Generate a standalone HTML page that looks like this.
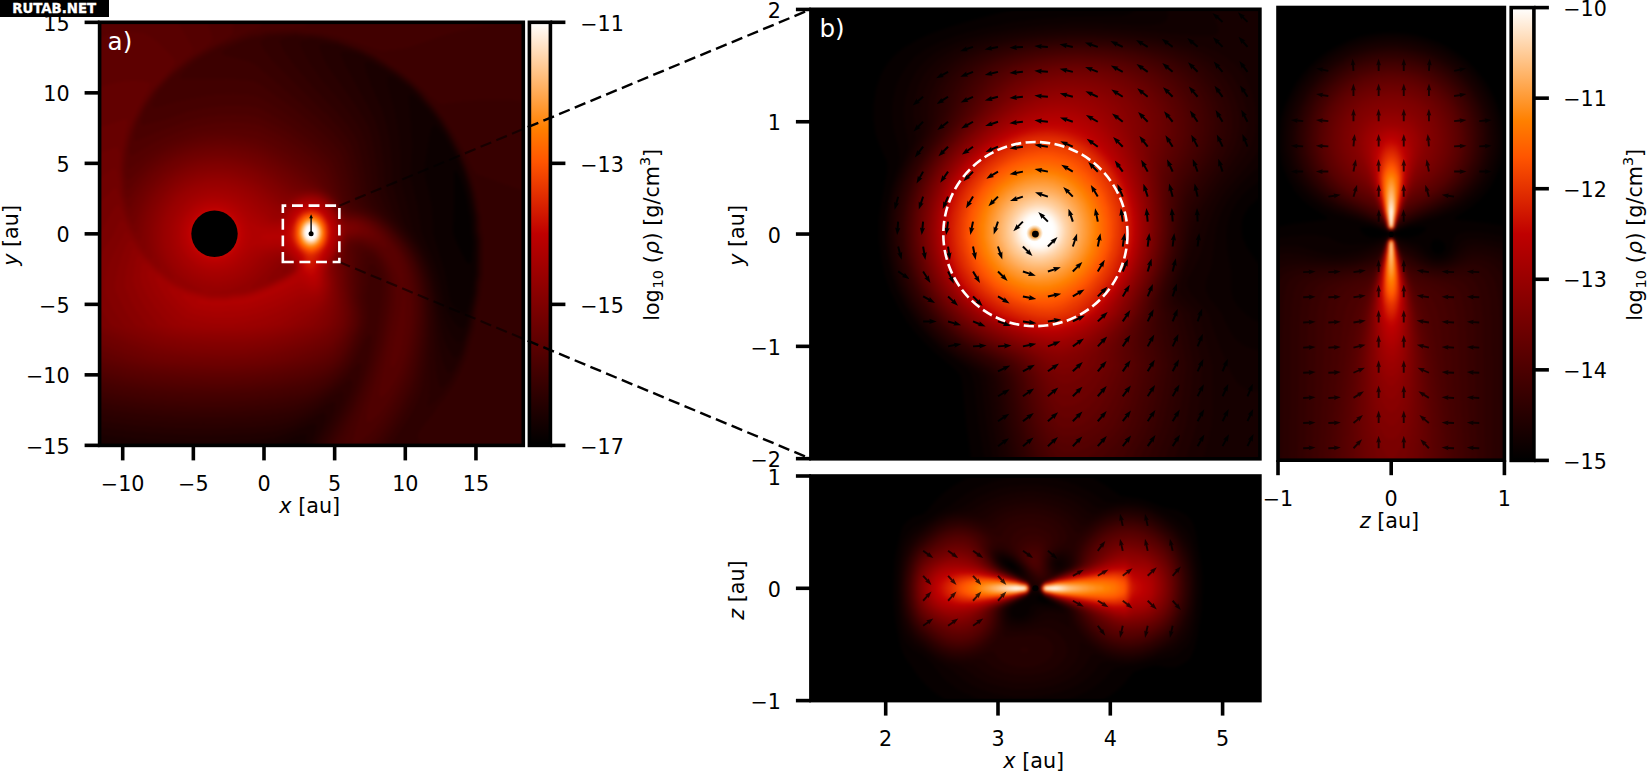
<!DOCTYPE html>
<html lang="en"><head><meta charset="utf-8"><title>Figure</title>
<style>html,body{margin:0;padding:0;background:#fff;overflow:hidden}svg{display:block}</style></head>
<body>
<svg width="1647" height="771" viewBox="0 0 1647 771">
<defs><linearGradient id="gh" x1="0" y1="0" x2="0" y2="1"><stop offset="0" stop-color="#ffffff"/><stop offset="0.25" stop-color="#ff8000"/><stop offset="0.33" stop-color="#ff5500"/><stop offset="0.5" stop-color="#bf0000"/><stop offset="1" stop-color="#000000"/></linearGradient></defs>
<clipPath id="hA"><rect x="99.6" y="22.3" width="423.7" height="423.1"/></clipPath><filter id="hAf" x="-5%" y="-5%" width="110%" height="110%" color-interpolation-filters="sRGB"><feGaussianBlur stdDeviation="1.5"/></filter><g clip-path="url(#hA)"><g fill-rule="evenodd" filter="url(#hAf)"><rect x="91.6" y="14.3" width="440" height="440" fill="#050000"/>
<path fill="#0c0000" d="M531.5 454.5l-440 0 0 -174 0 -266 440 0 0 440zM470.5 262.5l1 -3.5 1 -16.5 -1.5 -12 -0.5 -12 -2 -8 -1 -8 -4 -15.5 -4 -10 -4 -7 -1 0.5 -0.5 4 0 30 -1 26 0.5 4 4 10 8 15.5 2 3 2 1 1 -1.5z"/>
<path fill="#110000" d="M531.5 454.5l-440 0 0 -172 0 -268 440 0 0 440zM466.5 312.5l1 -2.5 4 -16 1.5 -11.5 1.5 -10 1 -30 -2 -10 -0.5 -16 -4.5 -22 -3 -12 -4 -11.5 -6 -15 -12 -20.5 -6 -7.5 -2 -2 -2 -0.5 -2 3 -2 8.5 -4.5 27.5 -0.5 6 0.5 6 3.5 14 3 14 1 12 1 18 11 36 2.5 12 3 16 1 4 4.5 6 6 4.5 2 1 2 -0.5 1 -1z"/>
<path fill="#160000" d="M531.5 454.5l-229 0 -1 -8 -2 -3.5 -2 -0.5 -4 1 -4 1.5 -11.5 9.5 -175 0 -11.5 -2 0 -166 0 -272 440 0 0 440zM462 328.5l1.5 -0.5 2 -3 4 -12.5 4.5 -20 0.5 -10 1.5 -8 0.5 -34 -2 -10 -0.5 -14 -4.5 -24 -2 -8 -4 -12 -6 -15.5 -12 -22.5 -8 -12 -10 -12.5 -12 -12 -2 -2 -4 -1.5 -0.5 2 0 2 2 26 1 18 -1 34 0.5 4.5 6 23.5 4 27.5 10.5 24.5 4 10 4 14 4 22 3.5 9 6 10 6 6 2.5 1z"/>
<path fill="#1a0000" d="M531.5 454.5l-224.5 0 0 -18 -1 -2 -2.5 -0.5 -8 2 -18 8 -10 2.5 -14 2 -26 1.5 -30 0.5 -30 -1 -26 -2 -50 -6 0 -155 0 -272 440 0 0 440zM460 342.5l1.5 -2 2 -3.5 4 -10.5 7.5 -34 0.5 -10 2 -8 0 -34 -1.5 -10 -1 -14 -2 -12 -4 -18 -5.5 -17 -6 -15 -10 -19 -12 -18.5 -18 -21 -8 -7.5 -15 -10 -5 -2 -2 0.5 -0.5 1.5 0.5 6 7.5 28 4 22 1.5 20 0.5 28 5.5 20 5 22 2 6 12.5 22 6.5 16 4 14 6 30 5 15.5 4 7.5 4 5 2 2 2.5 0z"/>
<path fill="#1f0000" d="M531.5 454.5l-220.5 0 0 -6 1 -6 3.5 -12 1 -4 -0.5 -2 -2.5 -1 -6 2 -20 8 -12 4 -12 2 -20 1.5 -38 1 -38 -1 -36 -2.5 -40 -4.5 0 -147.5 0 -272 440 0 0 440zM457 356.5l2.5 -3.5 2 -4.5 7.5 -22 7 -34 0.5 -10 2 -8 0 -34 -2 -10 0 -12 -2.5 -14 -4.5 -20 -6 -18 -5 -12 -5 -9.5 -5.5 -10.5 -6.5 -10.5 -12 -16 -6 -6.5 -5.5 -7 -6.5 -6 -16 -12 -21.5 -12 -4.5 -2 -4 -0.5 -0.5 0.5 -0.5 2 2 8 4.5 12 11.5 26 4 14 3 14 1.5 14 1 12 0.5 20 8.5 30 2 6 3 6 13.5 20 8 16 4 12 2 8 8 46 2 9 4 10.5 4 6.5 2 2.5 2 0.5 1.5 -1z"/>
<path fill="#240000" d="M531.5 454.5l-217 0 0 -6 2 -8 7.5 -16 2 -6 0 -4 -0.5 -1 -2 -0.5 -6 2 -22 10.5 -12 4 -14 3 -20 1.5 -38 1.5 -40 -1 -40 -3 -40 -5 0 -140 0 -272 440 0 0 440zM450 372.5l3.5 -3.5 6 -10.5 3 -6 5 -16.5 3 -9.5 6.5 -34 0.5 -10 1.5 -8 0.5 -34 -2 -10 -0.5 -14 -4.5 -24 -4 -14 -4 -12 -5 -12 -11.5 -22 -10.5 -16 -8 -10 -5.5 -6 -6.5 -8 -8 -7.5 -12 -9 -25.5 -15.5 -14.5 -6.5 -12 -2.5 -4 0.5 -0.5 0.5 0 2 4 10 25.5 46 5.5 12 4 14 2.5 16 1.5 14 1 22 7.5 22 5.5 10 5.5 8 7.5 10 7 10 4 8 5 12 3.5 12 3 14 3 24 2 22 2 12 2 8 3 8 2 3.5 2 0.5 0.5 0z"/>
<path fill="#290000" d="M531.5 454.5l-213.5 0 0.5 -8 1.5 -6 11.5 -22 3.5 -10 0.5 -4.5 -2 -2 -6 2 -22 12 -14 5.5 -16 4 -20 2 -40 1.5 -40 -0.5 -42 -3 -42 -5.5 0 -405.5 440 0 0 440zM444 386.5l5.5 -6 6 -9.5 6.5 -12.5 2 -6 7.5 -26 6.5 -34 0.5 -8 2 -10 0 -34 -2 -10 -0.5 -14 -4.5 -24 -2.5 -10 -5 -14 -7.5 -18 -8.5 -16 -7.5 -12 -11.5 -16 -6 -6 -5.5 -7 -9.5 -9 -16.5 -12.5 -20 -12.5 -11 -5 -5 -2.5 -20 -6.5 -12 -1.5 -5 0.5 -1 2 1 4 3 8 3 6 29 40.5 8.5 13.5 4.5 8 3.5 12 3 16 2 14 1.5 22 1 4 5 12 4.5 8 24 30 7 12 5 12 4.5 16 3.5 24 1 14 1 32 2 22 2.5 10 2 1 2.5 -1z"/>
<path fill="#2d0000" d="M531.5 454.5l-210.5 0 0.5 -6 1.5 -6 12.5 -24.5 7 -15.5 1 -4 0.5 -4 -0.5 -2 -2 -1 -6 2.5 -24 14.5 -12 5.5 -8 2.5 -8 2 -22 3 -40 2 -42 -1 -22 -1 -22 -2 -44 -6.5 0 -398.5 440 0 0 440zM428 406.5l3.5 -2 8 -7 4 -4.5 7 -8.5 8 -14 6.5 -16 7.5 -26 3 -18.5 3.5 -15.5 0.5 -10 2 -10 0 -36 -1.5 -8 -0.5 -14 -2 -7 -0.5 -7 -2.5 -10 -4 -14 -4 -12 -6 -14 -10.5 -20 -7.5 -12 -10.5 -14 -6.5 -7 -4 -5 -12 -12 -12 -9 -24 -15 -14 -7 -22 -7.5 -15.5 -3.5 -10.5 -1 -8.5 1 -3 2 0 2 3.5 8 6 10 11 16 17 19.5 10 12.5 10 14 4.5 8 3.5 10 3.5 16 2 14 1.5 20 1 4 2.5 6 5.5 8 14 15 15 19 6 10 6 14 4 12 1.5 10 2.5 16 0.5 14 -2 76 -1.5 8 0 2 0.5 0z"/>
<path fill="#320000" d="M531.5 454.5l-110.5 0 -1 -10 -2 -8 0.5 -4 4 -6 8.5 -10 8.5 -12 5 -6 8.5 -12 3.5 -6 4 -8 6 -14 8.5 -30 0.5 -6.5 1.5 -5.5 0.5 -6 3.5 -16 1 -10 1.5 -8 0 -6 0 -32 -2 -9.5 -0.5 -12.5 -1.5 -6 -0.5 -6 -2.5 -12 -3.5 -12 -6 -16 -5 -12 -9.5 -18 -10 -16 -9 -12 -7.5 -8 -4.5 -6 -8 -7.5 -14 -11.5 -6 -3.5 -20 -13 -12 -5.5 -24 -9 -14 -3.5 -12 -1.5 -8 0 -8 -1 -4 0.5 -8 1.5 -3.5 2 0 2 5 10 10.5 14 20 23.5 22 23 9.5 11.5 7 10 4 8 3.5 14 3 16 2.5 22 2 6 4 6 18.5 17.5 11 12.5 6 8 4 6 5 10 3.5 8 3 10 3.5 20 1 18 0 18 -2.5 30 -3 20 -2 8 -5 12 -7.5 14 -12 18 -13.5 18 -58.5 0 0 -6 2 -6 14.5 -28 8 -18 3 -10 0.5 -4 -1 -2.5 -2 0 -2 1 -24 16.5 -10 5.5 -8 4 -8 3 -8 2 -24 3.5 -20 1.5 -22 0.5 -22 0 -22 -0.5 -22 -1.5 -22 -2 -20 -2.5 -24 -4 0 -392.5 440 0 0 440z"/>
<path fill="#370000" d="M375.5 454.5l-48 0 0.5 -6 1 -4 18.5 -36 9 -22 3 -10.5 1.5 -7.5 0.5 -4 -2 -2 -4 3.5 -9.5 10.5 -7 6 -9.5 7 -10 6.5 -8 4 -10 3.5 -10 3 -12 2 -20 2 -22 1.5 -22 0.5 -24 -0.5 -26 -1 -24 -2.5 -24 -3 -26 -4.5 0 -386.5 440 0 0 179.5 -54 -19.5 -2 -1.5 -2 -3 -10.5 -21.5 -10.5 -18 -8 -12 -9.5 -12 -7.5 -8.5 -4.5 -5.5 -11.5 -11 -10 -7.5 -28 -18.5 -14 -6.5 -22 -8 -14 -3.5 -12 -2 -8 0 -8 -1 -23 2 -7.5 2 -3 2 -1.5 2 0.5 2 3.5 6 9.5 12 37.5 37.5 20 19 10 11.5 7.5 10 3 6 4 14 3.5 16 2 18 2 6 4.5 6 13.5 10.5 8 7.5 15.5 18 5.5 8 3.5 6 4 10 3 8 2.5 12 2 12 0.5 10 0.5 14 -1 18 -2 18 -2 12 -3 14 -2 6 -5.5 12 -10 18 -15 22 -9.5 12 -1 0z"/>
<path fill="#3c0000" d="M369.5 454.5l-38 0 -0.5 -2 0.5 -4 1.5 -4 19 -38 7.5 -18 4 -12 4.5 -16 3.5 -20 0 -3 -1 -3 -1 -0.5 -4 4.5 -4.5 10 -6.5 12 -7.5 10 -7.5 7.5 -10 8 -10 6 -10 4.5 -12 3.5 -20 3.5 -24 2.5 -26 1.5 -26 0 -32 -1.5 -26 -2.5 -28 -3.5 -24 -4.5 0 -381 440 0 0 87.5 -24 -2 -20 0 -22 1 -22 3 -4 -0.5 -10 -7.5 -5 -5.5 -13 -11.5 -4 -2.5 -6 -5 -26 -16.5 -16 -7.5 -20 -7.5 -18 -4.5 -26 -2.5 -28 1.5 -8 2.5 -7.5 1.5 -11.5 4 -13 6 -3.5 2 -2 2 1 2 2.5 1 24 6 6 3 64 55 14 13.5 10 12 4 7.5 5.5 20 3.5 24 2.5 6 4 4 18.5 12.5 10 9.5 10 12 6 8 5.5 10 3.5 8 3 10 2 10 2 14 1 18 -1 14 -2 16 -2.5 16 -2.5 12 -2.5 8 -3 8 -6 12 -6.5 12 -7.5 12 -8.5 12 -11 14 -2 0z"/>
<path fill="#410000" d="M365.5 454.5l-30 0 -0.5 -2 1.5 -6 17 -36 10 -25 6.5 -19 6 -26 5.5 -41.5 1 -14.5 -0.5 -6 -1.5 -4 -3 -6 -4 -4 -2 -0.5 -2 1 -2 5.5 0.5 12 -2 14 1.5 16 -0.5 10 -2 8 -7 16 -7 14 -4.5 6 -5 5.5 -6 5.5 -6 4.5 -6 4 -8 4 -8 3 -8 2 -26 4 -28 2.5 -30 1 -38 -1 -28 -2 -30 -4 -28 -5.5 0 -375.5 440 0 0 7 -30 2 -28 4.5 -16 3.5 -14 4 -36 12.5 -22 3 -4 0 -4 -1 -38 -13 -16 -3.5 -12 -1 -6.5 0 -9.5 -1.5 -30 2 -6 2 -8 1 -8 2.5 -25 10 -21 12 -12.5 10 -5 6 1 2 2.5 0.5 44 -0.5 16 1.5 10 1 4 2 4 2.5 34 24.5 28 23.5 10 10.5 7 8.5 2.5 6 3 10 3 12 3 18 2 4 4 4 19.5 11.5 10 8.5 14 16 5 8 4.5 8 4 10 3.5 12 2.5 14 1 12 0 14 -1 12 -2 16 -3 16 -3 12 -2.5 8 -5.5 12 -6 12 -7.5 12 -8 11.5 -17.5 22.5 -0.5 0z"/>
<path fill="#450000" d="M357.5 454.5l-16.5 0 -0.5 -2 1 -4 19.5 -48 7.5 -20 5.5 -18 5.5 -24 6 -38 0.5 -10 -0.5 -8 -1 -6 -3 -8 -6 -9 -4 -3 -4 -0.5 -2 2 -2 8.5 0 16 -1.5 14 2 14 0.5 8 -1.5 8 -6 16 -8 16 -7.5 9.5 -10 9 -12 7 -8 3 -8 2.5 -26 4.5 -28 3 -32 1 -38 -1 -30 -2.5 -30 -4 -28 -6 0 -370 222 0 -2 4 -6 8 -12.5 2 -27.5 2.5 -6 1.5 -8 1.5 -10 3 -23 9.5 -18.5 10 -6.5 4 -8 6 -14 11.5 -14 16 -4.5 8.5 -0.5 2 0 2 1 1 4 0 20 -6 12 -2.5 16 -3 12 -1.5 16 -0.5 16 1 6 1 6 2.5 20 12.5 14 9.5 20 15.5 14 13.5 6 7 3 6 5.5 18 4 20 2 4 2.5 2 3.5 2 15.5 7.5 10 7 9.5 9.5 8.5 10 6 9 5.5 11 4 12 2.5 12 2 14 0.5 14 -1 12 -2 18 -3.5 18 -3 12 -3 8 -6 13 -8 14.5 -8 12.5 -8 10.5 -18 21.5 -2 0z"/>
<path fill="#4a0000" d="M359.5 442.5l-4 1.5 -2 -1 -0.5 -2.5 0.5 -4 4.5 -16 14.5 -42 5.5 -20 4 -16 3 -18 3 -18 1 -12 0 -8 -1 -6 -1.5 -6 -3 -7.5 -4 -6.5 -4 -5 -4 -3 -4 -1 -4 0 -2 2.5 -2 12.5 0.5 14 -0.5 18 1.5 10 0.5 8 -0.5 8 -2 6 -7.5 18 -8 13.5 -4 4.5 -6 5 -6 4.5 -6 3 -8 3 -8 2.5 -28 5 -28 3 -30 1 -40 -1 -30 -2.5 -28 -4 -30 -6.5 0 -365 172.5 0 -2.5 10 -1.5 2 -2 2 -8.5 2.5 -34 15 -21.5 12.5 -21 16 -15.5 16 -8 11.5 -4 7.5 -2 4.5 -2 6.5 0 4 2 0.5 4 -1 18 -4.5 22 -8 12 -2.5 12 -2 14 -1.5 14 0 14 1 6 1.5 16 9 16 10 20 14.5 12 11 7.5 8 2.5 4.5 5 13.5 5 20.5 2 4.5 2 3 2.5 2 17.5 7 10 6 10 9 12.5 16 6 10 5 12 3.5 12 2 14 1 12 -0.5 14 -1.5 16 -3 18 -3 11.5 -4 12.5 -6 13 -8 14.5 -8 12 -8 10 -8 8 -8 6.5z"/>
<path fill="#4f0000" d="M371.5 421l-2 1 -2 -0.5 -1 -1 0 -6 1 -6.5 11 -37.5 6.5 -28 6 -36 1 -10 0 -8 -1 -8 -1.5 -6 -3.5 -8 -3.5 -6 -6.5 -8 -6.5 -3.5 -4 -1 -4 -0.5 -2.5 1 -2 2 -0.5 2 -0.5 14 1 12 0 20 1.5 10 1 8 -1 8 -1 4 -8 18.5 -8 13.5 -8 7.5 -6 4 -6 3 -8 3 -10 2.5 -30 5.5 -26 2.5 -30 1 -40 -1.5 -30 -2.5 -24 -4 -32 -7 0 -360 141 0 1 16 -0.5 2 -1 2 -5.5 4 -11 5.5 -20 11.5 -8 5.5 -16 13 -16 17 -10.5 15.5 -7.5 16 -3 12 0 4 0.5 2 0.5 0.5 2 -0.5 22 -9.5 26 -9.5 18 -4.5 16 -2 14 -0.5 18 1 8 2 16 8 14 8 18 13 10 8.5 8 8 4 5.5 3 8 5.5 16 3.5 8.5 4 6.5 4 3 10 3 6 2.5 11 6.5 5 4 5.5 6 11 14 5.5 9 4 9 3 10 2 10 1.5 12 0.5 14 0 12 -2 14 -2.5 14 -2.5 10.5 -4 12.5 -4 9 -6 11.5 -8 12.5 -8 9.5 -6 5z"/>
<path fill="#540000" d="M383.5 396.5l-2 1 -2 -0.5 -0.5 -6.5 15.5 -80 1 -14 -0.5 -12 -2 -8 -3 -8 -4.5 -8 -4.5 -6 -3.5 -4 -4 -2 -6 -2.5 -6 -1.5 -4 0.5 -2.5 1.5 -2 2 -0.5 2 2 50 2 8 0.5 6 0 6 -1 6 -8 18 -4.5 8 -4 5.5 -6 6 -10 6 -8 3 -10 3 -32 6 -26 2.5 -30 1 -38 -1.5 -32 -3 -22 -3.5 -34 -8 0 -355 114 0 6.5 22 0 4 -3 4 -5 4 -10.5 6.5 -22 17.5 -16 16.5 -8 11.5 -4 6 -6.5 14 -4 10 -2 8 -1.5 9 0 5.5 2 2.5 2 -0.5 18 -11 12 -6 22 -8.5 12 -3.5 14 -2.5 16 -1.5 16 0.5 14 2 12 5.5 14 7.5 18 12.5 10 7.5 8 7.5 4.5 5.5 2.5 4 6 14 9 16 4 5.5 4 2.5 8 2 6 2 7.5 4 4.5 3 6 5 6.5 8 7.5 10 4 6 4 8.5 2.5 7.5 2 8 2 12 1.5 14 0 12 -1 14 -3 16.5 -2 9.5 -4 13 -4 9 -4 7 -6 9 -4 4z"/>
<path fill="#580000" d="M249.5 380.5l-18 1 -20 0 -28 -1.5 -20 -1.5 -32 -4 -40 -10 0 -350 81 0 13 20.5 7.5 13.5 -0.5 2 -3 4 -20 18 -15 16 -7 10 -5 8 -7 14 -4 10 -2 8 -2.5 14 0 12 0.5 3.5 2 1 2 -1.5 16 -12.5 16 -9.5 12 -5.5 18 -6.5 14 -2.5 20 -2 18 1 8 1 6 1.5 14 6.5 12 7 16 11 10 8 9 9.5 6.5 12 8.5 10.5 8.5 13.5 3.5 3 10 2 8 3 6.5 4 5 4 7.5 8 9.5 14 4 8 3.5 9.5 2 9.5 0.5 15 1.5 12 0.5 16 -0.5 6 -2 14 -2 10 -4 12 -2 4 -2 2.5 -2 0 -0.5 -0.5 -0.5 -4 0.5 -4 2.5 -16 8 -38 1.5 -12 -2 -8 -4 -10 -6.5 -12 -4 -6 -5.5 -6 -5.5 -3.5 -6.5 -2.5 -7.5 -2 -4 0 -4 1.5 -2 1 -2 3.5 -0.5 4 2.5 22 1 22 2 16 0 10 -1.5 6 -5.5 11.5 -4 7.5 -4.5 7 -5.5 5.5 -4 3 -8 3.5 -8 3 -14 3.5 -18 3.5 -16 2.5 -16 1.5z"/>
<path fill="#5d0000" d="M251.5 376.5l-18 1 -20 0 -28 -1 -22 -2 -30 -4 -20 -5 -22 -6 0 -319 16 -5.5 12 -2.5 12 -0.5 12 1 6 3 8 6 10 9.5 6 6.5 1.5 2.5 0 2 -2.5 4 -21.5 24 -10 16 -7 14 -5.5 16 -3 16 -1 16 1 7 2 4.5 2 -0.5 16 -16 12 -9 14 -8 14 -5.5 16 -4.5 18 -2 18 1 18 3 8 2.5 16 8.5 10 6 14 10 12 11 6 8 12 12.5 10 15 2 1.5 4 2 8 1.5 4 1.5 8 4 7.5 6 5 6 2.5 4 2.5 8 -1.5 1.5 -2 -1 -12 -4 -10 -2.5 -4 0.5 -6 1 -2 1.5 -1.5 3 -1 4 -0.5 8 2 12 1 20 1.5 12 1.5 8 0 10 -1.5 6 -5.5 12 -4 7 -6 7.5 -4 4 -6 4 -6 2.5 -10 3 -14 3.5 -16 3 -14 2 -14 1.5z"/>
<path fill="#620000" d="M253.5 372.5l-20 1 -22 0 -28 -1 -24 -2.5 -18 -2.5 -16 -3.5 -14 -3.5 -20 -7 0 -263 16 -6 14 -3 8 -1 8 0 8 1 4 1.5 0.5 1.5 -2.5 6 -7 12 -7.5 16 -4.5 12 -2.5 10 -2 10 -1 16 0.5 9 2 11 0 1 2 2.5 2 -1 12 -14.5 10.5 -10 11.5 -9 14 -7 16 -5.5 16 -3 16 -1 18 2 12 3 8 3 14 7.5 18 12 10 7.5 11.5 10.5 12.5 10 6 6.5 8 12.5 2 2 4 1.5 8 1.5 8 3 6.5 5 5.5 6 1.5 2 1.5 4 0 2 -1 0.5 -4 0 -12 -2 -8 0.5 -4 0.5 -2 1 -2 2.5 -1 3 -1.5 6 -1 8 0.5 4 1.5 4 2 26 2 16 0 8 -1 6 -2 6 -5.5 9.5 -6 8 -4 4 -6 4 -8 4 -6 2 -14 3.5 -14 3 -16 2.5 -14 1.5z"/>
<path fill="#670000" d="M257.5 368.5l-22 1.5 -22 0 -30 -1.5 -26 -2.5 -16 -2.5 -13.5 -3 -36.5 -13.5 0 -218.5 16 -3.5 16 -5.5 2 -0.5 2 1.5 0 2.5 -3 13.5 -2 14 -1 16 2 23 2 7 2 2 2 -0.5 11 -15.5 9 -10.5 11.5 -9.5 12.5 -7.5 14 -6 16 -4 16 -1.5 16 1 12 2 10 3 8 3.5 12 7 14 9.5 17 13 13 7.5 6 4 6.5 6.5 9 14 2.5 2.5 4 1 8 1.5 6 3 5.5 4 4 4 2 4 -0.5 2 -1 0.5 -2 0.5 -12 -0.5 -8 1.5 -4 2.5 -2 3.5 -3 12 -0.5 6 2 8 1 16 3 26 -0.5 6 -2 8.5 -5 9.5 -5 6 -4 4.5 -6 4 -8 4 -14 5 -22 5 -24 3.5z"/>
<path fill="#6c0000" d="M233.5 366.5l-20 0 -28 -1.5 -20 -1.5 -18 -3 -22 -6.5 -34 -13 0 -184.5 18 -7 6 -2 2 0 0.5 1 1.5 3.5 0.5 2.5 -0.5 12 3 28 5 12.5 2 1 2 -2.5 5 -9 5 -8 9.5 -12 6.5 -6 6 -5 6 -4 8 -4.5 8 -3 8 -3 10 -2 8 -1 8 -0.5 10 0.5 8 1 10 2 10 3 8.5 4.5 15.5 9.5 22 16 14 5.5 6 3 6 4.5 4 4 8.5 13.5 3.5 3.5 4 1.5 8 1.5 6 3.5 4.5 4 1.5 2 0 2 -2 2 -10 1 -8 2 -2 1.5 -2 2.5 -2 6 -3.5 15 0 4 2 6 1 14 1.5 16 0.5 14 -1 6 -1 4 -5.5 8 -4.5 6 -5.5 4.5 -8 4 -16 6 -16 5 -12 2.5 -14 2 -28 2z"/>
<path fill="#700000" d="M243.5 362.5l-22 0.5 -28 -1 -21 -1.5 -15 -2.5 -10 -2 -16 -5.5 -40 -15.5 0 -151.5 18 -12.5 4 -2 2 0 2 3.5 2 10.5 1.5 11.5 4.5 14 4 7.5 2 0 8.5 -17.5 7.5 -12 5.5 -6 6 -6 6.5 -5.5 6 -4.5 6 -3 8 -3.5 8 -3 10 -2 8 -1 8 -0.5 16 1 12 3 12 4 16 9.5 22 16 6 2.5 12 2.5 8 3.5 6 4.5 4 4.5 8 12.5 4 4.5 4 1.5 6.5 1.5 4 2 2.5 2 1.5 2 0.5 2 -2.5 2 -12.5 3.5 -2 1 -2 2.5 -7 21 -0.5 4 2 10 2 26 0.5 14 -1 6 -2 5.5 -6 8 -6 5.5 -6 4 -10 4 -14 5 -14 4 -16 3.5 -24 2.5z"/>
<path fill="#750000" d="M245.5 358.5l-22 0.5 -28 -1 -20 -2 -18 -2.5 -10 -2.5 -16 -6 -40 -16.5 0 -115 12 -15 10 -10 2 -1 2 3 1 4 3.5 8 1.5 6 4 9.5 4 6 2 1 2 -4 3 -8.5 3 -8 6.5 -12 4.5 -6 5.5 -6 5.5 -5.5 6.5 -4.5 6.5 -4 7 -4 8 -3 8 -2 8 -1.5 8 -0.5 8 0 10 1 14 3 14 6 12 7 18 13.5 4 2.5 4 1 14 1.5 6 1.5 4 2 6 5 4 4 10 16 4 2.5 8 2 3 2.5 1 2 -0.5 2 -3.5 2 -6 1.5 -2 1 -2 2.5 -2 4.5 -7 20.5 0 4 1.5 10 1.5 20 0.5 10 -1 8 -1 6 -1.5 4 -3 4 -6 6 -6 4 -8 4 -14 5 -14 4 -14 3.5 -12 2 -14 1.5z"/>
<path fill="#7a0000" d="M243.5 354.5l-20 0.5 -28 -1 -20 -2 -18 -3.5 -10 -3 -16 -5.5 -31 -13.5 -2.5 -2 -6.5 -8.5 0 -71.5 8 -10 8.5 -16 6 -10 3.5 -3.5 2 1 7 14.5 5 9 2 2 2 1.5 2 -0.5 3.5 -16 4 -10 5 -10 7.5 -10 8 -8 11 -8 11 -5.5 12 -4 10 -1.5 10 -0.5 10 0.5 12 2.5 10 3.5 10 4.5 10 6.5 16 12 4 2 4 1 14 0 4 0.5 6 1.5 6 3.5 4 3.5 5 6 9 14.5 4 3 5 2.5 2 2 -7 4.5 -2 2.5 -2 4 -8.5 25 -0.5 4 1.5 8 1.5 18 -0.5 10 -0.5 6 -2 8 -3.5 8 -5.5 4.5 -6 4 -10 4.5 -16 5.5 -12 3.5 -14 3 -24 3z"/>
<path fill="#7f0000" d="M241.5 350.5l-24 0 -20 -0.5 -16 -1.5 -20 -3.5 -20 -6.5 -24 -10 -4.5 -2 -2.5 -2 -10 -16 -4 -8 -2.5 -6 -1 -8 1 -8 1.5 -8 2 -8 5.5 -12 10.5 -16 6 -13.5 2 -1.5 2 1.5 7.5 11.5 4.5 5.5 4 3 1.5 -0.5 2.5 -16 3 -12 5.5 -12 7 -10 8.5 -9 10 -7.5 12 -6 12 -3.5 10 -1.5 8 -0.5 10 1 10 2 10 3 10 5 11 7 15 11.5 4 2 4 0 8 -1 6 -0.5 6 0.5 6 1.5 6 3.5 7 6.5 4 6 5 9 5.5 7 0.5 2 -0.5 2 -3.5 6.5 -4 13.5 -6 14 -0.5 4 1.5 10 0.5 14 -0.5 12 -3.5 12 -2.5 6 -3 3.5 -4 3.5 -6 3 -16 6 -12 4 -22 5 -24 3z"/>
<path fill="#830000" d="M241.5 346.5l-24 0 -20 -1 -16 -1.5 -18 -3 -20 -7 -18 -7.5 -2.5 -2 -10.5 -16 -5 -10 -2 -6 -1 -4 0.5 -8 3 -14 3 -8 4 -8 8.5 -16 2 -2.5 2 1 4 3.5 10 12 2 1.5 2 0.5 1 -2 0 -16 1.5 -12 4 -12 7 -12 8.5 -10 10 -8.5 12 -6 12 -4 10 -1.5 10 0 12 1.5 10 2.5 8 3.5 8 4 8 5.5 16 12 4 1.5 4 0 10 -3 6 -0.5 6 0.5 6 1.5 8 5 5.5 6 11.5 20 0.5 2 -0.5 4 -5.5 16 -6 14 -1 4 -0.5 4 1.5 10 0 10 -0.5 8 -1 6 -4 10 -6 10 -4 3 -6 2.5 -26 9 -22 5 -22 2.5z"/>
<path fill="#880000" d="M243.5 342.5l-24 0 -20 -0.5 -16 -1.5 -18 -3.5 -18.5 -6.5 -9.5 -4 -4 -3.5 -6 -8.5 -4.5 -8 -4 -8 -3.5 -8 -0.5 -4 0 -4 2 -10 4.5 -16 6 -14 2 -2 2 0.5 2 1.5 12 13 4 3 2 0 0.5 0 0.5 -2 -2.5 -16 0.5 -12 2.5 -12 5 -12 7.5 -11 5 -5 5 -4.5 6 -4 6 -3.5 12 -4.5 10.5 -1.5 11.5 -0.5 10 1 10 3 10 4 7.5 4.5 20.5 15 5.5 3 2.5 0 12 -4.5 6 -1.5 8 0 6 2 6.5 4 6 6 4 6 7 14 0.5 2 0 4 -4.5 14 -8.5 20 -0.5 4 1.5 12 0 6 -2 11.5 -4 10.5 -6 8.5 -5 5.5 -3.5 2 -21.5 7.5 -22 5.5 -12 1.5 -12 1.5zM285 272.5l3 -2 0.5 -2 -1 -0.5 -2 -0.5 -1 1 -2 2 -1 2 2 0 1.5 0z"/>
<path fill="#8d0000" d="M245.5 338.5l-24 0.5 -20 -1 -16 -1.5 -16 -2.5 -20 -7.5 -3 -2 -1.5 -2 -9 -12 -5.5 -10 -5 -12 -0.5 -4 0 -4 1.5 -12 4.5 -16 0.5 -2 2 -2 2 0.5 10.5 9.5 11.5 9 2.5 1 1 -2 -5.5 -16 -1.5 -12 0 -8 1 -6 3.5 -12 3 -6 4 -7 4.5 -5 5.5 -5.5 6 -5 6 -3.5 12 -4.5 10 -2 10 -0.5 10 1 10 3 8 3 8 4 6 4 16 13 4 2 2 0.5 4 -1.5 10 -5 6 -1.5 8 -0.5 6 1 4 1.5 4 2.5 6 6 5 8 5.5 12 0.5 2 0 4 -3.5 12 -3 8 -6 12 -1 4 0 4 1 10 -0.5 8 -1.5 6 -3 8 -5.5 7.5 -6 6 -9 6.5 -9 3.5 -12 4 -12 2.5 -14 2.5 -12 1.5zM272 280.5l10 -4 7 -4 2.5 -2.5 0.5 -1.5 -0.5 -2 -2 -2 -4 -2 -2 0 -4 2 -5.5 6 -6.5 8 -1 2 1 0.5 4.5 -0.5z"/>
<path fill="#920000" d="M247.5 334.5l-20 0.5 -32 -1 -20 -3 -14 -4.5 -3.5 -2 -2.5 -3 -10 -13 -7 -12 -4 -10 -1.5 -6 0.5 -6 2 -14 2 -4.5 2 0 2 1.5 9.5 7 6.5 6 6 3 4 3 4 2 2 0.5 1 -0.5 -9 -14 -3 -6 -3 -8 -1 -6 -0.5 -8 0.5 -8 1 -6 2.5 -8 2.5 -6 4 -6 4.5 -6 4.5 -4.5 6 -4.5 6 -3.5 8 -3.5 10 -2.5 10 -0.5 10 0.5 10 2.5 8 3.5 8 4 6 4.5 15.5 12 4.5 2.5 2 0.5 4 -1.5 10 -6 6 -2.5 8 -1.5 8 1.5 4 1.5 4 2.5 6 6 4.5 7 5 12 0.5 6 -3 12 -3 8 -6.5 12 -1 4 -0.5 4 1 12 -1.5 8 -3 8 -4.5 6 -8 6.5 -18 11.5 -4.5 2 -19.5 5 -22 3zM252 288.5l14.5 -4 18 -8 6.5 -4 2 -2 1 -2 -0.5 -2 -4 -4.5 -4 -2.5 -4 -0.5 -3.5 1.5 -5.5 4 -13 14 -9 8 0.5 2 1 0z"/>
<path fill="#970000" d="M251.5 330.5l-20 1 -26 -0.5 -20 -2 -12 -2.5 -3.5 -2 -4.5 -4 -10 -12 -7.5 -12 -6 -12 -1.5 -6 0 -6 1 -7.5 2 -2 4.5 1.5 7.5 6.5 6 3.5 8 6 7.5 4 10.5 4 10 2 4 0.5 2.5 -0.5 -8.5 -3.5 -8 -5 -7.5 -5.5 -5.5 -6 -5 -7 -4 -8 -3 -9 -1 -8 0.5 -8 1 -8 3 -8 4 -8 5.5 -7.5 6 -5.5 8 -5.5 8 -3.5 8 -2.5 10 -1 10 0.5 10.5 3 7.5 3 9 5 21 16 4 3.5 2 0.5 14 -10 6 -3.5 8 -2 8 0.5 4 1.5 4 2 6 5.5 4.5 6 5.5 12 1 6 -1.5 10 -3.5 10 -8 16 -1 4 0.5 14 -1 4 -2.5 7.5 -2.5 4.5 -5.5 4.5 -14 7 -20 12.5 -10 2.5 -20 3.5zM243.5 292.5l9.5 -2 6 -2 10.5 -4 13 -6 7 -4 4 -3.5 1.5 -2.5 0 -2 -1.5 -2.5 -8 -6.5 -4 -1.5 -2.5 0.5 -5 2 -4.5 3 -16 15.5 -6 4.5 -6 3.5 -12 5 -10 1.5 -10 0 -2 1 18 1 6 -1 12 0z"/>
<path fill="#9b0000" d="M253.5 326.5l-18 1.5 -24 0 -18 -1.5 -10.5 -2 -3.5 -2 -4 -3 -6 -6 -6 -7 -8.5 -12 -5.5 -12 -2 -6 0 -4 0 -2 2 -1 10 5.5 8 6 6 3.5 14 6 22 5 16 0.5 8 -1.5 8 -0.5 15.5 -3.5 12.5 -5 15 -7 7 -4.5 4 -3.5 0.5 -2 0 -2 -0.5 -2 -2 -2 -8 -7 -2 -1.5 -4 -0.5 -8.5 3 -5.5 2.5 -3.5 3.5 -10.5 10 -8 6 -8 4 -8 2.5 -6 1 -6 0.5 -10 -1.5 -6 -2 -6 -2.5 -10 -6.5 -4 -4 -4.5 -5.5 -4 -6 -2.5 -6 -2 -6 -1 -6 0 -8 1 -6 1 -6 2.5 -6 3.5 -6.5 4 -5.5 4 -4 5 -4 5 -3.5 6 -2.5 8 -2.5 10 -1 10 0.5 10 2.5 8 4 7.5 4.5 18.5 14.5 4 5.5 4 1.5 2 0 2 -1.5 2.5 -4 4 -4 4.5 -4 5 -3.5 8 -3 4 0 5.5 0.5 4.5 1.5 4 2 5 4.5 5 6.5 4.5 9.5 1.5 4 0.5 4 -2 10 -4 12 -6 10 -1.5 4 -1 6 -0.5 14 -2 6 -3.5 5 -4 3 -14 5.5 -18 10 -8 4 -11.5 4.5 -10.5 2z"/>
<path fill="#a00000" d="M245.5 322.5l-14 1.5 -22 -0.5 -14 -2.5 -10 -3 -4 -3 -5 -4.5 -10.5 -12 -7.5 -12 -2.5 -6 -0.5 -3 2 -1 2 1 8 5.5 8 4 12 4.5 22 5.5 16 0.5 8 -2 8 -0.5 10 -2 18 -6.5 16 -8 8 -5 2 -2 1.5 -3 0 -2 -0.5 -2 -1.5 -2 -9.5 -9 -4 -2 -4 0 -10 2.5 -4.5 2.5 -5.5 4 -7.5 8 -5 4 -6.5 4 -7 3 -8 2 -8 0.5 -10 -1.5 -8 -3 -8 -4.5 -8 -7 -6 -8.5 -4 -9 -1.5 -10 0 -10 3 -10 4 -8 6.5 -8 8 -6.5 10 -5 6 -1.5 6 -0.5 6 0 8 1 6 2 6 2.5 6 3.5 6 4 14 12 4 4.5 3.5 2 2.5 0.5 4 -0.5 2 -1.5 4.5 -6.5 3.5 -4 6 -5.5 6 -3 6 -1 4 0 7 1.5 4 2 5 4 6 8 4.5 10 1 6 -1 8 -2.5 8 -3.5 8 -5 8 -1.5 4 -1.5 6 -0.5 12 -2 6 -2 3 -4 3 -14 3 -6 3 -14 8 -8 3.5 -16 5.5 -12 3z"/>
<path fill="#a50000" d="M243.5 316.5l-10 1 -20 0 -10 -1 -10 -2.5 -6 -3 -7.5 -6.5 -8.5 -10 -3.5 -6 1.5 -1.5 18 6 24 5.5 14 0 8 -1.5 10 -1 12 -3 14 -5.5 18 -9 8.5 -6 2 -4 -0.5 -4.5 -2 -2.5 -10 -10 -4 -2.5 -4 0 -14 3 -5 2.5 -5 3.5 -6.5 6.5 -5.5 4.5 -6 3.5 -8 3 -8 1.5 -8 0 -8 -2 -6 -2.5 -8 -5 -7 -7 -5 -8 -2.5 -8 -1 -8 0.5 -10 2.5 -8 5 -8 3.5 -4.5 4 -4 4 -2.5 6 -3 10 -3 6 -0.5 6 0.5 8 1.5 8 3.5 9.5 6 8.5 7.5 6 4.5 4 4 6 2.5 6 0.5 2 -0.5 2 -1.5 2 -2.5 4 -6.5 3.5 -4 4.5 -4 4 -2.5 5.5 -1.5 6.5 -0.5 6 1.5 6 3 6 6 4 6.5 4 9 0.5 6.5 -1 6 -3.5 10.5 -9 17.5 -1 4 -1 12 -1 4 -2 3 -2 2.5 -4 1.5 -10 0 -4 1 -26 13 -18 6.5 -12 2.5z"/>
<path fill="#aa0000" d="M243.5 310.5l-8 0.5 -18 1 -8 -0.5 -8 -1.5 -6 -1.5 -3.5 -2 -6.5 -6 -3.5 -4 1.5 -2 26 5 14 0 4 0 6 -1.5 8 -0.5 10 -2 18 -7 16 -7.5 6 -4 4 -3 2.5 -3.5 1 -4 -1.5 -4 -14 -14.5 -2 -1 -4 -0.5 -18 3 -4 1 -4 3 -12 11 -6 4 -6 2.5 -6 1 -8 0.5 -6 -1 -6 -2 -8 -4.5 -6 -5.5 -5 -7 -3.5 -8 -1 -8 0.5 -10 2 -6 4.5 -8 6.5 -7 6 -4 4 -2 10 -2.5 10 0.5 8 2 8 4 7 5 9 8.5 10 7 6 1.5 8 0.5 2 -0.5 2 -1.5 2 -2.5 5.5 -9 2.5 -3.5 3.5 -2.5 4.5 -3 6 -2 6 0 6 1 6 3.5 4.5 4.5 5 8 3.5 8 0.5 6 -1.5 8 -3 8 -9 18 -1 4 -1 10 -2.5 6 -1.5 2 -4 2 -4 -0.5 -6 -1.5 -4 0 -26 12.5 -18 6.5 -12 3z"/>
<path fill="#af0000" d="M243.5 304.5l-22 1.5 -8 0 -11 -1.5 -4.5 -2 -1 -2 6.5 -0.5 6 2 18 -0.5 6 -1.5 10 -1 14 -3.5 14 -6 12 -6 8 -4.5 4 -3 3 -3.5 1 -4 0 -4 -2 -4 -14 -14.5 -2 -1.5 -4 -1 -8 1 -12 0.5 -4 1 -4 2.5 -8 9 -4 3.5 -6 4 -6 2.5 -6 1 -6 0 -6 -0.5 -6 -2 -6 -3.5 -7 -6 -4 -6 -3 -8 -1 -8 1 -8 3 -8 4 -6 7 -6.5 8 -4 8 -2 10 0.5 8 2.5 8 4.5 5 5 7 8.5 6 4 6 3 14 1.5 4 -1 2 -2 9 -14 5 -5 6 -3 6 -2 6 0.5 6 2 4 2.5 4.5 5 4 6 3.5 8 0.5 6 -1 6 -2.5 8 -10 20 -1.5 4 -1.5 10 -2 4 -2 2 -4 0.5 -10 -4 -4 0 -24 11.5 -21 8 -9 2z"/>
<path fill="#b30000" d="M223.5 265l-6 0.5 -6 0 -6 -1 -6 -3 -6 -4 -4 -4.5 -2.5 -4.5 -2.5 -6 -1 -6 0 -6 1.5 -6 2.5 -6 4 -5.5 4 -3.5 5 -3 5 -2.5 6 -1 8 0 8 2 6 3.5 5 4 5 6 4.5 8 2.5 6 0.5 4 -0.5 2 -4.5 8 -4.5 6 -4 4.5 -4 3 -4 2.5 -6 2.5zM315.5 283l-2 1 -4 -0.5 -10 -6.5 -0.5 -2.5 1.5 -8 -1.5 -6 -11.5 -12 -6 -7 -2 -2 -2 -0.5 -7.5 1.5 -4.5 -0.5 -4 -1.5 -1.5 -2 3 -2 2.5 -0.5 4 -0.5 8 0.5 2 -1.5 2 -2.5 9.5 -15.5 2.5 -3.5 6.5 -4.5 3.5 -1.5 4 -1 6 0 4 1.5 4 2 3.5 3 3.5 4 3 6 2.5 6 1 4 -1 6 -2 8 -11 22 -2.5 12 -1 2 -2 2.5z"/>
<path fill="#b80000" d="M219.5 262.5l-6 0.5 -6 -1 -6 -2.5 -4 -2.5 -4 -3.5 -3.5 -5 -2 -4 -1.5 -6 -0.5 -6 0.5 -4 2 -6 4 -6 5 -5.5 4 -2.5 4 -1.5 6 -1.5 6 0 6 1 6 2.5 4 3 4 3.5 3.5 5 3 6 1.5 6 0 4 -1.5 6 -3 6 -3 4 -4 4 -4.5 2.5 -6 2.5 -4 1zM313.5 280.5l-2 0.5 -2 -1 -7 -5.5 -1 -2 0 -6 -1 -6 -1.5 -2 -13.5 -14.5 -3 -5.5 -0.5 -2 1.5 -6 8 -14 2 -3.5 4 -3.5 4 -2.5 4 -1.5 4 -0.5 4 0.5 4 1 4 2.5 4 3.5 5 8 2.5 6 0.5 4 -1 8 -2.5 8 -7.5 14 -3 8 -3 10 -1 1 -2 1z"/>
<path fill="#bd0000" d="M217.5 260.5l-4 0 -6 -1 -6 -2.5 -3.5 -2.5 -4 -4 -2.5 -4 -2 -4.5 -1 -5.5 0 -6 1 -4 1.5 -4 2.5 -4.5 3.5 -3.5 4.5 -3.5 4 -1.5 6 -1.5 6 -0.5 4 1 5 2 5 3 4 3.5 3.5 5.5 2 4 1 6 0 4 -1.5 6 -1.5 4 -3.5 4.5 -4 3.5 -4 3 -4 1.5 -6 1.5zM313.5 277l-2 0.5 -2 -0.5 -6 -5 -1 -3.5 -1 -8 -1 -2 -12 -14 -2.5 -4 -1.5 -4 0 -2 1 -4 6 -12 3 -4 3 -3.5 4 -2.5 4 -1.5 4 -0.5 4 0 4 1.5 6.5 4.5 3 4 2.5 4 2 6 1 4 -0.5 6 -2.5 8 -7 14 -7 16.5 -2 2z"/>
<path fill="#c30500" d="M313.5 273.5l-2 0.5 -2 0 -4.5 -3.5 -1.5 -2.5 -1.5 -9.5 -11.5 -14 -2 -4 -1.5 -4 0.5 -4 1 -4 3.5 -8 3.5 -5.5 6 -5 4 -1.5 4 -1 4 0.5 4 1 6 4.5 4 5 2 4 2 8 -0.5 6 -2.5 8 -7.5 14 -5.5 12 -2 3zM223.5 256.5l-8 2 -6 -1 -4 -1 -4 -2 -4 -3.5 -2.5 -2.5 -2 -4 -1.5 -4 -1 -4 0.5 -6 0.5 -4 2 -4 2 -3.5 5 -4.5 5 -3 4 -1 6 -1 4.5 1 5.5 1.5 3.5 2.5 4.5 4 3 4 2 4 1 4 0 6 -0.5 4 -2 4 -2.5 4 -3 3.5 -4 3 -4 1.5z"/>
<path fill="#cb0f00" d="M311.5 269l-2 0 -2 -0.5 -2 -2 -2 -9 -2 -3 -7 -8 -3 -6 -1.5 -6 0.5 -4 2 -6 4 -8 5 -5 4 -2 4 -0.5 4 0 4 1.5 4 2.5 3 3.5 4.5 8 1 8 -1 8 -2.5 6 -6.5 10 -5 10 -1.5 1.5 -2 1z"/>
<path fill="#d21a00" d="M311.5 264.5l-2 0.5 -2 -1.5 -2.5 -7 -1.5 -2 -4.5 -4 -4 -6 -2.5 -6 -0.5 -4 1 -8 2.5 -6 2 -3.5 2.5 -2.5 3.5 -3 6 -1.5 4 0 4 1.5 4 3 2 2 2.5 4 2 4 1 8 -1 8 -2.5 5.5 -8 10.5 -4 6 -2 2z"/>
<path fill="#da2400" d="M311.5 259l-2 0 -12 -12 -3.5 -6.5 -1 -6 1 -8 1.5 -4 2 -4 2 -2.5 4 -3 6 -2 6 0.5 4 2 3 3 3 4 1.5 4 1.5 8 -1.5 8 -2.5 6 -5 6 -8 6.5z"/>
<path fill="#e22e00" d="M313.5 255l-4 0.5 -2 -0.5 -7.5 -6.5 -4 -6 -1.5 -4 -0.5 -4 1 -8 1 -4 2.5 -4 5 -4.5 6 -2 6 0.5 3.5 2 2.5 2 4 6 1.5 4 0.5 4 -0.5 8 -2 6 -5.5 6.5 -6 4z"/>
<path fill="#e93800" d="M315.5 253l-4 1 -2 0 -2 -0.5 -4 -3 -2.5 -2 -3 -4 -2 -4 -1 -4 0 -8 1.5 -4 1.5 -4 3.5 -4 2 -1.5 6 -2.5 6 1 4.5 3 2 2 2.5 4 2 6 0.5 6 -2 8 -4 6 -5.5 4.5z"/>
<path fill="#f14200" d="M313.5 252.5l-4 0.5 -2 -1 -5.5 -3.5 -4.5 -6 -1.5 -6 0 -8 1 -4 2 -4 4.5 -4.5 2 -1.5 4 -1 6 1 2 1 3.5 3 4 6 1 6 -0.5 8 -2.5 6 -3.5 4 -6 4z"/>
<path fill="#f94d00" d="M315.5 250.5l-4 1.5 -2 -0.5 -4 -1.5 -4 -3.5 -2 -2 -1 -2 -2 -6 0 -8 2 -6 5 -6 4 -2 6 0 4 2 4.5 4 3 6 0.5 8 -1 6 -3.5 6 -5.5 4z"/>
<path fill="#ff5700" d="M311.5 251l-2 -0.5 -4 -1.5 -5 -4.5 -3 -6 -0.5 -6 1 -6 3 -6 4.5 -4 2 -1 4 -0.5 4 1 3.5 2.5 2 2 3 6 1 6 -0.5 6 -3 6 -4 4 -2 1 -4 1.5z"/>
<path fill="#ff6100" d="M315.5 248.5l-4 1.5 -2 0 -4 -2 -2.5 -1.5 -3 -4 -2 -6 -0.5 -4 0.5 -4 2 -6 3.5 -4 2 -1.5 4 -1.5 4 0.5 4.5 2.5 4 4 2 6 0.5 6 -1.5 6 -3.5 5 -4 3z"/>
<path fill="#ff6b00" d="M313.5 249l-4 0 -4 -1.5 -2 -1.5 -2 -2.5 -2 -3 -1.5 -6 0.5 -6 2.5 -6 4 -4 4.5 -2 4 0 2 1 4 3 2.5 4 2 6 -0.5 6 -2 5.5 -4 4.5 -4 2.5z"/>
<path fill="#ff7500" d="M311.5 248.5l-4 -1 -4.5 -3 -1.5 -2 -2 -4 -1 -6 1 -6.5 2 -3.5 2 -2 4 -3 4 -0.5 4 1 4 3.5 3 5 1 6 -1 6 -3 5.5 -4 3 -4 1.5z"/>
<path fill="#ff8000" d="M315.5 246.5l-4 1 -2 0 -4 -1.5 -3.5 -3.5 -2.5 -6 -0.5 -6 2 -6 3 -4 3.5 -2 2 -1 4 0.5 4 2 3.5 4.5 1.5 4 0.5 6 -1 4 -2.5 4.5 -4 3.5z"/>
<path fill="#ff8a14" d="M313.5 246.5l-4 0.5 -2 -1 -3 -1.5 -3 -4 -2 -6 0.5 -6 1.5 -4 4 -4.5 4 -1.5 4 0 4 2.5 3 3.5 2 6 -0.5 6 -1.5 4 -3 3.5 -4 2.5z"/>
<path fill="#ff9429" d="M315.5 245l-4 1 -4 -0.5 -4 -3 -3 -6 -0.5 -6 2.5 -6 3 -4 4 -1.5 4 0.5 4 2 2 3 2 4 0.5 6 -1 4 -2.5 4 -3 2.5z"/>
<path fill="#ff9e3d" d="M313.5 245l-4 0.5 -4 -2 -3 -3 -2 -6 0.5 -6 2 -4 2.5 -3 4 -2 4 0.5 4 2.5 2.5 4 1.5 4 0 4 -2 5.5 -2 2.5 -4 2.5z"/>
<path fill="#ffa852" d="M313.5 244.5l-4 0.5 -4 -2 -3 -4.5 -1.5 -4 0.5 -6 2 -4 2 -2.5 4 -2 4 0.5 3 2 3 4 1.5 4 0 4 -1.5 4 -2.5 4 -3.5 2z"/>
<path fill="#ffb266" d="M311.5 244.5l-4 -1 -3.5 -3 -2 -4 -0.5 -4 0.5 -4 2.5 -4 3 -3 4 -1 4 1.5 2.5 2.5 2 4 0.5 4 -0.5 4 -2 4 -2.5 2.5 -4 1.5z"/>
<path fill="#ffbd7a" d="M313.5 243l-4 0.5 -2.5 -1 -3.5 -4 -1.5 -4 0 -4 1.5 -4 2 -3 4 -2 4 0.5 2 1 3 3.5 1.5 4 0 4 -1.5 4 -3 3.5 -2 1z"/>
<path fill="#ffc78f" d="M313.5 242.5l-4 0.5 -2 -1 -2 -1.5 -1.5 -2 -1.5 -4 0 -4 1.5 -4 1.5 -2 4 -2.5 4 0.5 2 1 2.5 3 1.5 4 0 4 -1.5 4 -2.5 3 -2 1z"/>
<path fill="#ffd1a3" d="M311.5 242.5l-4 -1 -2 -1.5 -2 -3.5 -0.5 -4 1 -4 1.5 -3.5 2 -1.5 4 -1 2 0.5 2 1.5 2 2 1 2 0.5 4 -0.5 4 -1 2 -2 2 -2 1.5 -2 0.5z"/>
<path fill="#ffdbb8" d="M313.5 241.5l-4 0 -2 -0.5 -2.5 -2.5 -1.5 -4 0 -4 2 -4 2 -2.5 2 -1 4 0.5 2 1.5 2 3 1 2.5 0 4 -0.5 2 -2.5 3.5 -2 1.5z"/>
<path fill="#ffe5cc" d="M313.5 240.5l-2 1 -2 -0.5 -2 -1 -2 -2 -1.5 -3.5 0 -4 1 -2 2.5 -4 2 -0.5 2 -0.5 2 0.5 2 1.5 2.5 5 0 4 -0.5 2 -2 2.5 -2 1.5z"/>
<path fill="#fff0e0" d="M311.5 241l-2 -0.5 -3 -2 -1.5 -2 -0.5 -4 1 -4 1 -2 3 -2 2 -0.5 2 1 2 1.5 1.5 2 0.5 4 -0.5 4 -1 2 -2.5 1.5 -2 1z"/>
<path fill="#fffaf5" d="M313.5 239.5l-2 0.5 -2 0 -2 -1 -2 -2.5 -0.5 -2 0 -4 1 -2 1.5 -2.5 2 -1 2 0 2 0.5 2 1.5 1.5 3.5 0 4 -0.5 2 -3 3z"/>
<path fill="#ffffff" d="M313.5 239l-2 0.5 -2 0 -2 -1.5 -2 -3.5 0 -4 1 -2 1 -2 2 -1 2 0 2 0.5 2 2 1 2.5 0 4 -0.5 2 -2.5 2.5z"/></g></g>
<clipPath id="hB"><rect x="810.9" y="9.3" width="449" height="449.5"/></clipPath><filter id="hBf" x="-5%" y="-5%" width="110%" height="110%" color-interpolation-filters="sRGB"><feGaussianBlur stdDeviation="1.5"/></filter><g clip-path="url(#hB)"><g fill-rule="evenodd" filter="url(#hBf)"><rect x="802.9" y="1.3" width="466" height="466" fill="#000000"/>
<path fill="#070000" d="M1269 467.5l-297 0 -1.5 -14 -4 -28 -4.5 -44 -1 -5 -2 -3 -3.5 -4 -20.5 -17 -10 -9.5 -10 -11 -8 -10.5 -8.5 -14 -8 -16 -5.5 -16 -3.5 -16 -2.5 -20 0 -20 2.5 -18 5.5 -28 0.5 -8 -0.5 -4 -7.5 -16 -4 -12 -2 -14 0 -14 2.5 -16 4.5 -14 3 -6 4 -6 5 -6 4 -4 8.5 -6.5 12 -7 14 -6.5 20 -7 22 -6.5 28 -7.5 20 -4.5 24 -4 23.5 -2.5 200.5 0 0 191 -6 3 -6 4 -4.5 4 -4 4 -3.5 5.5 -2 4.5 -1 4 -0.5 6 1 10 4.5 10 6 9 16 19.5 0 191.5z"/>
<path fill="#0c0000" d="M1269 467.5l-284 0 -1.5 -14 -5 -28 -4.5 -42 -2.5 -8 -2.5 -4.5 -3.5 -3.5 -16.5 -11.5 -8 -6 -8 -7.5 -12.5 -13 -8 -10 -9.5 -16 -7 -14 -5.5 -16 -4 -18 -1.5 -12 -0.5 -12 2 -24 3.5 -18 6 -18 3 -8 0.5 -6 -1 -10 -4 -14 -2 -10 -0.5 -10 0.5 -12 3 -14 5 -12 6.5 -10 8 -9 10 -7 14 -7.5 20 -7.5 22 -6 32 -6.5 32 -4 26 -1.5 40 -0.5 12.5 -0.5 7 -2 3 -2 2.5 -4 1 -6 132 0 0 172 -20.5 16 -7.5 7.5 -5 6.5 -4.5 8 -2.5 7 -2 9 -0.5 8 0.5 12 4 24 0.5 20 2 8 5.5 8 11 10 3 2 5.5 2 10.5 2 0 144z"/>
<path fill="#110000" d="M1269 467.5l-275.5 0 -2 -14 -5 -28 -5 -40 -1 -6 -2 -6 -5 -4 -20.5 -13.5 -11.5 -8.5 -12.5 -12 -10.5 -12 -11 -16 -8 -16 -6.5 -18 -4 -18 -1.5 -12 -0.5 -14 0.5 -14 2 -12 2.5 -12 3 -10 12 -30 1.5 -6 -3.5 -20 -1 -8 0 -10 1.5 -10 3.5 -12 4.5 -10 7 -10 8.5 -8 6 -4.5 8 -4.5 10 -4.5 10 -4 26 -7 28 -5 28 -3.5 26 -1.5 24 0 48 2 10 -0.5 6 -0.5 6 -2.5 1.5 -2 1 -2 0.5 -6 -0.5 -10 101.5 0 0 153.5 -9 10.5 -17 16.5 -8 8.5 -6.5 9 -6 10 -3 8 -3 10 -1.5 10 -3 26 -1.5 6 -4.5 12 -0.5 6 1 4 2.5 6 13 16 3 8 4 8 4 6 4 4.5 6 5 8 3.5 8 1.5 10 0.5 0 117z"/>
<path fill="#160000" d="M1269 467.5l-269 0 -2 -14 -5 -28 -5.5 -40 -1.5 -8 -1 -2 -7 -6 -21 -13.5 -12 -8.5 -13.5 -12 -10.5 -12.5 -11 -15.5 -9 -18 -6.5 -18 -4 -18 -1 -10 -0.5 -12 0.5 -12 1.5 -12 2.5 -14 4.5 -14 5 -12.5 10 -21.5 2.5 -8 -2.5 -24 1 -10 1.5 -8 3 -10 5 -10 6 -8 8.5 -8 8.5 -6 8.5 -4.5 12 -5 12 -4 14 -3.5 16 -3 18 -2.5 18 -2 28 -1.5 28 0.5 32 2 58 5.5 14 0.5 8 -0.5 2 -0.5 3 -1.5 0.5 -2 0 -2 -6.5 -18 -3 -10 60 0 0 58.5 -3 3.5 -1 2.5 -0.5 5.5 2.5 32 0.5 14 -1 10 -2 10 -4.5 10 -4.5 8 -6 8 -22.5 26 -5.5 8 -5 8 -3.5 8 -4 10 -9 32 -3.5 8 -8 14 -1.5 6 0.5 4 3 6 18 20 6.5 20 6 16 10.5 24 5.5 9 6 5 6 2.5 8 1 12 -0.5 0 77z"/>
<path fill="#1a0000" d="M1201 467.5l-195 0 -2.5 -14 -5.5 -28 -5 -38 -2 -10 -3.5 -4 -5 -4 -23.5 -14.5 -13 -9.5 -13 -12 -10.5 -12 -11 -16 -9 -18 -6 -18 -2.5 -10 -1.5 -10 -1 -12 0 -12 0.5 -12 2 -12 3.5 -14 4.5 -12 5 -12 11 -22 3 -8 1 -4 -1 -14 0 -8 1 -6 1.5 -8 5 -12 6.5 -10 8 -8.5 10.5 -7.5 13.5 -7 16 -5.5 20 -4.5 20 -3.5 22 -2.5 24 -1.5 22 0 24 1 24 2.5 26 3.5 22 4.5 16 4 14 5.5 10 6 9 7.5 8 10 4 8 3.5 8 2 8 2 8 0.5 8 0 8 -0.5 8 -1.5 6 -4 10 -4.5 8 -26.5 34.5 -6 9.5 -5.5 10 -5.5 12 -9 25 -3.5 11 -8.5 24 -1 6 -0.5 4 1.5 3.5 17.5 18.5 14 52 0.5 32 -1.5 28 -3.5 16 -3.5 12 -2.5 14 -1 0z"/>
<path fill="#1f0000" d="M1185 467.5l-174 0 -2.5 -14 -6 -28 -5.5 -40 -1.5 -6 -0.5 -2 -3 -4 -5 -4 -29.5 -18 -8.5 -6.5 -9 -7.5 -9 -9.5 -7.5 -8.5 -7 -10 -6 -10 -5.5 -12 -4.5 -12 -3.5 -12 -2 -12 -1.5 -12 0 -14 1 -14 2.5 -12 3.5 -14 4.5 -12 6 -13 12 -23 3 -8 1.5 -6 0 -12 1 -10 2 -8 3.5 -8 5.5 -10 7 -8 7 -6 9.5 -6.5 14 -6 16 -5 18 -4 24 -3.5 22 -2 24 -0.5 24 0.5 24 2 24 3 20 4 16 4.5 14 5 11.5 6.5 10 8 7.5 8 6 10 6 14 3 14 0.5 8 -0.5 6 -2.5 12 -3 8 -4.5 8 -26.5 38 -7.5 12 -6 12 -4 10.5 -7 29.5 -8 24 -2 8 -0.5 6 1.5 4 13 14 6.5 26 5.5 26 -1.5 30 -3.5 28 -4 14 -5.5 16 -2.5 14z"/>
<path fill="#240000" d="M1173 467.5l-157.5 0 -2.5 -14 -6.5 -28 -6 -42 -2 -6 -3 -4 -4.5 -4.5 -32 -19.5 -10 -7 -8 -7 -10 -10 -8 -10 -6.5 -10 -6.5 -12 -5 -12 -4 -12 -3 -12 -1.5 -12 -1 -12 0.5 -14 1.5 -12 2.5 -12 4 -14 5 -12 6 -12 12 -22 4.5 -10 1.5 -6 1 -12 1 -8 2.5 -8 2.5 -6 6.5 -10 6.5 -7.5 8 -6.5 10.5 -6 14.5 -6 17 -5 20 -4 20 -2.5 24 -1 22 -0.5 24 1.5 24 2.5 20 3 16 4 14 4 12.5 6 10 6 9 8 8.5 10 5.5 10 4.5 12 2.5 12 0 12 -2.5 12 -3 8 -5.5 10 -24 36 -11.5 20 -3 10 -6.5 32 -9 28 -2 8 -0.5 6 1.5 6 1.5 1.5 7.5 8.5 6.5 28 4.5 24 -2.5 28 -5 32 -4.5 14 -5 14 -3 14 -0.5 0z"/>
<path fill="#290000" d="M1163 467.5l-143 0 -2.5 -14 -7 -28 -7 -44 -2.5 -6 -3.5 -4 -5 -4 -31.5 -19 -10 -7.5 -10 -8.5 -10 -11 -8 -10 -7.5 -12 -6 -12 -4.5 -12 -3.5 -12 -2.5 -12 -1 -12 0 -14 1 -12 2 -12 3 -12 4 -12 5 -11 17 -31 5 -10 3 -10 2 -12 1 -6 3 -8 3 -6 5.5 -8 8 -8 8.5 -6.5 12 -6.5 14.5 -5 17.5 -4.5 18 -3 22 -2 24 -1 22 0.5 22 1.5 22 3 16 3 15.5 4.5 12.5 4.5 10 5.5 8.5 6 8.5 8 7.5 10 5.5 10 3.5 10 2 12 0 12 -2 10 -3 8 -5 10 -24 36 -7.5 13 -3 11 -4.5 26 -3 12 -9.5 30 -1.5 8 -0.5 6 0.5 4 1.5 4 5 6 6 28 4.5 24 -3.5 28 -5.5 32 -5 14 -5.5 14 -3.5 14 -0.5 0z"/>
<path fill="#2d0000" d="M1153 467.5l-129 0 -2.5 -14 -7.5 -28 -7 -42 -1 -4 -2 -4 -3 -4.5 -6 -5 -34 -20 -10 -7.5 -10 -9 -9 -10 -9 -12 -7 -12 -6.5 -14 -4 -12 -3 -12 -2 -12 -0.5 -12 0.5 -14 1.5 -12 2.5 -12 3.5 -12 4 -10 5 -10 17 -30 5 -10 4 -10 4 -18 2.5 -6 3 -6 6 -8 8.5 -8.5 10 -6.5 12 -6 14 -4.5 18 -4 20 -3 20 -1.5 22 -0.5 22 1 22 2 18 3 14 3 14 4.5 11.5 5 10.5 6 7.5 6 7.5 8 7 10 4.5 10 3.5 10 1.5 10 -0.5 10 -2 10 -3.5 10 -5 10 -24.5 37.5 -3 6.5 -3 12 -3.5 24 -3 14 -12 40 -0.5 6 0.5 6 1.5 4 2 4 6 30 4 22 -4 30 -6 30 -5.5 14 -6 14 -4 14 -1.5 0z"/>
<path fill="#320000" d="M1145 467.5l-116.5 0 -3 -14 -8 -28 -7 -42 -1.5 -4 -1.5 -4 -5 -6 -5.5 -5 -8 -5 -16 -8.5 -12 -8 -10.5 -7.5 -9.5 -9.5 -9.5 -10.5 -10 -14 -6.5 -12 -5.5 -14 -4 -14 -2 -10 -1 -12 -0.5 -10 0.5 -12 2 -12 2.5 -12 4 -12 8.5 -18 17.5 -30 5.5 -10 5 -12 5 -18 3 -6 3.5 -6 7 -8 9 -8 10 -5.5 12 -5.5 14 -4 18 -3.5 18 -2.5 20 -1 20 0 22 1 20 2 18 3.5 14 3.5 12 4.5 11 5.5 9 6 8.5 8 6.5 8 4.5 8 4.5 10 2.5 10 1 8 -0.5 10 -1.5 8 -3.5 10 -5 10 -21 32.5 -3.5 7.5 -2.5 11 -4 29 -3 14 -3 12 -7.5 22 -2 8 -0.5 6 0 4 2.5 8 0.5 8 6 32 1.5 12 0 2 -4.5 30 -6.5 28 -5.5 14 -7 14 -4 14 -1 0z"/>
<path fill="#370000" d="M1137 467.5l-104.5 0 -3 -14 -8.5 -28 -7.5 -42 -2 -6 -2.5 -4 -4 -5 -6 -5.5 -6 -3.5 -18 -9.5 -10 -6.5 -12 -8.5 -10.5 -9.5 -12 -14 -8 -12 -6.5 -12 -6 -16 -3.5 -14 -2 -12 -0.5 -12 0 -12 2 -16 2.5 -10 4 -12 4 -10 7 -14 15 -24 7 -12 5.5 -12 6.5 -18 3 -6 3.5 -6 7.5 -8 10 -8 11.5 -6 12 -4.5 14 -4 16 -3 18 -2 20 -0.5 20 0 20 1.5 18 2 16 3.5 12 3.5 12 4.5 8.5 5 9 6 8.5 8 6 8 5 8 4 10 2 8 1 10 -0.5 8 -1.5 8 -2.5 8 -4.5 10 -7 12 -12 18 -3.5 8 -3 12 -4 30 -2.5 14 -4 16 -7 20 -2 8 -1 8 0 4 1.5 6 -0.5 6 0 6 6 34 1 6 -0.5 2 -5 30 -7 28 -6.5 15 -7 13 -4.5 14 -0.5 0z"/>
<path fill="#3c0000" d="M1127 467.5l-90 0 -3.5 -14 -4.5 -12.5 -5 -15.5 -7.5 -42 -2.5 -6 -2 -4 -4.5 -6 -7 -6 -23.5 -12.5 -12 -7 -12 -9 -10.5 -9.5 -10 -12 -9.5 -14.5 -7.5 -15.5 -5.5 -16 -3 -12 -1.5 -12 0 -12 0.5 -12 1.5 -12 3 -12 4 -12 4.5 -10 8 -14.5 16 -23.5 4.5 -8 6 -12 9.5 -22 6 -10 8 -8.5 10.5 -7.5 12.5 -6 13 -4.5 14 -3.5 16 -2.5 18 -1.5 18 -0.5 18 0.5 18 1.5 16 2.5 16.5 4 12 4 9.5 4 10 6 7.5 6 7.5 8 6 8 4 8 3.5 10 2 8 0.5 6 -0.5 8 -1.5 8 -2.5 8 -4.5 10 -6 10 -10 15.5 -4 9.5 -3 13 -4 36 -2.5 14 -3.5 12 -9 26 -1.5 6 -0.5 6 1 8 -1.5 8 0 8 6 36 -6 32 -7.5 28 -6.5 14 -8.5 14 -5.5 14 -1.5 0z"/>
<path fill="#410000" d="M1119 467.5l-77.5 0 -3.5 -12 -5.5 -14 -5 -16 -8.5 -42 -2 -6 -2 -4.5 -4.5 -5.5 -6.5 -6 -25 -13 -12 -7 -12 -9 -12 -11 -11.5 -14 -9 -14 -7 -16 -5 -16 -2.5 -12 -1 -12 0 -14 1 -12 2.5 -12 3.5 -12 5 -12 5 -10 9 -15 16.5 -23 6.5 -12 12.5 -26 7 -10 9 -8 10.5 -7 12.5 -5 15.5 -4.5 14 -3 16 -2 16 -1 18 0 18 1 16 2 16 3 12 3.5 10 4 10 5 8.5 6 7 6 7 8 5 8 4 8 3 10 1 12 0 6 -1.5 8 -2.5 8 -3.5 8 -5.5 10 -8.5 13.5 -4.5 10.5 -1.5 6.5 -1.5 9.5 -3 32 -2.5 16 -4 16 -11.5 32 -0.5 6 0.5 6 -2 10 -0.5 10 5 32 -6 30 -8.5 30 -7.5 14 -9.5 14 -6 14 -0.5 0z"/>
<path fill="#450000" d="M1109 467.5l-62.5 0 -3.5 -12 -6.5 -14 -5.5 -16 -9 -42 -2 -6 -3.5 -6 -4.5 -6 -5 -4 -30 -16 -13.5 -8 -10.5 -8.5 -10 -10 -11 -13.5 -10 -16 -6.5 -16 -5 -18 -1.5 -12 -0.5 -14 0.5 -12 2 -12 3 -12 4 -12 5 -11 6 -11 8 -12 17.5 -24 18.5 -34 4 -6 4 -4.5 10 -8.5 12 -6.5 14 -5 16 -4 14 -2 14 -1.5 16 -0.5 16 0.5 16 1 14 2 12 3 13.5 4 9.5 4 9 5 7 5 7 6 6.5 8 5 8 3.5 8 3 10 1 12 -2 12 -1.5 6 -3.5 8 -4 8 -8.5 14 -4.5 12 -3 16 -1.5 30 -3 20 -4.5 16 -9.5 26 -3 10 0 8 -3 12 -1 10 0.5 6 3.5 24 -6 28 -4.5 16.5 -5 15.5 -9 14.5 -12 15.5 -6 12z"/>
<path fill="#4a0000" d="M1095 467.5l-42 0 -5 -12 -8.5 -16 -5.5 -14 -9.5 -42 -2 -6 -3 -6 -4.5 -6 -6 -5 -30 -15.5 -15.5 -9.5 -12.5 -10 -9.5 -10 -6.5 -8 -5.5 -8 -8.5 -16 -3 -8 -3.5 -10 -2.5 -10 -1.5 -10 -0.5 -18 1.5 -16 3.5 -16 5.5 -16 4.5 -10 6 -10 8 -12 19.5 -26 13.5 -24 7 -11 6 -7 6 -5 7.5 -5 8 -4 10.5 -4 10 -3 12 -2.5 12 -1.5 14 -1 14 -0.5 14 0.5 14 1 14 2 12 3 10 3 10 4 9 5 7 4.5 6 5.5 7 8 5 8 4 8 2.5 8 1.5 8 -0.5 12 -3 12 -4 10 -10.5 19 -2.5 7 -2 8 -1.5 10 -1.5 34 -2.5 18 -4.5 18 -12 32 -1.5 6 -0.5 6 -4.5 18 -1 6 0 6 3.5 22 -3.5 16 -4 15 -7.5 23 -2.5 6 -2 3 -10 14 -12.5 13 -8.5 12 -1 0z"/>
<path fill="#4f0000" d="M1075 466l-8 1 -2 -0.5 -4 -3 -12 -16 -4 -6.5 -4 -8 -4 -9.5 -11 -44 -3.5 -8 -4.5 -6 -4.5 -4 -4.5 -3 -30 -15 -16 -10.5 -8 -6.5 -8 -7 -7 -8 -6 -8 -5 -8.5 -5.5 -9.5 -3.5 -8 -3.5 -10 -4 -18 -1 -10 0 -10 1 -16 3 -14 4 -14 6.5 -14 11 -18.5 25.5 -33.5 16 -26 9.5 -12 7 -6 9.5 -6 8.5 -4 12 -4 12 -3 14 -2 14 -1.5 16 0 24 1.5 20 3.5 18 5.5 8.5 4 7.5 4 6 4.5 6 5.5 5.5 6 5.5 8 3 6 3 8 2 8 0.5 8 -1 8 -2.5 10 -4 10 -8.5 16 -2 6 -2.5 8 -1 8 -0.5 36 -2.5 20 -4.5 18 -13 34 -2.5 12 -3 8 -3 10 -1.5 8 0 6 2.5 20 -4 18 -6 19 -9 23 -9 11.5 -10 10 -12 8.5 -6 5 -4 3 -6 2.5z"/>
<path fill="#540000" d="M1077 451.5l-10 1 -6 -1.5 -6 -4.5 -6 -7.5 -4 -6.5 -4 -9 -12 -44 -4 -8 -4 -6 -4.5 -4 -6 -4 -29.5 -15 -15 -9 -8 -6 -7 -6.5 -7 -7.5 -6.5 -8 -5.5 -8 -5.5 -10 -4 -8 -3.5 -10 -4.5 -18 -1 -10 -0.5 -10 1 -16 2.5 -14 5 -16 6 -14 5.5 -9.5 6 -9 29.5 -37.5 11 -18 9.5 -12.5 6 -5.5 8 -6 10 -5.5 10 -3.5 11.5 -3 12.5 -2.5 14 -1.5 16 -0.5 22 1 22 3.5 10 2.5 9 3.5 8.5 4 7 4 5.5 4 6.5 6 5.5 6 5 8 3 6 3 8 1 6 0.5 8 -0.5 8 -2.5 10 -3.5 8 -6.5 14 -4.5 14 -1 10 0 38 -2.5 20 -2.5 10 -3 10 -11.5 30 -4 14 -4.5 10 -3.5 12 -1.5 8 -0.5 6 2.5 16 -7.5 26 -4 12 -5.5 12.5 -4.5 9.5 -3.5 4 -8 8 -8 6 -8 4.5 -10 3.5z"/>
<path fill="#580000" d="M1075 443.5l-8 1 -6 -1.5 -6 -4.5 -6 -7.5 -3.5 -5.5 -2.5 -7.5 -11 -38.5 -5.5 -10 -4.5 -6 -5 -4 -6 -4 -28 -13.5 -16 -10 -8 -6 -7.5 -6.5 -12.5 -14 -6 -9.5 -5 -8.5 -3.5 -8 -4 -10 -3 -10 -1.5 -10 -1.5 -10 0 -10 1 -16 3 -14 5 -16 7 -14 6 -10 6.5 -9.5 28 -34.5 13.5 -20 8.5 -10 7 -6 9 -6 8 -4 10 -4 12 -3 12 -2 14 -1 14 -0.5 22 1.5 20 3.5 16 5.5 8.5 4 6.5 4 5.5 4 6.5 6 5 6 4 6 3 6 3 8 1.5 6 0.5 8 -0.5 8 -2 8 -9.5 22 -3.5 14 -0.5 10 0.5 38 -1.5 14 -2 12 -2.5 10 -3.5 10 -11 28 -3.5 12 -7 14 -3.5 10 -1.5 8 -0.5 6 2 14 -5.5 18 -4.5 12 -5 12 -5 9.5 -5 8.5 -7 6.5 -8 5.5 -8 4 -8 2z"/>
<path fill="#5d0000" d="M1075 435.5l-8 1 -4 -0.5 -2 -1 -5 -3.5 -5 -6 -6.5 -14 -8.5 -28 -2 -6 -4.5 -8 -4.5 -6 -5 -4 -6 -4 -29 -14 -16 -9.5 -8 -6 -7.5 -6.5 -6.5 -7 -6 -7 -6 -9 -5.5 -9 -3.5 -8 -4 -10 -2.5 -10 -2 -10 -1.5 -10 0 -10 1 -16 3 -14 5.5 -16 6.5 -14 6 -10 7.5 -10 30 -36 11.5 -16.5 6.5 -7.5 7.5 -7 8 -6 8 -4 10 -4 10.5 -3 13.5 -2.5 12 -1.5 14 -0.5 20 1 20 3.5 8 2.5 9 3.5 8 4 6.5 4 6.5 4.5 5.5 5.5 5 6 3.5 6 3 6 2.5 6 1 6 1 8 -0.5 6 -1.5 8 -7.5 20 -4 14 -0.5 10 1 40 -1 14 -2 14 -5 18 -12.5 30 -4 12 -9.5 18 -3 8 -2 8 -0.5 6 0.5 6 1 6 -2.5 8 -6 16 -5.5 12 -6.5 11.5 -6 8.5 -3 4 -7 4.5 -6 3 -8 2.5z"/>
<path fill="#620000" d="M1073 427.5l-6 0.5 -4 0 -5 -2.5 -3 -4 -4 -7 -4 -9 -7.5 -22 -3.5 -8 -5 -8 -5 -6 -5.5 -4 -5.5 -3.5 -28 -13.5 -16 -9 -8 -6 -7 -6 -7 -7 -6 -7 -6 -9 -5.5 -9 -4 -8 -4 -10 -2.5 -10 -2 -10 -1.5 -10 0 -10 1 -16 3 -14 5.5 -16 7 -14 7 -11.5 8 -10.5 29 -34 13 -16.5 6 -7 7.5 -6.5 8.5 -6 8.5 -4 9.5 -4 10 -2.5 12 -2 12 -1.5 14 0 20 1.5 18 3.5 14 5 8 4 6 4 6 4.5 5.5 5.5 5 6 3.5 5 3 7 2 6 1.5 6 0 6 0 6 -1.5 6 -6.5 20 -3 12 0 12 1.5 32 0 16 -2.5 18 -4.5 18 -4.5 12 -10 24 -3.5 10 -11.5 20 -3 6 -2 8 -1.5 6 0 6 1 6 -5 13 -6 13.5 -8 13.5 -4 6 -6 6.5 -6 5 -4 2.5 -8 2z"/>
<path fill="#670000" d="M1071 417.5l-4 0.5 -4 -0.5 -4 -2.5 -4 -4.5 -6 -11.5 -7 -17.5 -3 -6 -4.5 -8 -5.5 -6 -5 -4 -6.5 -4 -30 -14 -14.5 -8.5 -8 -5.5 -7 -6 -7 -7.5 -6 -6.5 -6 -8.5 -6 -9.5 -4 -9 -3.5 -9 -3 -10 -2 -10 -1.5 -10 0 -12 1.5 -16 3 -14 6 -16 7.5 -14 6.5 -10 9.5 -12.5 46 -52.5 8 -7 8 -5.5 8.5 -4.5 9.5 -4 10 -2.5 12 -2 12 -1 12 -0.5 19.5 2 16.5 3.5 14 5 12.5 7.5 5.5 4 6 6 4.5 6 3.5 5 3 7 2 6 0.5 6 0.5 6 -1 8 -5.5 20 -2.5 10 0.5 12 2 34 0 16 -2.5 20 -4.5 18 -4.5 12 -10.5 24 -3.5 10 -15 24 -3 6 -3 12 0 10 -9 20 -8 12.5 -8 9.5 -8 6 -4 2 -6 2z"/>
<path fill="#6c0000" d="M1073 405.5l-6 1 -4 0 -2 -1 -4 -3.5 -4 -6 -7 -14.5 -6 -10 -6 -8 -4 -4 -5.5 -4 -7.5 -4 -26 -12 -14.5 -8 -7.5 -5.5 -8 -6 -12 -12.5 -6.5 -8 -5.5 -8.5 -5 -9.5 -4.5 -10 -3 -10 -2.5 -10 -1 -10 -0.5 -12 1 -16 3 -14 6 -16 7 -14 7.5 -12 10 -12.5 45 -49.5 7 -6.5 8 -6 8 -4 10 -4.5 10 -3 10 -2 12 -1 12 -0.5 18 1.5 16 3 14 5 12 7 10.5 9 7.5 10 3 6 2.5 6 1 6 0.5 6 -0.5 8 -5 22 -1 6 0.5 14 2.5 34 0.5 16 -2 20 -4.5 18 -4.5 12 -11.5 26 -4 10 -20.5 32 -3 10 -1 10 -6.5 12 -6.5 10.5 -6.5 7.5 -7.5 6 -8 4z"/>
<path fill="#700000" d="M1073 393.5l-8 1.5 -4 -1 -2 -1.5 -4 -4.5 -7 -10.5 -7 -10 -8 -8.5 -5 -3.5 -7 -4 -28 -13 -14 -7.5 -14 -10 -12 -11 -7.5 -8.5 -5.5 -8 -5.5 -10 -4.5 -10 -3.5 -10 -2.5 -12 -1.5 -10 -0.5 -12 1 -16 3 -14 5 -14 7 -14 7.5 -12 9.5 -12 34 -36.5 20 -20 8 -5.5 10 -5.5 10 -4 12 -3 12 -2 14 -0.5 13.5 1 12.5 1.5 12 3.5 10 4 8.5 5 8 6 7.5 8 5 8 3 8 2 10 -0.5 10 -3.5 21 0 5 0.5 12 3.5 34 0.5 16 -1.5 20 -4 18 -5.5 16 -12 26 -4 10 -25 36 -2.5 8 -1.5 8 -4.5 6.5 -6 8 -6 6.5 -6 4.5 -6 2.5z"/>
<path fill="#750000" d="M1069 383.5l-6 0.5 -4 -2 -6 -5.5 -14 -15 -6 -5 -12.5 -7 -27 -12 -12.5 -7 -14 -9.5 -12.5 -11.5 -7.5 -9 -6.5 -9 -5.5 -10 -4 -10 -3.5 -10 -2.5 -12 -1 -10 -0.5 -12 1.5 -14 3 -14 4.5 -14 7 -14 8 -12 9.5 -12 12 -13 20 -20.5 22 -20.5 8.5 -6 9.5 -5 10 -4 12 -3 14 -2 12 0 12 0.5 12 2.5 10 3 9.5 4 8.5 5 8 6.5 5.5 6.5 5 8 3 8 1.5 8 0 8 -2 18 0 6 1 14 4 34 0.5 22 -1.5 18 -4 18 -6 16 -15.5 34 -9.5 13 -19.5 25 -2.5 6 -2.5 8 -7.5 7.5 -6 5 -6 3.5 -6 2z"/>
<path fill="#7a0000" d="M1071 373.5l-8 1.5 -2 -0.5 -4 -1.5 -6 -4.5 -10 -9 -6 -4 -12 -7 -28 -12.5 -12 -6 -13 -8.5 -11 -9.5 -8 -9 -7.5 -9.5 -5.5 -10 -5 -10 -3.5 -10 -2.5 -12 -1.5 -10 -0.5 -12 1 -14 2.5 -12 3.5 -12 5 -11.5 6 -11 8 -11.5 8 -10 12 -12.5 20 -20 12 -11 13 -10.5 9 -6 12 -5.5 12 -3.5 12 -2 14 -0.5 12 1 10 1.5 10 3 9 4 7.5 4 7.5 6 6 6 5 8 3 8 1.5 8 0.5 8 -0.5 14 0 6 6.5 50 1 22 -0.5 10 -1 10 -4.5 18 -6 16 -15.5 34 -13.5 17.5 -21.5 24.5 -2.5 4 -2.5 6 -7.5 5 -8 3z"/>
<path fill="#7f0000" d="M1069 367.5l-8 1 -6 -2.5 -12.5 -8.5 -10 -6 -11.5 -6 -26 -11 -12 -6.5 -12 -8 -10.5 -8.5 -7.5 -8.5 -7.5 -9.5 -6 -10 -4.5 -10 -3.5 -10 -3 -12 -1.5 -10 -0.5 -12 1 -12 2 -12 3.5 -12 5 -12 5 -10 8 -11.5 8.5 -10.5 11.5 -12.5 18 -17.5 14 -12.5 14 -11 10 -6 10 -4.5 12 -4 12 -2 14 -0.5 10 1 8.5 1.5 9.5 2.5 8.5 3.5 7.5 4 7.5 6 5.5 6 4 6 3.5 8 2 8 1 8 0 10 1 8 8 52 1 12 0 12 -0.5 10 -1.5 10 -4.5 18 -6.5 16 -15.5 32 -13 16.5 -14 14.5 -16.5 15 -5 6 -6.5 2z"/>
<path fill="#830000" d="M1063 362l-4 0 -6 -2 -24.5 -12.5 -37.5 -16.5 -16 -9.5 -8 -6 -6.5 -6 -7.5 -9 -7 -9 -6 -10 -4.5 -10 -3 -10 -3 -12 -1.5 -12 0 -12 1.5 -12 2.5 -12 4 -12 4.5 -10 6.5 -11 8 -11 8.5 -10 11.5 -12 16 -15 14 -12 12 -9 12 -7 10 -4.5 12 -3.5 12 -2 12 0 10 1 10 2 8 2.5 7.5 3.5 6.5 4 7 6 5 6 3.5 6 2.5 6 1.5 6 2.5 20 9.5 48 2 18 0.5 18 -2 18 -2 9.5 -2.5 8.5 -6.5 16 -16 32 -7 8.5 -8 9 -16 15 -14 10 -8 4 -6 2z"/>
<path fill="#880000" d="M1067 356l-6 1 -4 0 -4 -1 -52 -22 -10 -5 -10 -5.5 -8 -5.5 -8 -7 -8 -8 -8 -9.5 -6 -10 -5 -10 -3.5 -10 -3 -12 -1.5 -10 -0.5 -12 1 -12 1.5 -10 3.5 -12 4 -10 5 -10 6.5 -10.5 8 -10 10 -11 14 -13.5 18 -16 12 -9 10 -6.5 14 -7 10 -3.5 12 -2 12 -1 10 1 8 1 8 2.5 7.5 3.5 7 4 5.5 4 5.5 6 4 6 2.5 6 2 6 13.5 58 4 22 1 20 -0.5 10 -1 10 -2 10 -3 10 -8 18 -15.5 30 -12.5 14.5 -14 13 -14 9.5 -12 5.5z"/>
<path fill="#8d0000" d="M1061 353.5l-6 -0.5 -8 -2 -50 -20.5 -10 -5 -8 -5 -8 -6 -8 -7 -8 -9 -6.5 -9 -6 -10 -4.5 -10 -3 -10 -2.5 -12 -1.5 -10 0 -12 1.5 -12 2 -10 4 -12 4.5 -10 5.5 -10 7 -10 9.5 -11 10 -10.5 16 -14.5 14 -11.5 12 -8.5 10 -5.5 14 -6 10 -3 10 -1.5 12 -0.5 8 1 8 1.5 8 3 6 3 6 4 6 5 4 5 3.5 6 2.5 6 7 20 7 24 4 18 4 24 1 12 0 10 -2.5 18 -2.5 10 -2.5 8 -7.5 17 -15.5 29 -6.5 7.5 -8 8 -14 11.5 -8 5.5 -6 3 -8 3 -6 1.5z"/>
<path fill="#920000" d="M1063 350l-8 0 -8 -1.5 -44 -17 -10 -4.5 -10 -6 -8 -5.5 -8 -6.5 -8 -8 -7.5 -9.5 -6 -10 -5 -10 -3.5 -10 -3 -12 -1 -10 -0.5 -12 1 -12 2 -10 4 -12 4 -10 5.5 -10 7 -10 8.5 -10 8.5 -9 14 -13 16 -13 12 -8.5 10 -6 10 -4.5 10 -3.5 12 -2.5 12 -0.5 7.5 0.5 6.5 1 8 2.5 6 2.5 6 3.5 5.5 4.5 4.5 4.5 4 6 5 9.5 5 11 6 17 6 20 3 14 3 14 1 12 0.5 12 -0.5 10 -1.5 10 -2.5 10 -2.5 8 -7.5 18 -16.5 30 -12.5 13 -14 11.5 -8 5 -6 3 -12 4z"/>
<path fill="#970000" d="M1059 347.5l-8 -0.5 -8 -2 -26 -9.5 -16 -6.5 -10 -5 -10 -6 -8 -6 -6 -5 -7.5 -7.5 -7.5 -10 -6 -10 -4.5 -10 -3.5 -10 -2.5 -10 -1.5 -12 0 -10 1.5 -14 2 -10 4 -12 3.5 -8 4.5 -8 7.5 -11 7.5 -9 8.5 -9 14 -12.5 14 -11.5 12 -8.5 12 -7 10 -4.5 12 -4 12 -1.5 10 -0.5 8 1 7.5 2 6.5 2 6.5 4 5.5 4 6 5.5 5 6.5 4.5 8 6 12 5.5 14 5.5 16 4 14 2.5 12 2 12 0.5 12 0 10 -2 18 -2.5 10 -3.5 10 -7.5 16 -16 28 -12 12 -14 11 -6 3.5 -8 3.5 -8 3 -6 1z"/>
<path fill="#9b0000" d="M1065 343.5l-8 1.5 -10 -1 -12 -4 -22 -7.5 -12 -5 -12 -6 -10 -6 -7.5 -6 -8.5 -8 -6.5 -8 -7 -10 -5 -10 -4 -10 -2.5 -8 -1.5 -10 -1 -12 0 -10 1 -10 2 -8 3.5 -12 4.5 -10 6 -10 5.5 -8 9 -10.5 12 -11.5 12 -10.5 14 -11 14 -9 10 -5 10 -4 12 -3 10 -1 8 0.5 8 1 8 2.5 6 2.5 6 4 6 4.5 5.5 6.5 4.5 6 6 9.5 6 12.5 6 14.5 4.5 13.5 3 12 2.5 12 1.5 12 1 12 -1 12 -1 10 -2 8 -3.5 12 -8.5 18 -16.5 27.5 -10 10 -12 9.5 -12 7 -12 4z"/>
<path fill="#a00000" d="M1063 341.5l-8 1 -10 -1.5 -12 -3.5 -24 -8 -10 -4 -10 -5.5 -10 -6.5 -8 -6 -8 -8 -6.5 -8 -5.5 -8.5 -5 -9.5 -4 -10 -3 -10 -2 -10 -0.5 -12 0.5 -10 1.5 -10 2.5 -10 3.5 -10 4.5 -10 6 -9.5 6.5 -8.5 7.5 -8.5 14 -13 12 -10 12 -8.5 12 -7.5 12 -6 10 -3.5 10 -2.5 10 -0.5 8 0.5 8 1.5 8 3 6 3 6 4 6 5 5.5 7 4.5 5.5 6 10.5 5 10 5 12 5 14 3.5 12 2.5 12 1.5 12 0.5 10 -0.5 12 -1.5 10 -2 10 -3.5 10 -3.5 8 -5 10 -17 27 -10 10 -12 9 -12 6 -12 4z"/>
<path fill="#a50000" d="M1061 339.5l-8 0.5 -8 -1 -18 -5 -16 -5 -12 -5 -9 -4.5 -9 -6 -8 -6 -8 -8 -7 -8 -5.5 -8 -5.5 -10 -4 -10 -3 -10 -1.5 -10 -1 -12 0.5 -10 1.5 -10 2.5 -10 3.5 -10 5 -10 5 -8 5.5 -8 8 -9 10 -9.5 14 -11 14 -10 12 -7.5 10 -5 10 -3.5 10 -2.5 10 -0.5 8 0.5 8 1.5 7 2.5 7 3 6 4 6 5.5 5 5.5 5 6.5 6 9.5 6 11.5 4.5 10.5 4.5 12 3.5 12 3 12 1.5 12 0.5 10 0 12 -1.5 10 -2.5 10 -3.5 10 -4 10 -5.5 10 -16 24 -2.5 3 -8 7 -12 8.5 -12 6 -12 3.5z"/>
<path fill="#aa0000" d="M1061 337.5l-8 0.5 -8 -1 -14 -3 -18 -5.5 -10 -4 -11 -5 -9 -6 -8.5 -6 -8.5 -8 -6.5 -8 -5.5 -8 -5 -9 -4 -9 -3 -10 -2 -10 -1 -12 0 -10 1.5 -10 2 -10 3.5 -10 4.5 -10 5 -8 5.5 -8 8 -9 8 -8 10 -8 18 -13 12 -7.5 10 -5 10 -3.5 10 -2.5 10 -1 8 0.5 8 1.5 6 2 7 3.5 7 4 6 5.5 6 6 4.5 6.5 6.5 10 5.5 10 4.5 10 5.5 14 3.5 12 2.5 10 1.5 10 0.5 10 0 10 -1 8 -2 10 -2.5 8 -3 8.5 -4.5 9.5 -5.5 9.5 -6 9 -11.5 15.5 -10.5 9 -8 5.5 -8 4 -8 3.5 -8 2z"/>
<path fill="#af0000" d="M1059 335.5l-8 0.5 -12 -2 -12 -2.5 -14 -4.5 -10 -4 -10 -4.5 -10 -6.5 -8 -6 -7 -6.5 -7 -8 -6 -8.5 -5.5 -9.5 -4 -10 -3 -10 -1.5 -10 -1 -10 0.5 -10 1 -10 2.5 -10 3.5 -10 4.5 -10 5 -8 5.5 -8 7 -8 9.5 -9 10 -8 10 -7 18 -10.5 10 -5 10 -3.5 10 -2.5 8 -0.5 8 0 8 1.5 8 2.5 6 3 6 4 6 5 6 6 6 7.5 6 9 5 9.5 6 12 4.5 12 3.5 10 2 10 1.5 10 1 10 -0.5 10 -1 10 -2.5 10 -2.5 8 -3 8 -5 10 -11 17 -11.5 15 -12.5 9.5 -14 7.5 -8 3 -8 2z"/>
<path fill="#b30000" d="M1059 333.5l-8 0.5 -10 -1 -12 -2.5 -14 -4 -12 -4.5 -10 -5 -9.5 -5.5 -7.5 -6 -7 -6.5 -6.5 -7.5 -6 -8 -5.5 -10 -4 -10 -3 -10 -2 -10 -0.5 -10 0 -10 1.5 -10 2 -10 3.5 -10 4.5 -9 5.5 -9 5.5 -8 7.5 -8 9.5 -9 12 -9.5 12 -7.5 14 -7.5 10 -4 8 -3 10 -2 8 -0.5 8 0.5 6 1 8 2.5 6 3 6 3.5 6 5 6 6 6 7 6 8.5 7 12 5 10 4 10 3.5 10 2.5 10 1.5 10 0.5 10 0 10 -1 8 -2 10 -2.5 8 -3 8 -5 10 -10.5 17 -14 17 -8 6 -10 6.5 -6 2.5 -10 3.5 -6 1.5z"/>
<path fill="#b80000" d="M1061 331.5l-8 1 -10 -0.5 -12 -2 -12 -3.5 -12 -4 -10 -5 -10 -5.5 -9 -6.5 -9 -8 -6 -7.5 -6 -8.5 -4.5 -8 -3.5 -8 -3.5 -10 -2 -10 -1 -10 0 -10 1 -10 2.5 -10 3 -10 4.5 -10 5 -8 5.5 -8 7 -8 8 -7.5 10 -8.5 10 -6.5 10 -5.5 10 -5 14 -5.5 10 -2.5 8 -1 8 0 6 1 8 2 6.5 3 7.5 4 6 4.5 6 6 6 6.5 13 19 5 9 4 9 3.5 10 2.5 10 2 10 1 10 -0.5 10 -0.5 8 -3.5 16 -2.5 8 -4 9 -5 9 -5 8 -8 10.5 -8 9.5 -6 5 -8 5.5 -8 4 -8 3 -8 2.5z"/>
<path fill="#bd0000" d="M1063 329.5l-8 1.5 -10 -0.5 -10 -1 -12 -3 -12 -4 -12 -5 -10 -5.5 -8 -5.5 -8 -7 -7.5 -8 -6 -8 -5 -8 -3.5 -8.5 -3.5 -9.5 -2.5 -10 -1 -10 -0.5 -10 1 -10 2 -10 3 -10 4.5 -10 4.5 -8 5.5 -8 7 -8 8 -8 8 -6.5 10 -7 10 -6 12 -5.5 12 -4.5 10 -2.5 8 -1 8 0 8 1 8 2.5 6 2.5 8 4.5 6 5 12 12 6 7.5 6 9 4.5 9 4 8 3.5 9 2.5 9 2 10 1 10 0 10 -0.5 8 -3 16 -6 16 -9 16 -9 12.5 -12 13.5 -8 5.5 -8 4.5 -8 3.5 -8 2.5z"/>
<path fill="#c30500" d="M1053 329.5l-10 -0.5 -10 -1.5 -12 -3 -12 -4 -10 -4.5 -8 -4.5 -8 -5 -8 -7 -6.5 -6 -6 -8 -5.5 -8 -4 -8.5 -4 -9.5 -2 -8 -1.5 -10 -0.5 -10 0.5 -10 1.5 -10 2.5 -10 3 -8 4.5 -9 5.5 -9 6.5 -8 6 -6.5 8 -7.5 10 -7.5 10 -6 10 -5.5 10 -4 10 -3 10 -1.5 10 -0.5 8 0.5 6 1 8 3 6 3 8 5 8 7 6 6 6 7 5 7.5 5 8 4 8 4 10 2.5 8 2.5 10 1 10 0.5 8 -0.5 10 -1 8 -2.5 10 -2.5 8 -3.5 8 -4.5 9 -6 9 -6 8 -12 14 -10 7 -8 4.5 -8 3 -8 2.5 -8 1z"/>
<path fill="#cb0f00" d="M1063 325.5l-8 1.5 -8 0 -10 -1 -12 -2.5 -12 -3.5 -11.5 -4.5 -10.5 -6 -6 -4 -7.5 -6 -6.5 -7 -6.5 -7 -5.5 -9 -4 -8 -4 -10.5 -2 -7.5 -2 -13 0 -14 2 -12 2 -8.5 4 -10 4 -8 6 -9.5 6 -7.5 6.5 -6.5 7.5 -7 8 -6 10 -6 10 -5 10 -4 10 -3 8 -1 8 -0.5 8 0.5 8 1.5 6 2 8 3 6 3.5 8 6 6 5.5 6 6 6 8 5.5 8.5 4 8 3.5 8 3.5 10 2 8 1.5 10 0.5 16 -0.5 5.5 -2 12 -4 12.5 -4 9 -6 10.5 -5.5 8.5 -6.5 7.5 -8 9 -6 5.5 -12 7 -14 5z"/>
<path fill="#d21a00" d="M1061 323.5l-8 1.5 -8 0 -10 -1.5 -11 -2 -11 -4.5 -9 -3.5 -9 -5 -8 -5.5 -7 -5.5 -7 -7 -6 -7 -5 -8 -4.5 -8 -3 -8 -2.5 -8 -1.5 -10 -0.5 -8 0 -10 1.5 -10 2 -8 3.5 -9.5 4 -8.5 5 -8 5 -7 6 -7 8 -7.5 8 -6.5 6 -4.5 10 -5 10 -4.5 10 -3 10 -2 8 -0.5 8 0.5 8 1.5 6 1.5 8 3.5 6 3 8 5.5 6 5 6 6.5 6 7 4.5 7.5 4.5 8 5 10.5 2 6 1.5 7.5 1.5 10 1 10 -0.5 8 -2.5 16 -2 8 -3 8 -8.5 16 -11 16 -7.5 8 -6.5 6 -4.5 3 -8 4 -14 5z"/>
<path fill="#da2400" d="M1059 321.5l-8 1 -8 0 -8 -1.5 -10 -3 -10 -3.5 -10 -4.5 -10 -5.5 -8 -5.5 -7 -5.5 -6 -6 -5 -7 -4.5 -7 -4.5 -8 -3 -8 -2 -8 -1.5 -10 -0.5 -10 0.5 -8 1 -8 2.5 -8 2.5 -8 4 -8 5 -8 6 -8 6.5 -7.5 8 -7 10 -8 9 -5.5 7.5 -4 7.5 -3 8 -2 8 -1 8 -0.5 8 0.5 6 1 8 2 8 3.5 6 3.5 6 4 7 6 5.5 6 5 6 4.5 6 3 6 4 8 3 10 2 8 2 10 0.5 10 0 8 -2.5 16 -4.5 14 -4 8 -4.5 8 -11 15.5 -8 9 -7.5 7.5 -3 2 -8 4 -13.5 4z"/>
<path fill="#e22e00" d="M1053 319.5l-8 -0.5 -8 -1 -18 -5 -10 -4.5 -10 -5 -8 -5.5 -6 -4.5 -6 -5.5 -5.5 -6.5 -4.5 -6.5 -4.5 -7.5 -3.5 -8 -2.5 -8 -1.5 -8 -1 -8 0 -8 1 -8 1.5 -8 2.5 -9 3 -7 4 -8 5 -7.5 5.5 -6.5 6.5 -7 8 -6.5 8 -6 10 -6 10 -5 8 -3 6 -1.5 8 -0.5 8 0 6 0.5 8 2 6 2 6 2.5 7 4.5 5.5 4 6.5 6 5 6 5.5 8 7.5 14 5.5 16 1.5 8 1 10 0 16 -1.5 8 -2 8 -5.5 14.5 -4 7.5 -5.5 8 -6 8 -6.5 7 -14 13 -4 2.5 -8 3 -6 1.5 -6 1z"/>
<path fill="#e93800" d="M1055 315.5l-6 0.5 -8 -0.5 -10 -2 -8 -3 -10 -3.5 -10 -5 -8 -5 -8 -5.5 -6 -6 -5 -6 -5 -7.5 -4 -6.5 -5 -14 -2 -8 -0.5 -8 0 -8 0.5 -8 1.5 -8 2.5 -8 3.5 -8 3.5 -6.5 5 -7.5 5 -6 6 -6.5 8 -6.5 8 -5.5 8 -5 8 -3.5 10 -4 8 -2 8 -1 8 0.5 6 0.5 6 1.5 6 2.5 6 3 6 4 6 5 6 6 9.5 13 7.5 14 2.5 8 2.5 8 1.5 8 0.5 8 0 8 -0.5 8 -3 14 -6 14 -7 12 -5.5 7 -6 7 -6 5.5 -8 7 -8 5 -4 2 -10 2.5z"/>
<path fill="#f14200" d="M1055 311.5l-6 0.5 -8 -0.5 -8 -1.5 -10 -3 -10 -3.5 -8 -4 -7.5 -4 -6.5 -5 -6 -5.5 -5 -5.5 -5 -7 -4.5 -7 -2.5 -6 -3 -8 -1.5 -8 -1 -8 0 -8 0.5 -8 3.5 -14 3.5 -8 3 -6 5.5 -8 5 -6 6 -6 7 -6 14.5 -9.5 8 -3.5 8 -3 8 -2 8 -1 8 0 6 1 6 1 6 2.5 6 3 6 3.5 10 8.5 6 7 4 5.5 7 13 5 14 2 8 1 8 -0.5 14 -2.5 14 -5 14 -7 12 -10 13 -12 11 -12 7.5 -6 3 -6 1.5z"/>
<path fill="#f94d00" d="M1053 307.5l-6 0.5 -8 -0.5 -16 -4 -8 -3 -8 -3.5 -8 -4.5 -6 -4.5 -6 -5.5 -5 -5 -4.5 -6 -3.5 -6 -3.5 -8 -2 -6 -3 -14 0 -8 0.5 -8 3 -14 3.5 -8 3 -6 8.5 -12 7 -7.5 6 -5 6 -4 8 -5 8 -3.5 8 -3 8 -1.5 6 -1 12 0.5 12 3 6 2.5 6 3 6 4.5 5 5 5.5 6 4.5 6 7 12 5 14 2.5 14 0 14 -2.5 14 -4.5 12 -4 8 -4 6 -10.5 12 -10 8.5 -12 7.5 -6 2.5 -6 1.5z"/>
<path fill="#ff5700" d="M1051 303.5l-6 0.5 -6 -0.5 -8 -1 -8 -2 -8 -3 -8 -4 -12 -7.5 -10 -10 -4 -5.5 -4 -6.5 -5.5 -12.5 -1.5 -6 -1.5 -8 0.5 -14 1 -8 1.5 -6 3.5 -8 3 -6 3.5 -6 5 -6 10.5 -10.5 6 -4.5 8 -4.5 14 -6 8 -1.5 6 -1 8 -0.5 6 1 12 3 6 2.5 6 4 9.5 8 8.5 10 4 6 4 7 4.5 13 2 14 0 14 -2.5 12 -4.5 12 -7.5 12 -10 11.5 -10 8 -12 7 -6 2 -6 1.5z"/>
<path fill="#ff6100" d="M1051 299.5l-6 0.5 -8 0 -14 -3 -14 -5.5 -6 -3.5 -6 -4.5 -5 -4 -5 -6 -7 -10 -5.5 -12 -1.5 -6 -1.5 -8 0 -8 0.5 -6 2 -12 5 -12 3.5 -6 4.5 -6 10 -10.5 12 -8 6 -3.5 8 -3 8 -2 6 -1 12 0 12 2.5 6 2 6 3.5 10 7.5 8 8.5 7.5 12 5 12 3 14 0 14 -2 12 -4.5 12 -7 11.5 -9 10.5 -11 9 -6 3.5 -6 3 -10 2.5z"/>
<path fill="#ff6b00" d="M1053 295.5l-6 1 -6 0 -6 -0.5 -8 -1 -8 -2.5 -6 -2.5 -11.5 -6.5 -5 -4 -5.5 -6 -7.5 -10 -5.5 -12 -3 -12 -0.5 -6 0 -8 2.5 -12 4.5 -12 3.5 -6 4 -6 4 -4.5 6 -5.5 10 -7 12 -5.5 8 -2.5 6 -1 12 -0.5 12 2.5 10 4 10 6.5 9 9.5 7 10 5 12 3 12 0.5 12 -1.5 12 -3.5 12 -5.5 10 -8 10.5 -10 9 -10 6 -6 2.5 -6 2z"/>
<path fill="#ff7500" d="M1055 291.5l-6 1 -6 1 -12 -1 -12 -3.5 -12 -5.5 -10 -8 -8 -9 -6.5 -11 -4 -12 -1 -12 1 -12 3.5 -12 3 -6 3.5 -6 8.5 -10 10 -8 12 -6.5 12 -3.5 12 -1 12 1.5 10 3.5 10 6 8.5 8 7.5 9.5 5 10.5 3.5 12 1 12 -1 12 -3.5 12 -5 10 -7.5 10 -8.5 7.5 -10 6.5 -10 4z"/>
<path fill="#ff8000" d="M1049 289.5l-6 0.5 -6 0 -12 -2 -12 -4.5 -9.5 -6 -8.5 -8 -6 -8.5 -4 -7.5 -2 -6 -2 -10 -0.5 -12 2.5 -12 4 -10 7 -10 5 -6 5 -4 9 -6 10 -4.5 12 -2.5 12 0 10 2 10 4 8 5.5 8 7.5 6.5 10 4.5 10 3 12 0.5 12 -2 12 -3 8 -5.5 10.5 -8 9.5 -10 8 -10 5 -10 3z"/>
<path fill="#ff8a14" d="M1049 285.5l-10 0.5 -12 -1.5 -10 -3.5 -10 -6 -8 -7 -7 -8.5 -4.5 -10 -3 -12 0 -12 2 -10 3.5 -10 7 -10 7.5 -8 9 -6 11.5 -5.5 10 -2 10 0 10 1.5 10 4 8 5.5 8 8 5.5 8.5 4.5 10 2.5 10 0.5 10 -1.5 10 -3 10 -5.5 10 -7 8.5 -8 7 -10 5.5 -10 3z"/>
<path fill="#ff9429" d="M1047 281.5l-10 0.5 -10 -1.5 -10 -3.5 -9 -5.5 -7 -6.5 -6 -8.5 -4.5 -9 -2.5 -10 0 -10 1.5 -10 4 -10 5.5 -9 7 -7 9 -6.5 10 -4.5 10 -2.5 10 0 10 2 8 3.5 8 5 6.5 7 6 8 4 10 2.5 10 0 10 -1.5 10 -4 10 -5 8 -6.5 7 -8 6.5 -8 4 -10 2.5z"/>
<path fill="#ff9e3d" d="M1047 277.5l-8 1 -10 -1.5 -10 -3.5 -8 -4.5 -6.5 -5.5 -6 -8 -4 -8 -2.5 -10 -0.5 -10 1.5 -8.5 3.5 -9.5 5 -8 7.5 -8 8 -5.5 8 -3.5 10 -2 10 -0.5 8 1.5 8 3.5 8 5 6 6 5 7.5 3.5 8 2.5 10 0.5 10 -1.5 8 -3.5 10 -4.5 7.5 -6 6.5 -8 6 -8 4 -8 2z"/>
<path fill="#ffa852" d="M1049 273.5l-8 1 -10 -1 -8 -2 -8 -4.5 -7.5 -5.5 -4.5 -6 -4.5 -8 -2.5 -8 -1 -10 1 -8 2.5 -8 4.5 -8 5 -6 7 -5.5 8 -4.5 8 -2.5 8 -1 8 0.5 8 2 8 4.5 6 4.5 6.5 8 4 8 2.5 8 0.5 8 -0.5 8 -2 8 -4 8 -5 6.5 -6 5.5 -8 5 -8 3z"/>
<path fill="#ffb266" d="M1049 269.5l-8 1.5 -8 -0.5 -8 -2 -6.5 -3 -5.5 -4 -6 -6.5 -4.5 -7.5 -3 -8 -1 -8 1 -8 2 -8 3.5 -6.5 4.5 -5.5 6.5 -6 7 -4 8 -2.5 8 -1 8 0.5 8 2.5 6 3 6 5 5 6.5 3.5 6 2.5 8 1 8 -0.5 8 -2.5 8 -3 6 -4 6 -6 5 -6 4 -8 3z"/>
<path fill="#ffbd7a" d="M1049 266l-6 1 -8 0 -8 -1.5 -6 -3 -6 -4 -5 -5 -4 -6 -3 -8 -0.5 -6 0 -8 2 -8 3 -6 5 -6 4.5 -4.5 6 -3.5 8 -3 6 -1 8 0.5 8 2 6 3 5 4.5 5 5.5 3.5 6.5 2 6 1 6 -0.5 8 -2 8 -2.5 6 -4.5 6 -5 4.5 -6 3.5 -6 2.5z"/>
<path fill="#ffc78f" d="M1043 263.5l-6 0 -6 -0.5 -6 -2.5 -6 -3.5 -4.5 -3.5 -4.5 -6 -2.5 -6 -1.5 -6 0 -8 1 -6 2.5 -6 3.5 -5.5 4.5 -4.5 5.5 -4 6 -2.5 6 -1.5 6 -0.5 6 1 6 2 6 3.5 4 4 4.5 6 2.5 6 1.5 6 0.5 8 -1 6 -2.5 6 -3.5 5.5 -4 4.5 -6 4 -6 2.5 -6 1.5z"/>
<path fill="#ffd1a3" d="M1045 259.5l-6 1 -6 -1 -6 -1.5 -4 -2.5 -5.5 -4 -3 -4 -2.5 -4 -2 -6 -1 -6 0.5 -6 2 -6 2 -4 3.5 -5 4 -3.5 6 -3.5 6 -2 6 -1 6 1 6 1.5 4 2.5 5 4 3 4 3.5 6 1.5 6 0.5 6 -1 6 -2 6 -2 4 -3.5 4 -5 4 -4 2 -6 2z"/>
<path fill="#ffdbb8" d="M1047 255.5l-6 1.5 -4 0 -6 -1 -4 -2 -4 -2.5 -4.5 -4 -4 -6 -1 -4 -1 -6 0 -4 1.5 -6 2 -4 3 -4 4 -4 4 -2.5 6 -2 4 -1 6 0.5 6 1.5 4 2 4 3.5 3.5 4 2 4 1.5 4 1 6 0 4 -1.5 6 -1.5 4 -3 4 -4 4 -4 2.5 -4 1.5z"/>
<path fill="#ffe5cc" d="M1045 253.5l-4 0.5 -6 0 -4 -1 -4 -2 -4 -3 -3 -2.5 -2.5 -4 -1.5 -4 -0.5 -4 0 -6 1 -4 1.5 -4 3 -4.5 4 -3.5 4 -2.5 4 -1.5 4 -0.5 6 0 4 1 4 2 4 3.5 3.5 4 2 4 1.5 4 0.5 4 -0.5 6 -1 4 -2 4 -3.5 4 -2.5 2 -4 2.5 -4 1.5z"/>
<path fill="#fff0e0" d="M1041 251.5l-4 0 -4 -0.5 -4 -2 -3 -1.5 -3 -3 -2.5 -3 -1.5 -4 -1 -4 0 -4 0.5 -4 1.5 -4 2.5 -4 2.5 -2.5 4 -3 4 -1.5 4 -1 4 0 4 1 4 1.5 4 3 2 2.5 2.5 4 1.5 4 1 4 -0.5 4 -0.5 4 -2 4 -2 2.5 -6 5 -4 2 -4 0.5z"/>
<path fill="#fffaf5" d="M1045 248l-4 1 -4 0 -6 -1.5 -5.5 -4 -4 -6 -1 -4 0 -4 1.5 -6 4 -6 3 -2.5 4 -2 4 -0.5 4 0 6 1.5 4 2.5 2 2 1.5 3 2 4 0.5 4 0 4 -2 6 -4 5 -6 3.5z"/>
<path fill="#ffffff" d="M1043 245.5l-4 0.5 -4 0 -2 -0.5 -3.5 -2 -2.5 -2.5 -2 -3 -1.5 -4.5 -0.5 -4 2 -6.5 4 -4.5 2 -1.5 4 -1.5 6 -0.5 6 2 4.5 4.5 1.5 2 1 4 0.5 4 -1.5 6 -4 5 -4 2.5 -2 0.5z"/></g></g><clipPath id="aB"><rect x="810.9" y="9.3" width="449" height="449.5"/></clipPath><path clip-path="url(#aB)" fill="#000" d="M1223.2 21.2L1218.1 16.6L1219.7 15.9L1212.4 12.9L1216.3 19.8L1216.8 18.1L1221.9 22.7zM1248.2 21.2L1243.4 16.4L1245 15.8L1237.9 12.3L1241.4 19.5L1242 17.8L1246.8 22.6zM972.7 45.9L966.2 48.1L966.4 46.3L960.1 51.2L968 51.3L966.8 50L973.3 47.8zM997.8 45.9L991.1 47.2L991.5 45.5L984.6 49.6L992.5 50.6L991.4 49.2L998.2 47.9zM1022.9 45.9L1016 46.3L1016.7 44.7L1009.4 47.8L1017 49.9L1016.2 48.3L1023 47.9zM1047.9 45.9L1041.1 45.4L1042 43.9L1034.3 46L1041.6 49.1L1041 47.4L1047.8 47.9zM1073 45.9L1066.3 44.6L1067.4 43.1L1059.5 44.2L1066.3 48.2L1065.9 46.5L1072.6 47.9zM1098.1 45.9L1091.6 43.8L1092.8 42.5L1084.9 42.6L1091.2 47.4L1091 45.7L1097.5 47.8zM1123.2 46L1117 43.1L1118.3 41.9L1110.4 41.1L1116.1 46.7L1116.1 44.9L1122.3 47.8zM1148.2 46L1142.3 42.5L1143.8 41.5L1136 39.9L1141.1 46L1141.3 44.2L1147.2 47.7zM1173.2 46.1L1167.7 42L1169.3 41.2L1161.7 38.8L1166.2 45.4L1166.5 43.6L1172.1 47.7zM1198.3 46.1L1193.1 41.6L1194.7 40.9L1187.3 38L1191.3 44.9L1191.8 43.2L1197 47.6zM1223.3 46.2L1218.4 41.3L1220.1 40.7L1213 37.3L1216.4 44.4L1217 42.7L1221.9 47.6zM1248.3 46.2L1243.7 41.1L1245.4 40.6L1238.5 36.7L1241.5 44L1242.2 42.4L1246.8 47.5zM947.6 71L941.6 74.2L941.5 72.4L936.1 78.3L943.9 77L942.5 76L948.5 72.7zM972.7 70.9L966.3 73.4L966.4 71.6L960.3 76.7L968.3 76.5L967 75.2L973.4 72.8zM997.7 70.9L991.1 72.4L991.4 70.7L984.7 74.9L992.6 75.7L991.5 74.4L998.2 72.8zM1022.8 70.8L1016 71.4L1016.6 69.7L1009.4 72.9L1017 74.9L1016.2 73.4L1023 72.8zM1048 70.8L1041.1 70.3L1042 68.8L1034.3 70.8L1041.6 74L1041 72.3L1047.8 72.8zM1073.1 70.9L1066.4 69.3L1067.5 67.9L1059.6 68.8L1066.3 73L1065.9 71.3L1072.6 72.8zM1098.1 70.9L1091.8 68.4L1093 67.2L1085.1 67L1091.2 72.1L1091 70.3L1097.4 72.8zM1123.2 71L1117.2 67.7L1118.6 66.7L1110.8 65.4L1116.1 71.2L1116.2 69.5L1122.3 72.7zM1148.3 71L1142.6 67.1L1144.2 66.2L1136.5 64.1L1141.2 70.5L1141.5 68.8L1147.1 72.7zM1173.3 71.1L1168.1 66.7L1169.7 65.9L1162.3 63.1L1166.3 69.9L1166.8 68.2L1172 72.6zM1198.3 71.1L1193.5 66.3L1195.1 65.7L1188 62.2L1191.5 69.4L1192.1 67.7L1196.9 72.5zM1223.3 71.2L1218.8 66L1220.5 65.5L1213.7 61.6L1216.6 68.9L1217.3 67.3L1221.8 72.5zM1248.3 71.2L1244.2 65.8L1245.9 65.4L1239.3 61L1241.8 68.6L1242.6 67L1246.7 72.4zM922.5 96L917.2 100.4L916.7 98.6L912.6 105.4L920 102.7L918.4 101.9L923.7 97.6zM947.5 96L941.7 99.6L941.5 97.9L936.6 104.1L944.3 102.3L942.8 101.3L948.6 97.6zM972.6 95.9L966.4 98.7L966.4 97L960.6 102.4L968.5 101.7L967.2 100.5L973.4 97.7zM997.7 95.8L991.1 97.6L991.4 95.9L984.8 100.4L992.8 100.9L991.6 99.6L998.2 97.8zM1022.8 95.8L1016 96.4L1016.6 94.8L1009.4 98L1017.1 99.9L1016.2 98.4L1023 97.8zM1048 95.8L1041.1 95.2L1042 93.7L1034.3 95.6L1041.6 98.8L1041 97.2L1047.8 97.8zM1073.1 95.8L1066.5 94L1067.6 92.7L1059.7 93.2L1066.3 97.7L1066 96L1072.6 97.8zM1098.2 95.9L1092 93L1093.3 91.9L1085.4 91.2L1091.2 96.6L1091.1 94.9L1097.4 97.7zM1123.3 96L1117.5 92.3L1119 91.3L1111.3 89.5L1116.2 95.7L1116.4 94L1122.2 97.6zM1148.3 96L1143 91.7L1144.6 90.9L1137.2 88.2L1141.3 94.9L1141.8 93.2L1147.1 97.6zM1173.4 96.1L1168.5 91.2L1170.2 90.6L1163 87.2L1166.5 94.3L1167.1 92.7L1171.9 97.5zM1198.4 96.1L1193.9 90.9L1195.7 90.5L1188.8 86.4L1191.7 93.8L1192.4 92.2L1196.8 97.4zM1223.4 96.2L1219.3 90.7L1221.1 90.3L1214.5 85.8L1216.9 93.4L1217.7 91.9L1221.8 97.4zM1248.4 96.3L1244.6 90.5L1246.4 90.3L1240.1 85.4L1242 93.1L1243 91.6L1246.7 97.3zM922.4 121L917.5 125.9L916.9 124.2L913.5 131.4L920.6 127.9L919 127.3L923.8 122.5zM947.4 121L942 125.2L941.6 123.4L937.3 130.1L944.8 127.5L943.3 126.7L948.7 122.5zM972.5 120.9L966.5 124.2L966.4 122.4L961.1 128.4L968.9 127L967.5 126L973.5 122.6zM997.7 120.8L991.2 123L991.4 121.2L985.1 126.1L993 126.1L991.8 124.9L998.3 122.7zM1022.8 120.8L1016 121.5L1016.6 119.8L1009.4 123.3L1017.1 125L1016.2 123.5L1023 122.7zM1048 120.8L1041.2 120L1042.1 118.5L1034.4 120.2L1041.5 123.7L1041 122L1047.8 122.7zM1073.1 120.8L1066.7 118.6L1067.9 117.4L1059.9 117.4L1066.2 122.3L1066 120.5L1072.5 122.7zM1098.3 120.9L1092.3 117.5L1093.7 116.5L1085.9 115.1L1091.2 121.1L1091.3 119.3L1097.3 122.6zM1123.4 121L1118 116.8L1119.5 116L1112 113.4L1116.3 120.1L1116.7 118.3L1122.1 122.5zM1148.4 121L1143.6 116.2L1145.2 115.6L1138.1 112.1L1141.5 119.3L1142.1 117.6L1147 122.5zM1173.4 121.1L1169.1 115.8L1170.8 115.4L1164 111.2L1166.8 118.7L1167.5 117.1L1171.9 122.4zM1198.4 121.2L1194.5 115.5L1196.3 115.3L1189.9 110.6L1192 118.2L1192.9 116.7L1196.8 122.3zM1223.4 121.2L1219.9 115.4L1221.7 115.2L1215.6 110.1L1217.2 117.9L1218.2 116.4L1221.7 122.3zM1248.4 121.3L1245.2 115.2L1247 115.1L1241.2 109.7L1242.4 117.6L1243.4 116.2L1246.6 122.2zM922.3 146.1L918.1 151.5L917.3 149.9L914.8 157.4L921.4 153.1L919.7 152.7L923.9 147.3zM947.3 146L942.5 150.8L941.9 149.2L938.4 156.3L945.6 152.9L943.9 152.3L948.8 147.4zM972.4 145.9L966.9 149.9L966.5 148.1L961.9 154.6L969.6 152.4L968 151.5L973.6 147.5zM997.6 145.8L991.3 148.5L991.3 146.7L985.5 152.1L993.4 151.5L992.1 150.3L998.4 147.6zM1022.8 145.7L1016 146.7L1016.5 145L1009.5 148.6L1017.3 150.1L1016.3 148.7L1023.1 147.7zM1048 145.7L1041.2 144.7L1042.2 143.3L1034.4 144.8L1041.5 148.4L1041 146.7L1047.7 147.7zM1073.2 145.8L1066.9 143.1L1068.3 141.9L1060.3 141.3L1066.2 146.7L1066.1 144.9L1072.4 147.6zM1098.4 145.9L1092.8 141.9L1094.3 141L1086.7 138.8L1091.3 145.3L1091.6 143.5L1097.2 147.5zM1123.5 146L1118.6 141.2L1120.3 140.6L1113.1 137.1L1116.6 144.2L1117.2 142.6L1122 147.4zM1148.5 146.1L1144.3 140.7L1146 140.3L1139.4 136L1141.9 143.5L1142.7 141.9L1146.9 147.3zM1173.5 146.2L1169.8 140.4L1171.6 140.2L1165.4 135.2L1167.2 143L1168.1 141.5L1171.8 147.2zM1198.5 146.2L1195.2 140.2L1197 140.1L1191.2 134.7L1192.4 142.6L1193.5 141.1L1196.7 147.2zM1223.5 146.3L1220.6 140.1L1222.3 140.1L1216.8 134.4L1217.6 142.3L1218.8 140.9L1221.7 147.1zM1248.4 146.3L1245.8 140L1247.6 140.1L1242.3 134.1L1242.8 142.1L1244 140.8L1246.6 147.1zM922.2 171.2L918.9 177.2L917.9 175.7L916.5 183.5L922.4 178.3L920.6 178.1L924 172.1zM947.2 171.1L943.3 176.7L942.4 175.1L940.2 182.7L946.6 178.1L944.9 177.8L948.9 172.2zM972.3 171L967.5 175.8L966.9 174.1L963.4 181.3L970.5 177.8L968.9 177.2L973.7 172.4zM997.5 170.8L991.6 174.3L991.4 172.6L986.3 178.7L994.1 177L992.6 176L998.5 172.5zM1022.7 170.7L1016 172L1016.4 170.3L1009.6 174.3L1017.5 175.4L1016.4 174L1023.1 172.6zM1048.1 170.7L1041.4 169.3L1042.4 167.9L1034.5 169L1041.4 173L1041 171.3L1047.7 172.6zM1073.3 170.8L1067.5 167.3L1068.9 166.3L1061.2 164.7L1066.3 170.8L1066.4 169L1072.3 172.5zM1098.5 171L1093.7 166.1L1095.3 165.5L1088.2 162L1091.6 169.2L1092.2 167.5L1097.1 172.4zM1123.6 171.1L1119.6 165.5L1121.3 165.2L1114.8 160.6L1117.1 168.2L1117.9 166.7L1121.9 172.2zM1148.6 171.2L1145.2 165.2L1147 165.1L1141.1 159.8L1142.5 167.6L1143.5 166.2L1146.8 172.1zM1173.6 171.2L1170.7 165L1172.5 165L1167 159.3L1167.8 167.2L1168.9 165.8L1171.7 172.1zM1198.5 171.3L1196.1 164.9L1197.8 165L1192.7 159L1193 166.9L1194.2 165.6L1196.7 172zM1223.5 171.3L1221.3 164.8L1223.1 165.1L1218.3 158.8L1218.2 166.7L1219.5 165.5L1221.6 172zM897.2 196.4L895.4 203L894 201.8L894.6 209.7L899 203.2L897.3 203.5L899.1 196.9zM922.2 196.3L920 202.8L918.7 201.6L918.8 209.5L923.6 203.2L921.9 203.4L924 196.9zM947.1 196.2L944.4 202.5L943.3 201.2L942.7 209.1L948 203.2L946.3 203.3L949 197zM972.2 196.1L968.6 202L967.6 200.5L966 208.3L972.1 203.2L970.3 203L973.9 197.1zM997.3 195.9L992.4 200.8L991.8 199.1L988.4 206.2L995.5 202.8L993.8 202.2L998.7 197.3zM1022.6 195.7L1016.1 197.8L1016.3 196.1L1010 200.9L1018 201L1016.7 199.7L1023.2 197.6zM1048.2 195.7L1041.7 193.5L1042.9 192.2L1035 192.3L1041.3 197.2L1041.1 195.4L1047.6 197.6zM1073.5 195.9L1068.7 191.1L1070.4 190.5L1063.2 187L1066.7 194.1L1067.3 192.5L1072.1 197.3zM1098.6 196.1L1095.1 190.2L1096.9 190L1090.8 185L1092.4 192.7L1093.4 191.3L1096.9 197.1zM1123.7 196.2L1121 189.9L1122.7 190L1117.4 184.1L1118 192L1119.1 190.7L1121.8 197zM1148.6 196.3L1146.5 189.8L1148.2 190L1143.4 183.7L1143.3 191.7L1144.6 190.4L1146.8 196.9zM1173.6 196.4L1171.8 189.7L1173.6 190L1169.1 183.5L1168.5 191.4L1169.9 190.3L1171.7 196.9zM1198.6 196.4L1197 189.7L1198.8 190.1L1194.6 183.4L1193.7 191.3L1195.1 190.2L1196.6 196.8zM897.1 221.5L896.6 228.3L895.1 227.5L897.1 235.1L900.3 227.9L898.6 228.5L899.1 221.7zM922.1 221.5L921.4 228.3L919.9 227.4L921.7 235.1L925 227.9L923.4 228.5L924.1 221.7zM947.1 221.4L946.1 228.2L944.6 227.2L946.1 235L949.8 228L948.1 228.5L949 221.7zM972 221.4L970.7 228.1L969.3 227L970.3 234.9L974.4 228.1L972.6 228.5L974 221.8zM997 221.3L994.9 227.8L993.6 226.5L993.7 234.5L998.5 228.2L996.7 228.4L998.9 221.9zM1022.2 220.9L1017.4 225.7L1016.8 224L1013.3 231.2L1020.4 227.7L1018.8 227.1L1023.6 222.3zM1048.6 220.9L1043.7 216L1045.4 215.4L1038.3 212L1041.7 219.1L1042.3 217.4L1047.2 222.3zM1073.8 221.3L1071.6 214.8L1073.4 215L1068.5 208.7L1068.4 216.6L1069.7 215.4L1071.9 221.9zM1098.8 221.4L1097.4 214.7L1099.1 215.1L1095.1 208.2L1094 216.1L1095.5 215.1L1096.8 221.8zM1123.7 221.4L1122.8 214.6L1124.5 215.2L1120.8 208.1L1119.3 215.9L1120.8 214.9L1121.8 221.7zM1148.7 221.5L1148 214.7L1149.7 215.2L1146.4 208L1144.5 215.8L1146 214.9L1146.7 221.7zM1173.7 221.5L1173.2 214.7L1174.9 215.3L1171.8 208L1169.7 215.6L1171.2 214.8L1171.7 221.6zM1198.6 221.5L1198.3 214.7L1199.9 215.4L1197 208L1194.7 215.6L1196.3 214.8L1196.6 221.6zM897.2 246.8L898.9 253.4L897.2 253.1L901.6 259.7L902.2 251.8L900.8 252.9L899.1 246.3zM922.1 246.7L923.3 253.4L921.6 253L925.4 259.9L926.7 252.1L925.2 253.1L924.1 246.4zM947.1 246.7L948 253.5L946.3 252.9L950 260L951.5 252.2L950 253.2L949 246.4zM972 246.7L973.4 253.4L971.7 253L975.7 259.9L976.8 252L975.3 253L974 246.3zM997 246.8L999.2 253.3L997.4 253.1L1002.3 259.4L1002.4 251.5L1001.1 252.7L998.9 246.2zM1022.2 247.2L1027.1 252.1L1025.4 252.7L1032.5 256.1L1029.1 249L1028.5 250.7L1023.6 245.8zM1048.6 247.2L1053.4 242.4L1054 244.1L1057.5 236.9L1050.4 240.4L1052 241L1047.2 245.8zM1073.8 246.8L1075.9 240.3L1077.2 241.6L1077.1 233.6L1072.3 239.9L1074.1 239.7L1071.9 246.2zM1098.8 246.7L1100.1 240L1101.5 241.1L1100.5 233.2L1096.4 240L1098.2 239.6L1096.8 246.3zM1123.7 246.7L1124.7 239.9L1126.2 240.9L1124.7 233.1L1121 240.1L1122.7 239.6L1121.8 246.4zM1148.7 246.7L1149.5 239.9L1151 240.8L1149.4 233L1145.9 240.2L1147.5 239.6L1146.7 246.4zM1173.6 246.6L1174.5 239.8L1176 240.8L1174.3 233L1170.8 240.2L1172.5 239.6L1171.7 246.4zM1198.6 246.6L1199.4 239.8L1200.9 240.8L1199.2 233L1195.7 240.2L1197.4 239.6L1196.6 246.4zM897.6 272.3L903.3 276.1L901.8 277L909.5 278.9L904.7 272.7L904.4 274.4L898.7 270.6zM922.3 272L926 277.8L924.2 278L930.4 282.9L928.6 275.2L927.6 276.7L923.9 270.9zM947.2 271.9L950.1 278.1L948.3 278.1L953.8 283.8L953 275.9L951.9 277.3L949 271.1zM972.2 272L975.7 277.9L973.9 278.1L980 283.1L978.4 275.4L977.4 276.8L973.9 271zM997.3 272.2L1002.1 277L1000.4 277.6L1007.6 281.1L1004.1 274L1003.5 275.6L998.7 270.8zM1022.6 272.4L1029.1 274.6L1027.9 275.9L1035.8 275.8L1029.5 270.9L1029.7 272.7L1023.2 270.5zM1048.2 272.4L1054.7 270.3L1054.5 272L1060.8 267.2L1052.8 267.1L1054.1 268.4L1047.6 270.5zM1073.5 272.2L1078.4 267.3L1079 269L1082.4 261.9L1075.3 265.3L1077 265.9L1072.1 270.8zM1098.6 272L1102.2 266.1L1103.2 267.6L1104.8 259.8L1098.7 264.9L1100.5 265.1L1096.9 271zM1123.7 271.9L1126.3 265.5L1127.5 266.8L1128 258.9L1122.7 264.9L1124.4 264.8L1121.8 271.1zM1148.7 271.8L1150.6 265.2L1151.9 266.4L1151.6 258.4L1146.9 264.9L1148.7 264.6L1146.7 271.2zM1173.6 271.7L1175.2 265.1L1176.6 266.2L1175.9 258.3L1171.6 264.9L1173.3 264.6L1171.7 271.2zM922.6 297.3L928.6 300.6L927.2 301.6L935.1 302.9L929.7 297.1L929.6 298.8L923.6 295.6zM947.4 297.2L952.4 301.8L950.7 302.5L958 305.7L954.3 298.7L953.7 300.4L948.7 295.7zM972.3 297.1L977.1 302L975.5 302.6L982.6 306.1L979.2 298.9L978.6 300.6L973.7 295.7zM997.5 297.3L1003.3 300.8L1001.9 301.8L1009.6 303.4L1004.5 297.3L1004.4 299.1L998.5 295.6zM1022.7 297.4L1029.4 298.8L1028.4 300.2L1036.3 299.1L1029.4 295.1L1029.8 296.8L1023.1 295.5zM1048.1 297.4L1054.8 296.1L1054.4 297.8L1061.2 293.8L1053.3 292.7L1054.4 294.1L1047.7 295.5zM1073.3 297.3L1079.2 293.8L1079.4 295.5L1084.5 289.4L1076.7 291.1L1078.2 292.1L1072.3 295.6zM1098.5 297.1L1103.3 292.3L1103.9 294L1107.4 286.8L1100.3 290.3L1101.9 290.9L1097.1 295.7zM1123.6 297L1127.1 291.1L1128.1 292.6L1129.8 284.8L1123.7 289.9L1125.4 290.1L1121.9 295.9zM1148.6 296.8L1151.3 290.5L1152.5 291.8L1152.9 283.9L1147.7 289.8L1149.4 289.7L1146.8 296.1zM1173.6 296.8L1175.8 290.2L1177 291.5L1176.9 283.5L1172.1 289.8L1173.9 289.6L1171.7 296.1zM923.1 322.4L929.9 322.4L929.2 324L936.7 321.4L929.2 318.8L930 320.4L923.1 320.4zM947.8 322.4L954.3 324.3L953.2 325.6L961.1 325.2L954.6 320.6L954.9 322.4L948.3 320.4zM972.6 322.3L979 324.9L977.7 326.1L985.6 326.6L979.6 321.3L979.7 323.1L973.4 320.5zM997.6 322.3L1004.1 324.6L1002.8 325.9L1010.8 325.9L1004.6 321L1004.8 322.7L998.3 320.5zM1022.8 322.4L1029.6 323.4L1028.6 324.8L1036.4 323.3L1029.3 319.7L1029.8 321.4L1023.1 320.4zM1048 322.4L1054.8 321.4L1054.3 323.1L1061.3 319.5L1053.5 318L1054.5 319.4L1047.7 320.4zM1073.3 322.3L1079.4 319.3L1079.5 321L1085 315.4L1077.2 316.4L1078.5 317.5L1072.4 320.5zM1098.5 322.1L1103.5 317.4L1104 319.1L1107.7 312.1L1100.4 315.3L1102.1 316L1097.1 320.7zM1123.6 322L1127.4 316.3L1128.3 317.8L1130.4 310.1L1124 314.9L1125.8 315.2L1121.9 320.8zM1148.6 321.8L1151.6 315.7L1152.7 317.1L1153.7 309.2L1148 314.8L1149.8 314.8L1146.8 321zM1173.6 321.8L1176.2 315.4L1177.4 316.7L1177.8 308.8L1172.6 314.8L1174.3 314.7L1171.7 321zM1198.6 321.7L1200.9 315.3L1202.1 316.5L1202.2 308.6L1197.2 314.8L1199 314.6L1196.7 321.1zM948.2 347.3L955 346.1L954.5 347.8L961.4 343.9L953.6 342.7L954.6 344.1L947.9 345.4zM973.1 347.3L979.9 346.9L979.3 348.5L986.6 345.4L978.9 343.3L979.8 344.9L972.9 345.4zM998 347.3L1004.9 346.8L1004.2 348.5L1011.5 345.4L1003.9 343.3L1004.7 344.9L997.9 345.4zM1023.1 347.3L1029.8 346.1L1029.4 347.8L1036.3 343.8L1028.4 342.7L1029.5 344.1L1022.7 345.4zM1048.2 347.3L1054.6 344.7L1054.5 346.5L1060.5 341.3L1052.6 341.7L1053.9 342.9L1047.5 345.4zM1073.4 347.2L1079 343.3L1079.3 345L1084 338.6L1076.4 340.7L1077.9 341.6L1072.3 345.5zM1098.5 347L1103.2 342.1L1103.9 343.7L1107.2 336.5L1100.1 340.1L1101.8 340.7L1097.1 345.7zM1123.6 346.9L1127.4 341.2L1128.3 342.8L1130.4 335.1L1124 339.8L1125.7 340.1L1121.9 345.8zM1148.6 346.8L1151.9 340.8L1152.9 342.3L1154.3 334.5L1148.4 339.8L1150.1 339.9L1146.8 345.9zM1173.6 346.8L1176.5 340.6L1177.6 342L1178.5 334.1L1172.9 339.7L1174.7 339.7L1171.8 345.9zM1198.5 346.7L1201.2 340.4L1202.4 341.7L1202.9 333.8L1197.6 339.7L1199.4 339.7L1196.7 346zM998.4 372.2L1004.6 369.3L1004.6 371.1L1010.3 365.5L1002.4 366.4L1003.7 367.5L997.5 370.4zM1023.4 372.2L1029.4 368.9L1029.5 370.7L1034.9 364.8L1027 366.1L1028.5 367.2L1022.4 370.4zM1048.5 372.1L1054.1 368.2L1054.4 369.9L1059 363.5L1051.4 365.7L1052.9 366.5L1047.3 370.5zM1073.5 372L1078.5 367.4L1079.1 369L1082.8 362L1075.5 365.2L1077.1 365.9L1072.1 370.6zM1098.6 372L1103 366.7L1103.7 368.3L1106.6 360.9L1099.7 365L1101.4 365.4L1097 370.7zM1123.6 371.9L1127.5 366.3L1128.4 367.8L1130.6 360.2L1124.2 364.8L1125.9 365.1L1121.9 370.7zM1148.6 371.8L1152.1 366L1153.1 367.5L1154.8 359.7L1148.7 364.7L1150.4 364.9L1146.8 370.8zM1173.5 371.8L1176.8 365.7L1177.8 367.1L1179.1 359.3L1173.2 364.7L1175 364.8L1171.8 370.8zM1198.5 371.7L1201.5 365.5L1202.6 366.9L1203.4 359L1197.9 364.7L1199.6 364.7L1196.7 370.9zM1223.5 371.7L1226.2 365.4L1227.4 366.7L1227.9 358.8L1222.6 364.7L1224.3 364.6L1221.6 370.9zM998.5 397.1L1004.4 393.6L1004.5 395.4L1009.7 389.3L1001.9 390.9L1003.3 391.9L997.5 395.4zM1023.5 397.1L1029.1 393.1L1029.4 394.9L1034.1 388.5L1026.4 390.6L1028 391.5L1022.3 395.4zM1048.5 397L1053.8 392.6L1054.2 394.4L1058.3 387.6L1050.9 390.4L1052.5 391.1L1047.2 395.5zM1073.5 397L1078.4 392.2L1079 393.8L1082.5 386.7L1075.4 390.1L1077 390.7L1072.1 395.5zM1098.5 396.9L1103 391.7L1103.7 393.4L1106.7 386L1099.8 389.9L1101.5 390.4L1097 395.6zM1123.5 396.9L1127.6 391.4L1128.5 392.9L1130.9 385.4L1124.3 389.8L1126 390.2L1121.9 395.7zM1148.5 396.8L1152.3 391.1L1153.2 392.6L1155.1 384.9L1148.9 389.7L1150.6 390L1146.9 395.7zM1173.5 396.8L1176.9 390.8L1178 392.3L1179.5 384.5L1173.5 389.7L1175.2 389.8L1171.8 395.8zM1198.5 396.7L1201.6 390.6L1202.7 392L1203.9 384.2L1198.1 389.6L1199.9 389.7L1196.7 395.8zM1223.5 396.7L1226.4 390.5L1227.5 391.8L1228.3 384L1222.8 389.6L1224.6 389.6L1221.7 395.8zM1248.4 396.7L1251.1 390.4L1252.3 391.7L1252.9 383.8L1247.5 389.6L1249.3 389.6L1246.6 395.9zM998.5 422L1004.2 418.3L1004.5 420L1009.3 413.7L1001.6 415.7L1003.1 416.6L997.4 420.4zM1023.5 422L1029 417.9L1029.4 419.6L1033.8 413L1026.2 415.5L1027.8 416.3L1022.3 420.4zM1048.5 422L1053.7 417.5L1054.2 419.2L1058.1 412.3L1050.8 415.3L1052.4 416L1047.2 420.5zM1073.5 421.9L1078.4 417.1L1079 418.7L1082.5 411.6L1075.3 415.1L1077 415.7L1072.1 420.5zM1098.5 421.9L1103.1 416.7L1103.8 418.3L1106.7 411L1099.9 414.9L1101.5 415.4L1097 420.6zM1123.5 421.8L1127.7 416.4L1128.5 418L1131 410.4L1124.4 414.8L1126.1 415.2L1122 420.6zM1148.5 421.8L1152.4 416.1L1153.3 417.6L1155.4 410L1149 414.7L1150.7 415L1146.9 420.7zM1173.5 421.7L1177.1 415.9L1178.1 417.4L1179.8 409.6L1173.6 414.7L1175.4 414.9L1171.8 420.7zM1198.5 421.7L1201.8 415.7L1202.8 417.1L1204.2 409.3L1198.3 414.6L1200.1 414.7L1196.7 420.7zM1223.5 421.7L1226.5 415.6L1227.6 416.9L1228.7 409.1L1223 414.6L1224.8 414.7L1221.7 420.8zM1248.4 421.6L1251.3 415.4L1252.4 416.8L1253.2 408.9L1247.7 414.6L1249.5 414.6L1246.6 420.8zM998.6 447L1004.1 443L1004.4 444.7L1009 438.2L1001.4 440.5L1002.9 441.3L997.4 445.4zM1023.6 447L1028.9 442.6L1029.3 444.4L1033.5 437.6L1026 440.3L1027.6 441.1L1022.3 445.4zM1048.5 446.9L1053.6 442.3L1054.1 444L1058 437L1050.7 440.2L1052.3 440.8L1047.2 445.4zM1073.5 446.9L1078.3 442L1079 443.6L1082.4 436.5L1075.3 440L1076.9 440.6L1072.1 445.5zM1098.5 446.8L1103.1 441.7L1103.8 443.3L1106.8 435.9L1099.9 439.9L1101.6 440.4L1097 445.5zM1123.5 446.8L1127.8 441.4L1128.6 443L1131.1 435.5L1124.5 439.8L1126.2 440.2L1122 445.6zM1148.5 446.7L1152.5 441.2L1153.3 442.7L1155.5 435.1L1149.1 439.7L1150.8 440L1146.9 445.6zM1173.5 446.7L1177.2 440.9L1178.1 442.4L1180 434.7L1173.7 439.6L1175.5 439.9L1171.8 445.6zM1198.5 446.7L1201.9 440.8L1202.9 442.2L1204.4 434.4L1198.4 439.6L1200.2 439.7L1196.7 445.7zM1223.4 446.6L1226.7 440.6L1227.7 442L1229 434.2L1223.1 439.6L1224.9 439.7L1221.7 445.7zM1248.4 446.6L1251.4 440.5L1252.6 441.8L1253.5 434L1247.9 439.6L1249.7 439.6L1246.6 445.7z"/><circle cx="1035.4" cy="234.1" r="92.1" fill="none" stroke="#fff" stroke-width="2.6" stroke-dasharray="10.2 4.4"/><radialGradient id="sk"><stop offset="0" stop-color="#b35a00"/><stop offset="0.45" stop-color="#e88a20" stop-opacity="0.9"/><stop offset="1" stop-color="#ffb860" stop-opacity="0"/></radialGradient><circle cx="1034.6" cy="233.2" r="8.5" fill="url(#sk)"/><circle cx="1035.4" cy="234.1" r="3.4" fill="#000"/>
<clipPath id="hC"><rect x="1278" y="7.5" width="226.4" height="452.7"/></clipPath><filter id="hCf" x="-5%" y="-5%" width="110%" height="110%" color-interpolation-filters="sRGB"><feGaussianBlur stdDeviation="1.5"/></filter><g clip-path="url(#hC)"><g fill-rule="evenodd" filter="url(#hCf)"><rect x="1270" y="-0.5" width="244" height="470" fill="#000000"/>
<path fill="#070000" d="M1514 469.5l-128 0 -116 0 0 -241 22 -4.5 36 -4.5 -0.5 -2 -17.5 -11.5 -8 -6.5 -8 -9.5 -6 -10.5 -6 -14 -3 -14 -0.5 -14 1.5 -16 4 -14 5 -12 6.5 -12 8.5 -11.5 10 -10 10.5 -8.5 11.5 -7 14 -6.5 10 -3.5 12 -2.5 10 -1 12 -0.5 12 1 10 1.5 12 3.5 10 3.5 10 5 10 6.5 8 6 8 8 7 8 6 8 5.5 10 4.5 10 5 16 1 8 1 10 -0.5 10 -1 8 -1.5 8 -3 8 -3.5 8 -3 6 -4.5 6 -5 6 -10 9 -17 11 -1 2 32 3.5 16 2.5 12 3 0 241zM1379 237.5l7 -2 5.5 -2 -3.5 -0.5 -8.5 -3.5 -7.5 -2 -8 -0.5 -4.5 0.5 0.5 2 3 4 3 2.5 6 2 7 -0.5zM1409.5 237.5l8.5 -2 3.5 -2 2.5 -2 3 -4 -5 -1 -11 1 -8 2 -10.5 4 3.5 2 2 0.5 6 1.5 5.5 0zM1441.5 253.5l2.5 -2 1 -2 0.5 -2 -1 -4 -2.5 -2.5 -2 -1 -4 -1 -2 0.5 -2 2 -1 2 0 4 0.5 2 1.5 2 3 2 2 0.5 3.5 -0.5z"/>
<path fill="#0c0000" d="M1394 232.5l-2 0.5 -2 0 -8 -4 -9 -3.5 -27 -7 -10 -3.5 -14 -7 -12 -8.5 -6 -5.5 -4 -4.5 -4.5 -6 -5 -8 -3.5 -8 -3 -10 -1.5 -8 -0.5 -8 0.5 -10 1 -10 2.5 -10 3.5 -10 4.5 -9 5.5 -9 6 -8 7 -8 9.5 -8 8 -6 8 -4.5 10 -5 10 -3.5 10 -2.5 10 -1.5 10 -1 12 0.5 10 1 10 2.5 10 3 10 4 9 5 9 6 7.5 6 8 8 6.5 8 5.5 8 4.5 8 4.5 10 3 10 2 10 1 10 -0.5 10 -1 8 -2 8 -2.5 8 -4 8 -3.5 6 -5 7 -6 6 -12 9.5 -12 6.5 -16 6 -26.5 7 -9.5 3.5 -6 3.5zM1514 469.5l-244 0 0 -230 10 -2 12 -1.5 12 -1 10 0 8 1 6 1 10 5 5 1.5 7 1 10 -0.5 8 -0.5 8 -2 8 -3.5 6 -3.5 2 -0.5 4 3 6 2.5 16 4.5 4 2.5 6 7 3 2 3 1.5 4 1 4 -0.5 2 -0.5 4.5 -3.5 1.5 -2 2 -4 2.5 -10 1.5 -2 2 -1.5 4 -1.5 10 -1 12 1 14 2.5 16 4 0 230.5z"/>
<path fill="#110000" d="M1394 231.5l-2 1 -2 0 -14 -7 -38 -13 -12 -5.5 -12 -8.5 -5.5 -5 -5.5 -6 -5.5 -8 -3.5 -6 -3.5 -8 -3 -10 -1.5 -6 -0.5 -8 0 -10 1.5 -10 2.5 -10 3 -8 4.5 -10 5 -8 6 -8 7.5 -8 6.5 -6 8 -6 8 -5 10 -5 10 -3.5 10 -2.5 10 -2 10 -0.5 10 0 10 1 10 2 10 3 10 4.5 8 4 9.5 6 7.5 6 7 7 6 7 6 8.5 5.5 9.5 3 8 3.5 10 2 10 1 10 0 8 -1 8 -2.5 10 -3 8 -7 12 -4 6 -7.5 8 -10 8 -12 6.5 -12 5 -32 10.5 -12 6zM1514 469.5l-244 0 0 -221 12 -2.5 12 -0.5 8 1.5 14.5 4.5 8.5 2 9 1 10 -0.5 12.5 -2.5 13.5 -4.5 10 -4.5 6 -4 4 -3 2 -0.5 2 2 6 3.5 16 7 12.5 10 4.5 2 5 1 6 -1 5 -2 4.5 -4 6.5 -10 2 -2 4 -2 4 -1 8 0 12 1.5 12 2.5 12 4 0 223z"/>
<path fill="#160000" d="M1392 232l-4 -1 -4 -3 -10 -4.5 -30 -11 -10 -4 -10 -5.5 -10 -8 -5.5 -5.5 -5 -6 -4 -6 -4 -8 -3 -8 -2 -8 -1 -6 -0.5 -8 0 -8 1.5 -10 2.5 -10 3 -8 5 -10 5 -8 6 -7.5 6 -6.5 8 -7 8 -6 8 -4.5 10 -4.5 8 -3 10 -2.5 10 -1.5 10 -0.5 10 0.5 10 1 10 2.5 10 3.5 8 3.5 8.5 4.5 8.5 6 7.5 6 7.5 8 6 7.5 5.5 8.5 4 8 3 8 3 10 1.5 10 0.5 8 -0.5 8 -1 8 -3 10 -2.5 6 -4 8 -3.5 6 -9 10 -10 8 -12 7 -10 4.5 -30 10.5 -8 4 -8 4.5zM1514 469.5l-244 0 0 -213 8 -2.5 10 -1 10 1 20 3.5 8 0.5 12 0.5 10 -1 10 -2.5 12 -4.5 10 -5.5 4 -3 4 -4.5 4 -1.5 8 6.5 14 7.5 12 8.5 6 3 4 1 4 0 4 -0.5 6 -2 6 -4.5 8 -8 4 -2.5 6 -1 8 0 12 2.5 10 3 10 5 0 215z"/>
<path fill="#1a0000" d="M1392 232l-4 -1 -4 -3.5 -10 -5.5 -26 -9.5 -12 -5.5 -12 -7 -8 -6.5 -6 -6 -4 -5 -4.5 -7 -3 -6 -2.5 -6 -2 -8 -1.5 -8 -0.5 -8 0 -8 1.5 -10 2 -8 4 -10 7.5 -14 6 -8 7 -8 8 -7 8 -5.5 8 -4.5 8 -4 10 -3.5 10 -2.5 18 -1.5 8 0 12 1.5 16 4.5 10 4 10 5.5 6 4.5 8 6.5 6 6 6.5 8 6.5 10 4 8 4 10 2 8 1.5 16 -1 14 -2 8 -2.5 8 -4 8 -4 6 -9 10.5 -9 7.5 -11 7 -12 5 -28 11 -8 4 -6 4.5 -2 1zM1514 469.5l-244 0 0 -204 4 -2.5 4 -2 10 -1.5 10 0 22 1.5 12 0.5 12 -0.5 10 -1.5 10 -3 10 -5 8 -5.5 2 -2 1 -2.5 3 -3.5 4 -1 2 1 6 7 12 6.5 14 9.5 8 3 8 0.5 6 -1.5 7.5 -3.5 8.5 -6.5 4 -2.5 4 -1.5 4 0 10 0.5 10 3 8 3.5 8 5.5 2 2 0 206z"/>
<path fill="#1f0000" d="M1394 231l-4 0.5 -2 -1 -4 -4 -8 -4.5 -38 -16 -11 -6.5 -9 -7 -5 -5 -5 -6 -7 -12 -2.5 -6 -2 -8 -1.5 -8 -0.5 -8 0 -8 1.5 -10 2 -8 3 -8 4 -8 4.5 -8 6.5 -8 5.5 -6 6.5 -6 8 -6 8 -4.5 8 -4 8 -3 10 -2.5 8 -1.5 10 -1 10 0.5 8 1 10 2 8 2 10 4 8 4.5 8 5 6.5 5.5 7.5 7 6 7 5 8 4.5 8 3.5 8 2.5 8 2 10 0.5 8 0 8 -1 8 -2 8 -2 6 -6 12 -4 6 -5.5 6 -9 8 -10.5 6.5 -12 6 -30 12.5 -8 4 -4 4.5zM1514 469.5l-244 0 0 -190 3.5 -6 4 -4 3.5 -2 5 -2 6 -1 10 -0.5 24 0 12 0 14 -1.5 10 -2.5 8 -3.5 8 -4.5 4 -4 5 -8.5 1 -1 2 -1 4 0.5 3 3.5 1 2.5 2 3 2 1.5 20.5 13 5.5 2.5 4 1.5 8 1 8 -1 6 -2.5 14 -7.5 4 -1.5 4 -0.5 6 0.5 8 2 7 3.5 6 4 4 4 2.5 4 3 6 1.5 6.5 0 185.5z"/>
<path fill="#240000" d="M1394 230.5l-4 1 -3 -2 -3 -4 -6 -3.5 -10 -5 -22 -9 -8 -4 -10 -6 -8 -6.5 -6 -6 -4.5 -6 -7 -12 -2 -6 -2 -8 -2 -14 0.5 -8 1 -8 2 -8 2.5 -8 4 -8 4.5 -8 5 -6.5 6.5 -7.5 6.5 -6 7 -5 8 -5 8 -4 8 -3 10 -3 8 -1 10 -1 10 0 8 1 10 2 8 2.5 8 3 8 4.5 8 5 7.5 6 6.5 6.5 6 7 4.5 6.5 4.5 8 3.5 8 2.5 8 2 10 0.5 8 -0.5 14 -2 8 -2 6 -3 8 -3.5 6 -8.5 10.5 -8 7.5 -10 6.5 -12 6.5 -22 9 -10 4.5 -6 4 -4 4.5zM1508 469.5l-234.5 0 0.5 -128 0.5 -34 1 -12 1 -8 2 -6 3.5 -5 3 -3 3.5 -2 9.5 -3 10 -1 36 -1.5 12 -2 10 -3 8 -3.5 4 -2.5 4 -5 2.5 -6.5 2.5 -4 3 -2 4 0.5 1.5 1.5 4.5 9 4 3.5 18 11.5 10 4 8 1 8 -1 7 -2 13 -5.5 6 -1.5 4 0.5 6 1 6 3 4 2.5 5.5 6 4.5 8 2.5 10 1 12 1 34 0.5 134 -1 0z"/>
<path fill="#290000" d="M1394 230.5l-2 0.5 -2 0 -2.5 -1.5 -3.5 -5 -6 -3.5 -10 -5 -20 -8.5 -10 -5 -10 -7 -7.5 -6 -8.5 -10 -7 -12 -2 -6 -2.5 -8 -1.5 -14 0 -8 1.5 -8 2 -8 2.5 -8 4 -8 3.5 -6 5.5 -7.5 6 -6.5 6.5 -6 7.5 -6 8 -4.5 7 -3.5 9 -3.5 8 -2 8 -1.5 10 -1 10 0.5 8 0.5 10 2.5 8 2.5 8 3 8 4.5 7 4.5 7 5.5 6.5 6.5 5.5 6.5 5 7.5 4.5 8 3.5 8 2 8 1.5 8 1 8 -1 14 -2 8 -1.5 6 -6 12 -4 6 -5.5 6 -9 8 -10.5 7 -10 5 -24 10.5 -10 5.5 -2 1.5 -4 5.5zM1500 469.5l-218.5 0 0.5 -128 1 -30 0.5 -12 1.5 -8 1.5 -6 3.5 -6 5.5 -4 8.5 -3 10 -2 24 -1.5 12 -1.5 10 -2.5 10 -3 4 -2 4 -3 4 -6 4 -9.5 1.5 -2 2.5 -2 2 0 2 1 1 1 5 10 4 5 16 10 8 3.5 8 2 10 0 8 -1.5 14 -4 6 -0.5 6.5 1.5 6.5 4 5 6 4 8 2 10 1.5 12 0.5 34 1 130 -1 0z"/>
<path fill="#2d0000" d="M1394 230l-2 1 -2 0 -2.5 -1.5 -3.5 -6 -2 -1.5 -10 -5.5 -22 -10 -10 -5 -9.5 -6 -8.5 -7.5 -8.5 -10.5 -6.5 -12 -4 -12 -1.5 -14 0 -8 1 -8 2 -8 3 -8 4 -8 4 -6 4.5 -6.5 6 -6.5 6 -5.5 7.5 -5.5 6.5 -4 8 -4 8 -3 8 -2.5 8 -1.5 10 -0.5 10 0 8 1 8 1.5 8 2.5 8 3 8 4.5 8 5 6 5 6 5.5 6 7 4.5 6.5 4.5 8 3.5 8 2.5 8 1.5 8 0.5 8 -1 14 -1.5 8 -2 6 -6 12 -7.5 10 -9 8 -11.5 8 -10.5 5.5 -22 9.5 -8 4.5 -4 3 -4 6zM1492 469.5l-202.5 0 1 -128 0.5 -28 1.5 -14 1.5 -8 2.5 -6 3 -4 6 -4 6.5 -2.5 8 -1.5 34 -4.5 10 -2.5 8 -3 4 -2.5 2 -2 4 -7 4.5 -10.5 1.5 -2 2 -1.5 2 -0.5 3 2 2 4 3 7 4 6 7 5 13 7 8 3 10 1 8 -0.5 14 -2 6 -0.5 6 2 4 2.5 4.5 5.5 3 8 2.5 10 1 14 1 30 1 128 -1 0z"/>
<path fill="#320000" d="M1394 230l-2 1 -2 0 -3.5 -3.5 -2.5 -4.5 -4 -3.5 -37 -18 -9.5 -6 -9.5 -8 -8 -10 -7 -12 -3.5 -12 -1.5 -12 0 -8 0.5 -8 2 -8 3 -8 3.5 -8 3.5 -6 5.5 -7.5 6 -6.5 6 -5 6.5 -5 7.5 -4.5 8 -4 8 -3 8 -2 8 -1.5 8 -0.5 10 0.5 8 0.5 8 2 8 2.5 14 6.5 8 5 6 4.5 6 6 5.5 6 4.5 6.5 4.5 7.5 3.5 8 2.5 8 1.5 8 0.5 8 -0.5 14 -3 12 -6 12 -7 10 -8 8 -11.5 8 -8.5 5 -22 10 -10 5 -4 4 -0.5 2 -3.5 4.5zM1484 469.5l-187 0 1 -46 1 -84 0.5 -24 1.5 -14 1.5 -8 3 -6 3 -4 5.5 -3.5 6.5 -2.5 35.5 -6.5 10 -3 6 -2 4 -3 2 -2.5 4 -7.5 4.5 -11.5 3.5 -3.5 2 0 2.5 1.5 1.5 2 4 10 4 7 4 4 10 5.5 10 4.5 8 2 8 0.5 16 -0.5 6 1 4 1.5 3 2.5 4 6 3 8 1.5 10 1.5 14 0.5 28 1 86 1 38 -1.5 0z"/>
<path fill="#370000" d="M1394 230l-2 1 -2 0 -3.5 -3.5 -2.5 -5 -4 -4.5 -37.5 -18.5 -8.5 -6 -8 -7 -7.5 -9 -4 -6 -3 -6 -4 -12 -1.5 -12 0 -8 1 -8 2 -8 2 -6 3 -7 4 -7 6 -8 5.5 -6 6.5 -6 6 -4.5 6 -3.5 8 -4 8 -3 8 -2 8 -1.5 8 -0.5 8 0 8 0.5 8 1.5 8 2.5 8 3 8 4.5 6 3.5 7 5.5 6 6 5 6 4.5 6 4.5 8 2.5 6 2.5 8 1.5 8 1 8 -1 14 -3 12 -6 12 -7 10 -8.5 8 -11 8 -10 5 -20 9.5 -8 4.5 -4 4.5 -1 2.5 -3 4.5zM1478 469.5l-173.5 0 1.5 -50 1.5 -94 2 -20 1 -6 1.5 -6 2.5 -4 3 -4 6.5 -4 10 -3 30 -7.5 6 -2 4 -2 2 -2.5 4 -6.5 6.5 -16.5 3.5 -3.5 2 0 2.5 1.5 2 4 3.5 9 4 7.5 2 3 4 3 12 6.5 8 3 8 1.5 18 2.5 4 1 4 2.5 2 2 3.5 6.5 2 6 1.5 8 2 20 1 92 2 52z"/>
<path fill="#3c0000" d="M1394 229.5l-2 1.5 -2 -0.5 -3.5 -3 -2.5 -6 -4 -4.5 -6 -3.5 -20.5 -10 -9.5 -5 -10 -7 -6.5 -6 -8 -10 -5.5 -10 -4 -12 -1.5 -12 0 -8 1 -8 2 -8 2 -6 3.5 -8 4 -6 4 -6 5.5 -6 11.5 -9.5 7 -4.5 7 -3.5 8 -3 8 -2.5 8 -1.5 8 -0.5 8 0 8 1 8 1.5 8 2.5 14 6.5 8 5 5.5 4.5 10.5 11 5 7 3.5 6 2.5 6 2.5 8 2 8 0.5 8 -0.5 12 -2.5 12 -5.5 12 -7 10 -8 8 -10.5 8 -11 6 -23 11 -4 2.5 -2 2.5 -4.5 8 -1.5 2zM1470 469.5l-159 0 3 -58 2 -84 1.5 -18 3 -12 1.5 -4 3 -4 3 -3 4 -2.5 8 -3 28 -8.5 4 -2 2 -1.5 2 -2.5 4 -7.5 6.5 -17.5 3.5 -3.5 2 0 2 1.5 1.5 2 4.5 11.5 4 8.5 2 3 4 4.5 6 3.5 10 4 22 6.5 5.5 2.5 4.5 4 2.5 4 1.5 4 3 14 1.5 20 2 78 2.5 60 -1 0z"/>
<path fill="#410000" d="M1392 230.5l-2 0 -3.5 -3 -0.5 -2.5 -4 -7 -4 -4 -32.5 -16.5 -9.5 -6.5 -8 -7.5 -7.5 -10 -5 -10 -3.5 -12 -1.5 -12 1.5 -14 2 -8 2 -6 4 -8 3.5 -6 4.5 -6 5.5 -6 6.5 -5.5 6 -4 6 -3.5 8 -4 14 -4 8 -1.5 8 -0.5 8 0.5 8 1 14 3.5 8 3.5 6 3.5 6 4 6.5 5 6 6 5 6 7 12 3 6 2 8 1.5 8 1 8 -1 12 -3 12 -5 10 -7 10 -8 8 -10 7.5 -8.5 4.5 -25.5 13 -4 4 -4.5 9 -1.5 2 -2 1zM1464 469.5l-146.5 0 4.5 -71.5 2.5 -68.5 1.5 -16 2.5 -12 4 -8 3.5 -4 2.5 -2 7.5 -4 20 -7 6 -3.5 4 -5 2 -3.5 6 -14.5 2.5 -8.5 3.5 -3.5 2 0 3.5 3.5 4.5 12.5 4 9 4 6 2 2.5 4 3 4 2 21.5 9 4.5 2.5 2.5 1.5 3.5 4 4 8 2.5 12 1.5 16 2.5 68 4.5 72 -1 0z"/>
<path fill="#450000" d="M1392 230.5l-2 0 -3.5 -3 -0.5 -2.5 -4 -8 -4 -4.5 -4 -2.5 -20 -9.5 -8.5 -5 -8.5 -6 -8 -8 -7.5 -10 -4.5 -10 -3 -10 -1 -12 0 -8 1 -6 2 -8 2.5 -6 6.5 -12 4.5 -6 5.5 -6 11 -9 6 -3.5 8 -4 14 -4.5 8 -1 8 -0.5 8 0 8 1 14 4 8 3.5 6 3.5 11.5 8.5 6 6 4.5 6 7 12 2.5 6 2.5 8 1 6 0.5 8 -1 12 -2.5 10 -4 10 -7 10 -7.5 8 -9.5 7.5 -8 4.5 -22 11 -4 2.5 -4 5 -4 7.5 -0.5 2 -1.5 2 -2 1zM1458 469.5l-134.5 0 6.5 -86 3 -54 1.5 -12 2 -10 2 -6 2 -4 5 -6 6.5 -5 16 -7.5 4 -3.5 6 -10 6 -15 3 -9 3 -3.5 2 0 3.5 3.5 6.5 18 4 8.5 4 6 6 5.5 15 8 6 4 5 6 2 4 2 6 2 10 1.5 14 3 50 6.5 88 -1 0z"/>
<path fill="#4a0000" d="M1392 230.5l-2 0 -3 -3 -3 -7.5 -4 -6.5 -2 -2 -4 -3 -18.5 -9 -9.5 -5.5 -8.5 -6.5 -8 -8 -5.5 -8 -5 -10 -2.5 -10 -1.5 -12 0.5 -8 1 -6 3.5 -12 6.5 -12 4 -6 5.5 -6 6 -5.5 6 -4 12 -6.5 14 -4.5 8 -1.5 8 -0.5 8 0.5 8 1 14 4 12 6 6 4 6 5 9.5 10 7 12 2.5 6 2.5 8 1 6 1 8 -1 12 -2.5 10 -4.5 10 -7 10 -7.5 8 -8 6 -10 6 -19 9.5 -4 2.5 -4 5.5 -4 8.5 -0.5 2 -1.5 1.5 -2 1.5zM1452 469.5l-123 0 4 -52 8 -80 2 -16 2 -10 3 -8 4 -6.5 5 -5.5 11 -8.5 6 -8.5 6 -12.5 7 -20.5 3 -3 2 -0.5 3.5 3.5 6.5 19 4 9 4 7 6 7.5 9.5 7.5 5.5 6 3.5 6 3 8 2 10 1.5 12 8 80 4.5 56 -1.5 0z"/>
<path fill="#4f0000" d="M1392 230.5l-2 -0.5 -3 -2.5 -1 -3.5 -4 -8 -4 -6 -2 -2 -20 -10 -8 -5 -8 -6 -8 -8 -5.5 -7.5 -5 -10 -3 -10 -1 -12 0.5 -8 1 -6 3.5 -12 6.5 -12 9 -10.5 6 -5.5 5.5 -4 12.5 -6.5 14 -4 14 -1.5 14 1 14 3.5 12 6 6 3.5 6 5 5 5 5 6 4 6 3 6 4 12 1.5 6 0.5 8 -1 12 -2.5 10 -4.5 10 -5 8 -7.5 8 -8.5 6.5 -9 5.5 -17 8.5 -4 2.5 -2 2 -4 6 -4 8.5 -0.5 2.5 -1.5 1.5 -2 1.5zM1448 469.5l-113.5 0 3 -44 3 -30 5 -40 3 -20 3 -14 2.5 -8 3 -8 4 -8 9 -13.5 4 -7.5 6 -14 7 -21 3 -3 2 -0.5 3.5 3.5 4.5 14.5 6 15 6 12 12.5 20.5 2.5 6 3.5 10 4.5 24 6.5 50 3 30 3.5 46z"/>
<path fill="#540000" d="M1392 230l-2 0 -3 -2.5 -1 -3.5 -4 -8.5 -4 -6.5 -2 -2 -4 -3 -13 -6.5 -10.5 -6 -7.5 -6 -8 -8 -5.5 -8 -4.5 -10 -2.5 -10 -1 -10 0.5 -8 1 -6 4 -12 3 -6 4 -6 8 -9.5 10 -8 12 -6.5 6 -2.5 8 -2 14 -1.5 14 1 12 3 12.5 6 11.5 8.5 9 9.5 4 6 3.5 6 4.5 12 1 6 1 8 -0.5 10 -2.5 10 -4 10 -5 8 -7 8 -8 6.5 -12 7.5 -14 7 -4 2.5 -2 2.5 -4 6.5 -4 9 -0.5 2.5 -1.5 1.5 -2 1zM1442 469.5l-102.5 0 3 -46 2 -24 4.5 -36 6 -32 4 -16 4 -12 15 -34.5 6 -17 3 -10.5 3 -3 2 0 3.5 3 2.5 9.5 6 16.5 11.5 26 5.5 14 6 22 6 32 5.5 44 2 22 2.5 42 -1 0z"/>
<path fill="#580000" d="M1392 230l-2 0 -3 -2.5 -1 -4 -4 -9 -4 -6.5 -2 -2.5 -4 -3.5 -16 -8.5 -9.5 -6 -6.5 -5.5 -6 -6.5 -6 -9.5 -3.5 -8.5 -2 -8 -0.5 -10 1 -12 3.5 -12 3 -6 3.5 -6 8.5 -10 10.5 -8 12 -6.5 12 -3.5 14 -2 14 1.5 8 1.5 6 2.5 12 6 10 8 8 9 4 5.5 3 6 4 12 1 6 0.5 8 -1 10 -2.5 10 -3 7 -5.5 9 -6.5 7 -6.5 5 -9 6 -16.5 9 -4 3.5 -2 2.5 -4 7 -4 9 -1 3 -1 1.5 -2 1zM1438 469.5l-93.5 0 2 -44 1.5 -22 5 -40 4 -26 5.5 -24 4.5 -14 13 -35 7.5 -23 2.5 -3 2 0 3 3 7 21.5 13 34.5 6 20 4 18 4.5 28 5 42 1.5 22 2 42z"/>
<path fill="#5d0000" d="M1392 230l-2 0 -2.5 -2.5 -1.5 -4 -6 -13.5 -2 -3.5 -4 -4.5 -4 -3.5 -13 -7 -9 -6 -7 -6 -5 -6 -5.5 -8 -3 -8 -2.5 -10 -1 -8 2 -14 4 -12 6 -10 7 -8 9.5 -8 11.5 -6 12 -4 14 -1.5 14 1 9.5 2.5 12.5 5.5 6 4 5.5 4.5 8.5 9.5 6.5 10.5 3.5 10 2 10 0 4 0 8 -2 10 -3.5 8 -4.5 8 -6.5 8 -7 6 -8.5 5.5 -14 8 -4 3 -4 5.5 -2 3.5 -4 8.5 -3 8 -1 1.5 -2 1zM1432 469.5l-83 0 1.5 -44 1 -20 4 -40 5 -30 4.5 -24 5.5 -20 9.5 -26 7.5 -24 2.5 -3 2 0 3 3 5 16.5 11 31.5 6 22 5.5 26 4.5 30 4 42 2.5 60 -1.5 0z"/>
<path fill="#620000" d="M1392 230l-2 -0.5 -2.5 -2 -1.5 -4.5 -6 -13.5 -6 -9.5 -4 -3.5 -14 -8.5 -6.5 -4.5 -6.5 -6 -5 -6 -5 -8 -3 -8 -2 -8 -0.5 -8 1 -12 3.5 -11 6 -10.5 8 -9.5 9 -7 11 -5.5 12 -4 12 -1 12 0.5 12 3.5 12 5.5 9 7 5 5 4 5 6 10 3.5 10 1.5 12 -0.5 8 -1.5 8 -2.5 8 -4.5 8 -6 7.5 -6 5.5 -6.5 5 -15.5 9 -4 4 -6 9.5 -4 9 -3 8.5 -1 1.5 -2 1zM1428 469.5l-74 0 0.5 -20 -0.5 -24 1 -20 3.5 -42 4 -28 4.5 -24 4 -18 16.5 -52 2.5 -3 2 0 3 3 5 17 9 27 6 24 4.5 24 4.5 30 3.5 42 1 24 -0.5 20 0.5 20 -0.5 0z"/>
<path fill="#670000" d="M1392 229.5l-2 0 -2.5 -2 -1.5 -5 -6 -14 -4 -7.5 -4 -5 -4 -3.5 -17 -11 -6.5 -6 -4.5 -6 -3.5 -6 -3.5 -8 -2 -8 -0.5 -8 1.5 -12 3 -10 6 -10 7 -8.5 10 -7.5 10 -5 10 -3 12 -1.5 12 1 12 3 10.5 5.5 9.5 7.5 7.5 8.5 5.5 10 3.5 10 1.5 12 -0.5 8 -2 8 -3.5 8 -3.5 6 -5 6 -6.5 6 -17 11.5 -4 3.5 -4 5.5 -4 7.5 -6 14.5 -1 3.5 -1 1 -2 1zM1422 469.5l-63 0 0 -20 -1 -22 0 -20 3 -42 2.5 -26 4 -24 5.5 -26 14 -46 0.5 -2 2.5 -3 2 0 3 3 14 46 5.5 26 4 24 3 28 3 46 0 16 -1 22 0 20 -1.5 0z"/>
<path fill="#6c0000" d="M1392 229.5l-2 0 -2.5 -2 -1.5 -5 -6 -14.5 -4 -8 -4 -6 -4 -4 -16 -11.5 -5.5 -5 -4.5 -6 -3.5 -6 -3 -8 -1 -6 -1 -8 1 -10 3.5 -10 5.5 -10 7 -8 7.5 -6.5 10 -5 10 -3.5 12 -1.5 12 1 10 3 10 4.5 10 8 7 8 5.5 10 3 10 1 10 -0.5 8 -1 6 -3 8 -3.5 6 -4.5 5.5 -4 4.5 -6 4.5 -12 8.5 -4 4 -4 6 -4 8.5 -6 14.5 -1 4 -3 2zM1418 469.5l-53.5 0 -1 -20 -2 -22 -0.5 -18 2 -42 2.5 -28 3.5 -26 4 -22 14 -48 0.5 -2 2.5 -2.5 2 -0.5 3 3 14 48 4 22 4 26 2.5 28 1.5 44 -0.5 20 -1.5 20 -1 20z"/>
<path fill="#700000" d="M1394 228.5l-2 1 -2 0 -2.5 -2 -7.5 -20.5 -4 -8.5 -4 -6.5 -4 -4.5 -15.5 -12 -4.5 -5 -3.5 -5 -3.5 -6 -2 -6 -1.5 -6 -0.5 -6 0.5 -10 3 -10 5.5 -10 6 -7 8 -7 10 -5 10 -3 10 -1 12 1 10 3 10 5 7.5 6 7 8 4.5 8 3.5 10 1 10 -0.5 6 -1 6 -2 6 -2.5 6 -4 6 -5.5 6 -14 11 -6 6 -6 11 -6 14.5 -3 9.5 -1 1zM1412 469.5l-41.5 0 -2 -20 -3 -22 -1 -24 0.5 -38 2 -28 2.5 -22 3 -18 2 -10 12.5 -44 2 -4 1 -0.5 2 -0.5 2.5 3 14 50 4 22 3 26 2 28 0.5 42 -1 20 -3 20 -2 20z"/>
<path fill="#750000" d="M1394 228.5l-2 1 -2 0 -2 -2 -10 -26 -4 -8 -4 -6 -4 -4 -12 -10.5 -4 -4.5 -3.5 -5 -4.5 -10 -1.5 -6 -0.5 -6 1 -10 2 -8 5 -9.5 6 -7 8 -7 8 -4 10 -3.5 10 -1 10 0.5 10 3 9.5 4.5 7.5 6 7 8 4.5 8 2.5 8 1.5 10 -0.5 6 -1 6 -4 10 -3 5 -4 5 -14 12 -6 7.5 -6 11.5 -6 15 -3 10 -1 1zM1404 469.5l-25.5 0 -4 -20 -4.5 -18.5 -2.5 -23.5 -0.5 -48 1.5 -24 3 -26 4 -22 11.5 -44 2.5 -4 0.5 -0.5 2 -0.5 2.5 3 10.5 38 4 16 3 20 1.5 20 1.5 22 0 40 -1 21.5 -2.5 16.5 -3.5 14 -2 12 -2 8z"/>
<path fill="#7a0000" d="M1394 228.5l-2 1 -2 0 -2 -2 -10 -27 -6 -12 -6 -8 -12.5 -13 -4 -6 -4.5 -10 -1.5 -10 1 -10 2.5 -8 4.5 -8 4.5 -6 7.5 -6 6.5 -4 10 -3.5 10 -1 9.5 0.5 8.5 2.5 8 3.5 8 6 7 8 4.5 8 2.5 8 1 8 -1.5 10 -3.5 10 -5 8 -13 13.5 -6 8 -6 12.5 -8 21 -1.5 5 -0.5 1zM1394 458.5l-2 1 -2 0 -2 -1.5 -2 -2.5 -7.5 -14 -3.5 -10 -2.5 -12 -2 -14 -1.5 -40 0.5 -26 2 -22 3.5 -26 12 -48 2.5 -4 2.5 -0.5 2.5 2.5 0.5 2 9.5 36 4 18 2 16 2 20 1 28 -1.5 40 -2.5 22 -2.5 10 -3 8 -6.5 12 -3.5 5z"/>
<path fill="#7f0000" d="M1394 228l-2 1.5 -2 0 -2 -2 -8 -22.5 -6 -14.5 -6 -10.5 -11.5 -14.5 -5 -8 -2.5 -8 -1 -8 0.5 -8 2.5 -8 4 -8 5 -6 6 -4.5 8 -4.5 8 -2.5 8 -1 8 0.5 8 2 8 3.5 6 4.5 6 6.5 4.5 7.5 3 8 1 8 -1 10 -3 8 -5 8 -9.5 12 -6 10 -6 13 -10 27.5zM1392 439.5l-4 -0.5 -4 -3.5 -4 -7.5 -3.5 -10.5 -2 -10 -1.5 -10 -2 -28 -0.5 -12 0.5 -20 1.5 -22 3 -24 12 -48 2 -4 2.5 -0.5 2.5 2.5 0.5 2 8.5 32 4 18 2.5 24 1.5 20 0 20 0 12 -2 26 -1.5 11.5 -2 10 -2.5 8.5 -3.5 7.5 -4 4.5 -4 2z"/>
<path fill="#830000" d="M1394 228l-2 1.5 -2 0 -2 -2 -8 -23.5 -6 -15 -6 -12 -10 -15.5 -3 -6 -2 -6 -1 -8 0.5 -8 2 -6 3 -6 5 -6 5.5 -5 6 -3.5 8 -2.5 8 -1.5 8 1 6.5 1.5 7.5 3.5 6 4.5 5.5 6 3.5 6 2.5 6 1 8 -0.5 8 -2.5 8 -4.5 8 -7 10.5 -8 16 -4 9.5 -10 28.5zM1392 425.5l-2 0 -2 -1 -4 -4 -3.5 -7 -2.5 -9 -2 -11 -3 -26 -0.5 -28 1 -28 3 -24 11 -44 2 -4 2.5 -0.5 2.5 2.5 0.5 2 8 32 3.5 16 2.5 22 1 26 -0.5 28 -3 26 -2 10 -2.5 9.5 -2 4.5 -4 6 -2 1.5 -2 0.5z"/>
<path fill="#880000" d="M1394 228l-2 1.5 -2 -0.5 -2 -1.5 -8 -24 -6 -16 -6 -14 -9.5 -18 -2 -6 -1 -8 0.5 -6 2 -6.5 3 -5.5 5 -6 6 -4.5 6 -3 6 -2 6 -0.5 8 0.5 6 2 6 2.5 6 5 4 4 3.5 6 2.5 6 1 6 -0.5 6 -2 8 -3.5 8 -7 13 -6 14 -14 39.5zM1392 412l-2 0 -2 -1 -2 -2 -4 -7.5 -2 -7 -5 -29 -1.5 -28 1 -26 2.5 -24 10.5 -44 0.5 -2 1.5 -2 2.5 -0.5 2.5 2.5 0.5 2 8 32 2.5 14 2.5 24 1 24 -1.5 28 -5 28 -2.5 9 -2 4 -2 3 -2 2 -2 0.5z"/>
<path fill="#8d0000" d="M1394 228l-2 1 -2 0 -2 -1.5 -12 -36.5 -8 -21 -6.5 -14.5 -1.5 -6 -1 -6 0 -6 2 -6 3 -6 3.5 -4 4.5 -4 6 -3 6 -2 6 -1 6 0.5 6 1.5 6 2.5 4.5 3.5 4 4 3.5 5 2.5 5 1 6 0 6 -2 8 -7.5 17.5 -8 21 -12 36zM1394 398l-2 1 -2 0 -2 -1.5 -2 -2 -2 -4 -2 -6 -4 -14 -1.5 -8 -1.5 -28 0 -24 2 -22 4 -18 6.5 -28 0.5 -2 1.5 -2 2.5 -0.5 2 2.5 1 2 8.5 36 3 18 1 20 0 22 -1 18 -1.5 10 -1 6 -5 16 -3 6.5 -2 2z"/>
<path fill="#920000" d="M1394 228l-2 1 -2 0 -2 -1.5 -10 -32 -13.5 -38 -2 -8 -0.5 -6 0.5 -6 1 -4 2.5 -5 4 -5 4 -3 4 -2 6 -2.5 6 -0.5 6 0 6 2 6 3 4 3 3.5 4 2.5 4 1.5 4 1 6 -0.5 6 -1.5 8 -12.5 35.5 -12 37zM1392 386l-2 0 -2 -1.5 -4 -6 -2 -4 -2.5 -7 -1.5 -10 -1.5 -16 -1 -24 1.5 -22 2.5 -16 9 -38 1.5 -2 2 -0.5 2 2.5 1 2 8.5 38 2.5 16 1 20 -0.5 22 -1.5 16 -2 10 -1.5 6 -2.5 6 -5 7.5 -2 1z"/>
<path fill="#970000" d="M1394 227.5l-2 1.5 -2 0 -1.5 -1.5 -21.5 -68 -2 -8 -0.5 -6 0 -6 1 -4 2 -4 2.5 -3.5 4 -3.5 4 -2.5 6 -2 6 -1 10 1.5 4 1 6 4 4 4.5 2 3.5 1.5 4 0.5 4 -0.5 8 -1.5 8 -22 70zM1394 376l-2 0.5 -2 0 -2 -1 -2 -2 -2 -3 -2 -5 -2 -8 -2.5 -16 -1 -26 1 -22 3.5 -20 7.5 -32 1.5 -2 2 -0.5 2 2.5 0.5 2 8 36 2.5 16 1 18 -1 24 -2.5 20 -1.5 6 -2 6 -3 4.5 -2 2z"/>
<path fill="#9b0000" d="M1394 227.5l-2 1.5 -2 0 -1.5 -1.5 -14.5 -48 -5.5 -22 -1.5 -10 0 -6 1 -4.5 1.5 -3.5 2.5 -3 4 -3 4 -2.5 4 -1 6 -1 4 0 6 1.5 4 1.5 4 2.5 3.5 3 2.5 4 1.5 8 -0.5 10 -6.5 26 -14.5 48zM1392 369.5l-2 0 -2 -1 -2 -2.5 -2 -3.5 -2 -6 -3.5 -19 -1.5 -26 1 -20 3 -18 7.5 -32 1.5 -2 2 -0.5 2 2.5 0.5 2 8 36 2 14 1 18 -1.5 24.5 -3.5 19.5 -2 6 -2 4 -2.5 3.5 -2 0.5z"/>
<path fill="#a00000" d="M1394 227.5l-2 1.5 -2 0 -1.5 -1.5 -14 -48 -5.5 -28 0 -4 1 -6 1 -4 2 -4 3 -2.5 4 -3 4 -1.5 6 -1 6 0.5 4 1 4 2 4 3 2.5 3.5 1.5 4 1.5 10 -1 8 -5 24 -13.5 46zM1394 361.5l-2 1 -2 0 -2 -1 -2 -3 -2 -4.5 -4 -16.5 -2 -26 0.5 -20 3 -18 7 -32 1.5 -2 2 0 2 2 0.5 2 7 32 2.5 16 0.5 16 0 10 -2.5 22.5 -4 15 -2 4 -2 2.5z"/>
<path fill="#a50000" d="M1392 229l-2 0 -1.5 -1.5 -5.5 -18 -8 -30 -4 -22 -0.5 -6 2 -10 1.5 -4 2.5 -4 5.5 -3.5 4 -1.5 4 -0.5 4 0 4 1 4 1.5 4 3 2.5 4 1.5 4 2 10 -1 8 -4 22 -12.5 44 -0.5 2 -2 1.5zM1392 356l-2 -0.5 -2.5 -2 -1.5 -2.5 -4 -11 -3 -20.5 -0.5 -12 0.5 -18 4 -22 5.5 -26 1.5 -2 2 0 2 2 0.5 2 6.5 32 2.5 16 0.5 16 -0.5 12 -3 20 -4.5 12.5 -2 2.5 -2 1.5z"/>
<path fill="#aa0000" d="M1392 229l-2 0 -1.5 -1.5 -5 -18 -8 -30 -3.5 -24 1 -10 3.5 -8 3.5 -4 2 -1.5 4 -1.5 4 -0.5 4 0 4 1 4 2 2 2 3 4.5 1.5 4 2 10 -3 22 -2 10 -11 40 -0.5 2 -2 1.5zM1394 347.5l-2 1.5 -2 0 -4 -4.5 -2 -4 -2.5 -9 -2 -14 -0.5 -8 0.5 -18 3 -22 6 -28 1.5 -2 2 0 2 2 0.5 2 5 24 3 20 1 12 -0.5 16 -2.5 18 -2.5 8 -2 3.5 -2 2.5z"/>
<path fill="#af0000" d="M1392 229l-2 0 -1.5 -1.5 -7.5 -28 -5 -20 -2.5 -24 0 -4 1.5 -6 1.5 -4 2.5 -4 5 -4 4 -1.5 4 -0.5 4 1 2.5 1 3.5 2.5 2 2.5 3.5 7 1 4 0.5 6 -2 20 -2 10 -10.5 40 -0.5 2 -2 1.5zM1392 344l-2 -0.5 -2 -1 -2 -3 -2 -5 -4 -19 -0.5 -16 0.5 -8 1 -12 6 -32 1.5 -6 1.5 -1.5 2 -0.5 2 2 0.5 2 4.5 24 3.5 20 0.5 12 -1 16 -3 16 -1 4.5 -2 4.5 -2 2 -2 1.5z"/>
<path fill="#b30000" d="M1392 229l-2 0 -1.5 -1.5 -7.5 -28 -4.5 -20 -2 -22 0.5 -6 1 -4 1.5 -4 2.5 -4 2 -2 4 -2.5 6 -1.5 4 1 2 1 2.5 2 3 4 3.5 8 1 8 -1.5 18 -2 10 -10 40 -0.5 2 -2 1.5zM1394 338l-2 1.5 -2 -0.5 -2 -1.5 -2.5 -4 -4 -16 -1.5 -18 0.5 -10 1 -10 6 -32 1 -6 1.5 -1.5 2 -0.5 1.5 2 1 2 4 22 3 18 1 12 -0.5 14 -1 8 -3 12.5 -2 5.5 -2 2.5z"/>
<path fill="#b80000" d="M1392 229l-2 -0.5 -1.5 -1 -6 -22 -5.5 -26 -1.5 -20 1.5 -10 3 -7 2.5 -3 3.5 -2.5 2 -0.5 4 -0.5 4 1 2 1 2 2 3 3.5 2.5 6 1.5 10 -1.5 18 -2 12 -9 36 -0.5 2 -2 1.5zM1394 333.5l-2 1.5 -2 -0.5 -2 -1.5 -2 -3.5 -4 -14 -1.5 -18 0 -8 1.5 -10 5.5 -32 1 -6 1.5 -1.5 2 -0.5 1.5 2 0.5 2 4.5 22 2.5 16 1 12 -0.5 14 -1.5 10 -4 13 -2 3z"/>
<path fill="#bd0000" d="M1392 229l-2 -0.5 -1.5 -1 -5.5 -22 -5.5 -26 -1 -18 1 -10 2.5 -6 3.5 -4 2.5 -2 2 -1 4 -0.5 4 1 2 1.5 4 4.5 2.5 6.5 1.5 10 -1 16 -2 12 -8.5 36 -1 2 -1.5 1.5zM1392 330.5l-2 0 -2 -2 -4 -9 -2 -8 -1 -16 0 -8 1.5 -12 5 -28 1 -6 1.5 -1.5 2 -0.5 1.5 2 0.5 2 4.5 24 2.5 16 0.5 12 -1 14 -1.5 8 -1 3.5 -3 6.5 -1 1.5 -2 1.5z"/>
<path fill="#c30500" d="M1392 229l-2 -0.5 -1.5 -1 -5.5 -22 -5 -26 -0.5 -16 0.5 -8 3 -8 2.5 -4 2.5 -2 4 -1.5 2 0 4 1.5 2 1.5 4 5 2.5 7.5 0.5 8 -0.5 14 -2 12 -3.5 18 -5 18 -0.5 2 -1.5 1.5zM1392 326l-2 0 -2 -2 -2 -2.5 -2 -5 -1.5 -9 -1 -14 1.5 -20 4.5 -26 1.5 -6 1 -1.5 2 -0.5 1.5 2 0.5 2 3.5 18 2.5 18 1 14 -1 14 -1.5 8 -2.5 6.5 -2 2.5 -2 1.5z"/>
<path fill="#cb0f00" d="M1392 228.5l-2 0 -1 -1 -4.5 -16 -5 -26 -1 -8 0 -6 0.5 -12 1 -4.5 2 -5 4 -5 4 -1.5 2 0 4 1.5 2 1.5 3 5 2.5 8 0.5 12 -1 12 -4 22 -5.5 22 -1.5 1zM1394 320l-2 1.5 -2 -0.5 -2 -1 -2 -3 -2 -7.5 -2 -16 1 -18 4.5 -26 1.5 -8 1 -1.5 2 0 1.5 1.5 3.5 18 2 16 1.5 14 -0.5 10 -1.5 10 -2.5 8 -2 2.5z"/>
<path fill="#d21a00" d="M1392 228.5l-2 0 -1 -1 -4 -16 -4.5 -22 -1.5 -14 1 -14 2 -6.5 2 -4 2 -2.5 2 -1 4 -1 2 0.5 3 2.5 3.5 6 2 6 0.5 14 -0.5 10 -3.5 20 -5.5 22 -1.5 1zM1394 316l-2 1.5 -2 0 -2 -2 -2 -3.5 -2.5 -10.5 -1 -10 1.5 -20 4.5 -28 0.5 -2 1 -1.5 2 0 1.5 1.5 3 18 2.5 16 1 14 -0.5 8 -1.5 8.5 -2 7 -2 3z"/>
<path fill="#da2400" d="M1392 228.5l-2 0 -1 -1 -4 -16 -3.5 -20 -1.5 -14 1 -14 2 -6 2 -4 2 -2 3 -1.5 2 0 2 0.5 2 1.5 2 2.5 2 4.5 2 10.5 0.5 8 -1.5 14 -3.5 20 -4 16 -1.5 1zM1394 312l-2 1.5 -2 0 -2 -2 -2 -4.5 -1.5 -5.5 -1 -10 0.5 -16 3.5 -26 1.5 -8 1 -1 2 -0.5 1.5 1.5 0.5 2 2.5 16 2 16 0.5 12 0 6 -1 7.5 -2 7 -2 4z"/>
<path fill="#e22e00" d="M1392 228.5l-2 0 -1 -1 -3.5 -16 -3.5 -20 -1.5 -14 1 -8 1 -6 1.5 -4 2 -3.5 2 -2 2 -0.5 2 -0.5 2 1 2 1.5 2.5 4 1.5 4 1 6 0.5 8 -1 14 -3 18 -4 18 -1.5 1zM1392 309.5l-2 0 -1.5 -2 -2.5 -5 -1.5 -7 -0.5 -8 1 -20 3.5 -24 0.5 -2 1 -1 2 -0.5 1 1.5 0.5 2 3 18 1.5 14 0.5 12 -0.5 8 -1.5 6 -2.5 6.5 -2 1.5z"/>
<path fill="#e93800" d="M1392 228.5l-2 0 -1 -1 -3.5 -16 -3 -20 -1 -14 1 -8 2.5 -8 3 -4 2 -1 2 0 2 0.5 2 2 2 3.5 2 7 1 8 -1 12 -2.5 18 -4 18 -0.5 2 -1 1zM1392 305.5l-2 0 -2 -2.5 -1.5 -3.5 -1.5 -6 -0.5 -8 1 -18 3.5 -24 0 -2 1 -1 2 -0.5 1 1.5 0.5 2 2.5 18 1.5 14 0.5 10 -0.5 6 -1.5 8 -2 4.5 -2 1.5z"/>
<path fill="#f14200" d="M1392 228.5l-2 -0.5 -0.5 -0.5 -4 -16 -2.5 -18 -1 -14 1 -8 3 -8 2 -2.5 2 -1.5 2 0 2 1 2 2 2 4.5 2 6.5 0.5 6 -1 12 -2.5 18 -3.5 16 -0.5 2 -1 1zM1392 302.5l-2 -0.5 -2 -2 -1 -2.5 -1.5 -6 -0.5 -8 1 -18 3 -22 0.5 -2 0.5 -1 2 0 1 1 0.5 2 2.5 18 1.5 22 -0.5 6 -1 6.5 -2 4.5 -2 2z"/>
<path fill="#f94d00" d="M1392 228.5l-2 -0.5 -0.5 -0.5 -3.5 -16 -2.5 -18 -0.5 -14 1 -7.5 2 -5 2 -3 2 -1.5 2 0 2 1 2 2.5 1.5 3.5 1.5 6 0.5 4 -0.5 12 -2 16 -3.5 18 -0.5 2 -1 1zM1392 299.5l-2 0 -2 -2.5 -1 -3.5 -1 -4 -0.5 -10 1 -14 2.5 -22 1 -3 2 0 1 1 1.5 10 2 16 0.5 12 -1 12.5 -2 5.5 -2 2z"/>
<path fill="#ff5700" d="M1392 228l-2 0 -0.5 -0.5 -3.5 -16 -2 -16 -0.5 -12 0.5 -8 2 -5.5 2 -3 2 -1.5 2 0 2 1 2 2.5 1 2.5 1.5 6 0.5 6 -0.5 12 -2 14 -3 16 -0.5 2 -1 0.5zM1392 296.5l-2 0 -2 -3 -1.5 -6 -0.5 -10 0.5 -14 2.5 -20 1 -2.5 2 -0.5 1 1 1.5 10 1.5 16 0.5 10 -1 12 -1.5 5 -2 2z"/>
<path fill="#ff6100" d="M1392 228l-2.5 -0.5 -3 -16 -2 -14 -0.5 -12 0.5 -8 1.5 -5 2 -3 2 -1.5 2 0 2 1 2.5 4.5 1.5 4 0.5 8 -0.5 10 -2 16 -2.5 14 -0.5 2 -1 0.5zM1392 294l-2 -0.5 -2 -3.5 -1 -6.5 -0.5 -8 0.5 -14 2 -18 1 -2.5 2 -0.5 1 1 1.5 10 1.5 24 -0.5 8 -1 6 -0.5 2 -2 2.5z"/>
<path fill="#ff6b00" d="M1392 228l-2.5 -0.5 -2 -10 -2 -14 -1 -16 0.5 -8 1 -4 2 -3.5 2 -1.5 2 0 2 1 2.5 4 0.5 4 0.5 8 -1.5 22 -2.5 16 -1 2 -0.5 0.5zM1392 291l-2 -0.5 -2 -4.5 -1 -12.5 0.5 -14 1.5 -16 1 -2.5 2 -0.5 0.5 1 1.5 10 1.5 22 -1 12 -0.5 2 -2 3.5z"/>
<path fill="#ff7500" d="M1392 228l-2 0 -1 -2.5 -3 -18 -0.5 -16 0 -8 1 -6 1.5 -3 1 -1 1 -0.5 2 -0.5 2 1.5 2 3.5 1 6 0 8 -1.5 20 -2.5 14 -0.5 2 -0.5 0.5zM1392 287.5l-2 -0.5 -2 -5.5 -0.5 -12 0.5 -12 1.5 -14 0.5 -2.5 2 0 1 2.5 1 8.5 1 17.5 -1 13.5 -2 4.5z"/>
<path fill="#ff8000" d="M1392 228l-2 -0.5 -1 -2 -2.5 -16 -1 -16 0.5 -8 1.5 -8 2.5 -2.5 2 0 2.5 2.5 1 4 1 12 -1 18 -2.5 14 -1 2.5zM1392 284l-2 -0.5 -1 -4 -1 -5 0 -7 1.5 -24 0.5 -2.5 2 0 1 2.5 1 10 0.5 14 -0.5 10.5 -2 6z"/>
<path fill="#ff8a14" d="M1392 228l-2 -0.5 -0.5 -2 -2.5 -14 -1 -16 0.5 -8 1.5 -7 2 -3 2 -0.5 2 2.5 1 4 1 6 0 6 -0.5 16 -2.5 14 -1 2.5zM1392 280.5l-2 -1 -1.5 -6 -0.5 -8 1.5 -22 0.5 -2 2 -0.5 1 2.5 0.5 10 0.5 12 0 8 -2 7z"/>
<path fill="#ff9429" d="M1392 228l-2 -0.5 -0.5 -2 -2 -14 -1 -14 1.5 -13 2 -4 2 -0.5 2 3.5 0.5 2 1 12 -0.5 14 -2 14 -1 2.5zM1392 277l-2 -1 -1 -6.5 -0.5 -6 1 -20 0.5 -2 2 -0.5 0.5 2.5 1.5 20 -0.5 8 -1.5 5.5z"/>
<path fill="#ff9e3d" d="M1392 227.5l-2 0 -0.5 -2 -2 -14 -0.5 -8 1 -14.5 2 -5 2 -0.5 2 3.5 0.5 2.5 1 12 -0.5 10 -2 14 -1 2zM1392 273.5l-2 -1 -1 -13 0.5 -16 0.5 -2 2 -0.5 0.5 2.5 1 16 -0.5 8 -1 6z"/>
<path fill="#ffa852" d="M1392 227.5l-2 -0.5 -0.5 -1.5 -2 -14 0 -8 1 -12 1.5 -4.5 2 -0.5 2 5 1 12 -1 12 -1 10 -1 2zM1392 269.5l-2 -1 -0.5 -11 0.5 -14 0.5 -2 1.5 0 0.5 2 0.5 14 -1 12z"/>
<path fill="#ffb266" d="M1392 227.5l-2 -0.5 -0.5 -1.5 -1.5 -14 0 -6 0 -6 1 -6 1 -3 2 -0.5 2 6 0.5 9.5 -0.5 10 -2 12zM1392 266l-2 -1.5 -0.5 -11 0.5 -11 2 -1 1 12 -1 12.5z"/>
<path fill="#ffbd7a" d="M1392 227.5l-2 -1 -0.5 -1 -1.5 -18 1.5 -12 0.5 -2 2 -0.5 2 8 0.5 6.5 -0.5 6.5 -2 13.5zM1392 262l-2 -2 -0.5 -8.5 0.5 -8.5 2 -1.5 0.5 10 -0.5 10.5z"/>
<path fill="#ffc78f" d="M1392 227l-2 -1 0 -0.5 -1.5 -16 0.5 -6 1 -6.5 2 -0.5 1.5 7 0.5 6 -2 17.5zM1392 258l-2 -3.5 0 -5 0.5 -6 1.5 -1.5 0.5 7.5 -0.5 8.5z"/>
<path fill="#ffd1a3" d="M1392 227l-2 -1.5 -1 -14 0 -6 1 -5.5 2 -0.5 1.5 6 0 6 -1.5 15.5zM1392 254.5l-1 -3 -0.5 -4 0.5 -4 1 -1 0 12z"/>
<path fill="#ffdbb8" d="M1392 226.5l-2 -1 -1 -14 1 -8.5 2 -1 1.5 9.5 -1.5 15zM1392 250l-0.5 -4.5 0.5 -2.5 0 7z"/>
<path fill="#ffe5cc" d="M1392 226.5l-1.5 -1 -0.5 -1.5 -0.5 -12.5 0.5 -6 2 -1 1 7 -1 15z"/>
<path fill="#fff0e0" d="M1392 226l-1 -0.5 -1 -3.5 -0.5 -10.5 0.5 -3 2 -1.5 0.5 4.5 -0.5 14.5z"/>
<path fill="#fffaf5" d="M1392 225.5l-1.5 -6 -0.5 -6 0 -2 2 -2 0 16z"/></g></g><clipPath id="aC"><rect x="1278" y="7.5" width="226.4" height="452.7"/></clipPath><path clip-path="url(#aC)" fill="#000" fill-opacity="0.75" d="M1328.5 70L1322.4 68.7L1323.4 67.4L1316.1 68.3L1322.4 72.1L1322 70.5L1328.1 71.8zM1354.4 70.8L1354 64.6L1355.5 65.2L1352.6 58.4L1350.7 65.6L1352.1 64.8L1352.5 71zM1379.6 70.9L1379.6 64.7L1381 65.4L1378.6 58.4L1376.2 65.4L1377.7 64.7L1377.7 70.9zM1404.7 70.9L1404.7 64.7L1406.2 65.4L1403.8 58.4L1401.4 65.4L1402.8 64.7L1402.8 70.9zM1429.9 71L1430.3 64.8L1431.7 65.6L1429.8 58.4L1426.9 65.2L1428.4 64.6L1428 70.8zM1454.3 71.8L1460.4 70.5L1460 72.1L1466.3 68.3L1459 67.4L1460 68.7L1453.9 70zM1328.5 95.1L1322.3 94.2L1323.2 92.8L1316 94.1L1322.5 97.6L1322 96L1328.2 97zM1354.4 96L1354.4 89.8L1355.8 90.5L1353.4 83.5L1351 90.6L1352.5 89.9L1352.5 96.1zM1379.6 96L1379.6 89.8L1381 90.5L1378.6 83.5L1376.2 90.5L1377.7 89.8L1377.7 96zM1404.7 96L1404.7 89.8L1406.2 90.5L1403.8 83.5L1401.4 90.5L1402.8 89.8L1402.8 96zM1429.9 96.1L1429.9 89.9L1431.4 90.6L1429 83.5L1426.6 90.5L1428 89.8L1428 96zM1454.2 97L1460.4 96L1459.9 97.6L1466.4 94.1L1459.2 92.8L1460.1 94.2L1453.9 95.1zM1303.3 120.3L1297.1 119.6L1297.9 118.3L1290.7 120L1297.4 123L1296.9 121.5L1303.1 122.1zM1328.4 120.3L1322.2 119.6L1323.1 118.3L1315.9 120L1322.6 123L1322 121.5L1328.2 122.1zM1354.4 121.2L1354.4 115L1355.9 115.7L1353.5 108.7L1351.1 115.7L1352.5 115L1352.5 121.2zM1379.6 121.2L1379.6 115L1381 115.7L1378.6 108.7L1376.2 115.7L1377.7 115L1377.7 121.2zM1404.7 121.2L1404.7 115L1406.2 115.7L1403.8 108.7L1401.4 115.7L1402.8 115L1402.8 121.2zM1429.9 121.2L1429.9 115L1431.3 115.7L1428.9 108.7L1426.5 115.7L1428 115L1428 121.2zM1454.2 122.1L1460.4 121.5L1459.8 123L1466.5 120L1459.3 118.3L1460.2 119.6L1454 120.3zM1479.3 122.1L1485.5 121.5L1485 123L1491.7 120L1484.5 118.3L1485.3 119.6L1479.1 120.3zM1303.2 145.4L1297 145.1L1297.8 143.7L1290.7 145.8L1297.6 148.5L1296.9 147L1303.1 147.3zM1328.4 145.4L1322.2 145.1L1322.9 143.7L1315.8 145.8L1322.7 148.5L1322.1 147L1328.3 147.3zM1354.4 146.5L1355 140.3L1356.4 141.1L1354.7 133.9L1351.6 140.6L1353.1 140.1L1352.5 146.3zM1379.6 146.4L1379.6 140.2L1381 140.9L1378.6 133.9L1376.2 140.9L1377.7 140.2L1377.7 146.4zM1404.7 146.4L1404.7 140.2L1406.2 140.9L1403.8 133.9L1401.4 140.9L1402.8 140.2L1402.8 146.4zM1429.9 146.3L1429.3 140.1L1430.8 140.6L1427.7 133.9L1426 141.1L1427.4 140.3L1428 146.5zM1454.1 147.3L1460.3 147L1459.7 148.5L1466.6 145.8L1459.5 143.7L1460.2 145.1L1454 145.4zM1479.3 147.3L1485.5 147L1484.8 148.5L1491.7 145.8L1484.6 143.7L1485.4 145.1L1479.2 145.4zM1303.1 170.6L1296.9 170.6L1297.6 169.2L1290.7 171.6L1297.7 174L1297 172.5L1303.2 172.5zM1328.3 170.6L1322.1 170.6L1322.8 169.2L1315.8 171.6L1322.8 174L1322.1 172.5L1328.3 172.5zM1354.4 171.7L1355.6 165.6L1356.9 166.6L1355.9 159.3L1352.2 165.6L1353.8 165.2L1352.5 171.3zM1379.6 171.5L1379.6 165.3L1381 166L1378.6 159L1376.2 166L1377.7 165.3L1377.7 171.5zM1404.7 171.5L1404.7 165.3L1406.2 166L1403.8 159L1401.4 166L1402.8 165.3L1402.8 171.5zM1429.9 171.3L1428.6 165.2L1430.2 165.6L1426.5 159.3L1425.5 166.6L1426.8 165.6L1428 171.7zM1454.1 172.5L1460.3 172.5L1459.6 174L1466.6 171.6L1459.6 169.2L1460.3 170.6L1454.1 170.6zM1479.2 172.5L1485.4 172.5L1484.7 174L1491.7 171.6L1484.8 169.2L1485.5 170.6L1479.3 170.6zM1328.5 197.6L1334.6 196.7L1334.1 198.2L1340.7 194.8L1333.4 193.5L1334.3 194.8L1328.2 195.7zM1354.4 196.9L1356.2 191L1357.3 192.1L1357.1 184.7L1352.7 190.7L1354.3 190.5L1352.6 196.4zM1379.6 196.7L1379.7 190.5L1381.1 191.2L1378.8 184.2L1376.3 191.1L1377.8 190.5L1377.7 196.7zM1404.7 196.7L1404.6 190.5L1406.1 191.1L1403.6 184.2L1401.3 191.2L1402.7 190.5L1402.8 196.7zM1429.8 196.4L1428.1 190.5L1429.7 190.7L1425.3 184.7L1425.1 192.1L1426.2 191L1428 196.9zM1454.2 195.7L1448.1 194.8L1449 193.5L1441.7 194.8L1448.3 198.2L1447.8 196.7L1453.9 197.6zM1379.6 221.8L1379.7 215.6L1381.2 216.4L1378.9 209.3L1376.4 216.3L1377.8 215.6L1377.7 221.8zM1404.7 221.8L1404.6 215.6L1406 216.3L1403.5 209.3L1401.2 216.4L1402.7 215.6L1402.8 221.8zM1303.2 273.1L1309.4 272.8L1308.8 274.3L1315.6 271.5L1308.5 269.5L1309.3 270.9L1303.1 271.2zM1328.4 273.1L1334.6 272.8L1333.9 274.3L1340.8 271.5L1333.7 269.5L1334.5 270.9L1328.3 271.2zM1353.6 273.1L1359.7 272.2L1359.3 273.7L1365.8 270.3L1358.5 268.9L1359.5 270.3L1353.3 271.2zM1379.6 272.1L1379.6 265.9L1381 266.6L1378.6 259.6L1376.2 266.6L1377.7 265.9L1377.7 272.1zM1404.7 272.1L1404.7 265.9L1406.2 266.6L1403.8 259.6L1401.4 266.6L1402.8 265.9L1402.8 272.1zM1429.1 271.2L1422.9 270.3L1423.9 268.9L1416.6 270.3L1423.1 273.7L1422.7 272.2L1428.8 273.1zM1454.1 271.2L1447.9 270.9L1448.7 269.5L1441.6 271.5L1448.5 274.3L1447.8 272.8L1454 273.1zM1479.3 271.2L1473.1 270.9L1473.9 269.5L1466.8 271.5L1473.6 274.3L1473 272.8L1479.2 273.1zM1303.2 298.2L1309.4 297.9L1308.8 299.4L1315.6 296.7L1308.5 294.6L1309.3 296L1303.1 296.3zM1328.4 298.2L1334.6 297.9L1333.9 299.4L1340.8 296.7L1333.7 294.6L1334.5 296L1328.3 296.3zM1353.6 298.2L1359.7 297.3L1359.3 298.8L1365.8 295.4L1358.5 294.1L1359.5 295.4L1353.3 296.3zM1379.6 297.3L1379.6 291.1L1381 291.8L1378.6 284.8L1376.2 291.8L1377.7 291.1L1377.7 297.3zM1404.7 297.3L1404.7 291.1L1406.2 291.8L1403.8 284.8L1401.4 291.8L1402.8 291.1L1402.8 297.3zM1429.1 296.3L1422.9 295.4L1423.9 294.1L1416.6 295.4L1423.1 298.8L1422.7 297.3L1428.8 298.2zM1454.1 296.3L1447.9 296L1448.7 294.6L1441.6 296.7L1448.5 299.4L1447.8 297.9L1454 298.2zM1479.3 296.3L1473.1 296L1473.9 294.6L1466.8 296.7L1473.6 299.4L1473 297.9L1479.2 298.2zM1303.2 323.4L1309.4 323.1L1308.8 324.6L1315.6 321.8L1308.5 319.8L1309.3 321.2L1303.1 321.5zM1328.4 323.4L1334.6 323.1L1333.9 324.6L1340.8 321.8L1333.7 319.8L1334.5 321.2L1328.3 321.5zM1353.6 323.4L1359.7 322.5L1359.3 324L1365.8 320.6L1358.5 319.3L1359.5 320.6L1353.3 321.5zM1379.6 322.4L1379.6 316.2L1381 316.9L1378.6 309.9L1376.2 316.9L1377.7 316.2L1377.7 322.4zM1404.7 322.4L1404.7 316.2L1406.2 316.9L1403.8 309.9L1401.4 316.9L1402.8 316.2L1402.8 322.4zM1429.1 321.5L1422.9 320.6L1423.9 319.3L1416.6 320.6L1423.1 324L1422.7 322.5L1428.8 323.4zM1454.1 321.5L1447.9 321.2L1448.7 319.8L1441.6 321.8L1448.5 324.6L1447.8 323.1L1454 323.4zM1479.3 321.5L1473.1 321.2L1473.9 319.8L1466.8 321.8L1473.6 324.6L1473 323.1L1479.2 323.4zM1303.2 348.5L1309.4 348.2L1308.8 349.7L1315.6 347L1308.5 344.9L1309.3 346.3L1303.1 346.7zM1328.4 348.5L1334.6 348.2L1333.9 349.7L1340.8 347L1333.7 344.9L1334.5 346.3L1328.3 346.7zM1353.7 348.5L1359.7 347.1L1359.4 348.7L1365.6 344.7L1358.3 344L1359.3 345.2L1353.2 346.7zM1379.6 347.6L1379.6 341.4L1381 342.1L1378.6 335.1L1376.2 342.1L1377.7 341.4L1377.7 347.6zM1404.7 347.6L1404.7 341.4L1406.2 342.1L1403.8 335.1L1401.4 342.1L1402.8 341.4L1402.8 347.6zM1429.2 346.7L1423.1 345.2L1424.1 344L1416.8 344.7L1423 348.7L1422.7 347.1L1428.7 348.5zM1454.1 346.7L1447.9 346.3L1448.7 344.9L1441.6 347L1448.5 349.7L1447.8 348.2L1454 348.5zM1479.3 346.7L1473.1 346.3L1473.9 344.9L1466.8 347L1473.6 349.7L1473 348.2L1479.2 348.5zM1303.2 373.7L1309.4 373.4L1308.8 374.9L1315.6 372.1L1308.5 370.1L1309.3 371.5L1303.1 371.8zM1328.4 373.7L1334.6 373.4L1333.9 374.9L1340.8 372.1L1333.7 370.1L1334.5 371.5L1328.3 371.8zM1353.8 373.6L1359.5 371.1L1359.5 372.7L1364.9 367.7L1357.5 368.3L1358.8 369.4L1353.1 371.9zM1379.6 372.8L1379.6 366.6L1381 367.3L1378.6 360.3L1376.2 367.3L1377.7 366.6L1377.7 372.8zM1404.7 372.8L1404.7 366.6L1406.2 367.3L1403.8 360.3L1401.4 367.3L1402.8 366.6L1402.8 372.8zM1429.3 371.9L1423.6 369.4L1424.9 368.3L1417.5 367.7L1422.9 372.7L1422.9 371.1L1428.6 373.6zM1454.1 371.8L1447.9 371.5L1448.7 370.1L1441.6 372.1L1448.5 374.9L1447.8 373.4L1454 373.7zM1479.3 371.8L1473.1 371.5L1473.9 370.1L1466.8 372.1L1473.6 374.9L1473 373.4L1479.2 373.7zM1303.2 398.9L1309.4 398.6L1308.8 400L1315.6 397.3L1308.5 395.2L1309.3 396.7L1303.1 397zM1328.4 398.9L1334.6 398.6L1333.9 400L1340.8 397.3L1333.7 395.2L1334.5 396.7L1328.3 397zM1354 398.7L1359.2 395.4L1359.4 397L1364 391.2L1356.8 392.9L1358.2 393.8L1353 397.1zM1379.6 397.9L1379.6 391.7L1381 392.4L1378.6 385.4L1376.2 392.4L1377.7 391.7L1377.7 397.9zM1404.7 397.9L1404.7 391.7L1406.2 392.4L1403.8 385.4L1401.4 392.4L1402.8 391.7L1402.8 397.9zM1429.4 397.1L1424.2 393.8L1425.6 392.9L1418.4 391.2L1423 397L1423.2 395.4L1428.4 398.7zM1454.1 397L1447.9 396.7L1448.7 395.2L1441.6 397.3L1448.5 400L1447.8 398.6L1454 398.9zM1479.3 397L1473.1 396.7L1473.9 395.2L1466.8 397.3L1473.6 400L1473 398.6L1479.2 398.9zM1303.2 424L1309.4 423.7L1308.8 425.2L1315.6 422.4L1308.5 420.4L1309.3 421.8L1303.1 422.1zM1328.4 424L1334.6 423.7L1333.9 425.2L1340.8 422.4L1333.7 420.4L1334.5 421.8L1328.3 422.1zM1354.1 423.8L1358.8 419.8L1359.2 421.4L1363 415L1356.1 417.7L1357.6 418.4L1352.9 422.3zM1379.6 423.1L1379.6 416.9L1381 417.6L1378.6 410.6L1376.2 417.6L1377.7 416.9L1377.7 423.1zM1404.7 423.1L1404.7 416.9L1406.2 417.6L1403.8 410.6L1401.4 417.6L1402.8 416.9L1402.8 423.1zM1429.5 422.3L1424.8 418.4L1426.3 417.7L1419.4 415L1423.2 421.4L1423.6 419.8L1428.3 423.8zM1454.1 422.1L1447.9 421.8L1448.7 420.4L1441.6 422.4L1448.5 425.2L1447.8 423.7L1454 424zM1479.3 422.1L1473.1 421.8L1473.9 420.4L1466.8 422.4L1473.6 425.2L1473 423.7L1479.2 424zM1303.2 449.2L1309.4 448.9L1308.8 450.3L1315.6 447.6L1308.5 445.6L1309.3 447L1303.1 447.3zM1328.4 449.2L1334.6 448.9L1333.9 450.3L1340.8 447.6L1333.7 445.6L1334.5 447L1328.3 447.3zM1354.2 448.9L1358.4 444.4L1359 445.9L1362.1 439.2L1355.5 442.6L1357.1 443.1L1352.8 447.6zM1379.6 448.2L1379.6 442L1381 442.7L1378.6 435.7L1376.2 442.7L1377.7 442L1377.7 448.2zM1404.7 448.2L1404.7 442L1406.2 442.7L1403.8 435.7L1401.4 442.7L1402.8 442L1402.8 448.2zM1429.6 447.6L1425.3 443.1L1426.9 442.6L1420.3 439.2L1423.4 445.9L1424 444.4L1428.2 448.9zM1454.1 447.3L1447.9 447L1448.7 445.6L1441.6 447.6L1448.5 450.3L1447.8 448.9L1454 449.2zM1479.3 447.3L1473.1 447L1473.9 445.6L1466.8 447.6L1473.6 450.3L1473 448.9L1479.2 449.2z"/><circle cx="1391.2" cy="234.4" r="2.6" fill="#000"/>
<clipPath id="hD"><rect x="810.9" y="476" width="449" height="224.6"/></clipPath><filter id="hDf" x="-5%" y="-5%" width="110%" height="110%" color-interpolation-filters="sRGB"><feGaussianBlur stdDeviation="1.5"/></filter><g clip-path="url(#hD)"><g fill-rule="evenodd" filter="url(#hDf)"><rect x="802.9" y="468" width="466" height="242" fill="#000000"/>
<path fill="#070000" d="M1079 710l-111 0 -11 -4.5 -10 -4.5 -10 -6.5 -8 -6.5 -9.5 -10 -14.5 -21 -2 -4 -2.5 -7 -5 -24 -1.5 -12 -1 -16 0.5 -18 1 -16 1.5 -8 5 -20.5 2 -5.5 4 -4.5 6 -4.5 10 -3 3 -2 10 -12 7 -6.5 10 -7.5 12 -7 16 -6.5 17 -4.5 63.5 0 17.5 4.5 14 5.5 12 7 15.5 11 20.5 3 8 2.5 16 6.5 12 2 10 5.5 4 4.5 2 3.5 3 10.5 5.5 32 1 12 0 12 -1 20 -4 26 -3 12 -3.5 8.5 -2 3 -4 3 -6 3.5 -4 1.5 -8 0 -8 -1.5 -4 -0.5 -10 2.5 -11.5 4 -10.5 13 -5.5 5 -6.5 5 -8 5 -8 4 -12 5 -4 1zM1015 568l-1 -2 -3 -2.5 -2 -1 -2 1.5 6 4 2 0.5 0 -0.5zM1049 602l-4 -2.5 -4 -4 -2 0.5 -2.5 2 1.5 2 4.5 2 4.5 1 2 -0.5 0 -0.5z"/>
<path fill="#0c0000" d="M1031 706l-18 0 -18 -2.5 -16 -4.5 -16 -6.5 -8 -5 -7.5 -5.5 -6 -6 -7.5 -10 -6 -6 -5 -4.5 -10 -6 -7.5 -7.5 -3 -6 -2.5 -10 -2.5 -20 -1 -20 1 -18 3 -20 2.5 -8 4 -6.5 6 -6 10.5 -5.5 13.5 -9 12.5 -7 15.5 -11.5 10 -6 10 -4 12 -4 12 -2.5 14 -1.5 12 0 10 1 10 1.5 10 2 10 3.5 10 4.5 8 4.5 12 8 6 1 18 -0.5 8 0.5 6 1.5 6 2 8 3.5 14 7 6 4 10 9.5 2.5 4 2 4 4 14 2.5 20 0.5 10 0 12 -3 28 -3 14 -2.5 6 -3 4.5 -8 7.5 -6 3 -14 2.5 -22 5.5 -22 3 -3 2 -7 8.5 -9 7.5 -9.5 6 -11.5 5 -10 3.5 -10 2.5 -12 2 -12 1zM1017.5 572l1.5 -2 -2 -3.5 -2.5 -2.5 -3.5 -2.5 -4 -2 -2 0 -2 0.5 0 2 3.5 4 6 4 5 2zM1019.5 618l3.5 -1 4 -2.5 1.5 -2.5 2 -6 2.5 -1.5 4 -0.5 16 2 2.5 0 -1.5 -2 -9 -6 -2.5 -2 -1.5 -2 -2 -0.5 -4.5 0.5 -5 2 -4.5 4 -10.5 6 -2 2 -1 2 -0.5 2 1.5 4 2.5 1.5 4.5 0.5z"/>
<path fill="#110000" d="M1041 696l-16 1.5 -16 -1 -16 -3 -14 -5 -8 -3.5 -6 -4 -13.5 -11 -16.5 -10.5 -12 -9.5 -8 -5 -3 -3 -6 -8 -3.5 -8 -2.5 -14 -1 -18 0 -20 2 -15.5 2.5 -10.5 4 -8 5 -6 2.5 -2 22 -15 8 -4 10.5 -3 7.5 -3 12 -8 8 -4 8 -3.5 10 -3.5 10 -2 12 -1 10 -0.5 10 1 10 1.5 10 2.5 8 3 8 3.5 8 4.5 8 6 4 1.5 6 0 12 -2.5 8 -0.5 10 0.5 8 1.5 8 2.5 8 4.5 15 10 5 4.5 6 7 5 8.5 3.5 12 2.5 16 0.5 20 -2.5 22 -1.5 8 -2.5 8 -3 6 -2 3.5 -6 6.5 -6 4.5 -28 9.5 -10 2.5 -6 0.5 -8 0 -14 -1.5 -4.5 0.5 -3 2 -4.5 6.5 -5 5.5 -7 5.5 -6 3.5 -8 4 -8 3 -10 2.5 -10 1.5zM1021 574l0.5 -2 -0.5 -2 -3 -4 -4 -4 -7 -4 -4 -0.5 -2 0.5 -0.5 2 0.5 2 3.5 4 10 6 4.5 2 2 0zM1061 566l1 -2 -0.5 -2 -2.5 -1 -2 1 -0.5 2 1 2 1.5 0.5 2 -0.5zM1026 620l5 -3.5 5 -6.5 3 -2 6 0 14 1 2 -1 -2 -2 -14 -8.5 -6 -6 -8 0.5 -0.5 2 -3.5 3.5 -14.5 8.5 -2.5 2 -1.5 2 0 2 0.5 4 2 3 2 1.5 6 1 7 -1.5z"/>
<path fill="#160000" d="M1043 688l-14 1.5 -14 0 -14 -2.5 -12 -3.5 -12 -5.5 -14 -10 -4 -2 -12 -3.5 -10 -5 -6 -4 -10 -8 -8 -7 -6 -9 -3.5 -9.5 -2.5 -12 -1 -18 1 -18 2 -14 3.5 -10 5 -8 6 -6 12.5 -10 7 -4.5 6 -3 10 -3 14 -2 4 -1 16 -9.5 14 -5.5 10 -2.5 12 -1.5 10 -0.5 10 1 10 2 8 2 8 3 6 3 6 4 8 6.5 4 1.5 2 0 14 -4.5 8 -2 8 -0.5 8 0 10 2 8 3 8 4 8 5.5 10 9 8 11.5 5 10 1.5 6 2 10 1 18 -1 18 -1.5 8 -2.5 10 -2.5 6.5 -3.5 5.5 -6.5 8.5 -6 4 -20 9.5 -12 3.5 -10 1.5 -10 -0.5 -10 -2 -14 -4.5 -2 0 -2.5 2 -4.5 8 -3 4 -3.5 4 -5.5 4 -6.5 4 -6.5 3 -8 3 -10 2zM1023 576l0.5 -2 -0.5 -2 -2 -4 -4 -4.5 -4 -3.5 -4 -2.5 -4 -2 -4 0 -2 2 0 2.5 1 2 3.5 4 13 8 4.5 2 2 0zM1063 568l2 -2 1 -2 0 -2 -1 -2 -2 -1.5 -2 -1 -4 0.5 -2 2 -1 2 -0.5 2 1.5 3.5 2 2 2 0 4 -1.5zM1024 624l5 -1.5 4 -2.5 10 -7.5 6 -1 14 2 1.5 -1.5 0.5 -2 -1.5 -2 -3 -2 -15.5 -8.5 -5.5 -5.5 -0.5 -2 -8 -0.5 -0.5 2.5 -1 2 -2.5 2.5 -16.5 9.5 -2 2 -1.5 2 -0.5 4 1 4 1.5 3.5 2 2 6 1 7 -0.5z"/>
<path fill="#1a0000" d="M1035 682l-8 0.5 -8 0 -8 -0.5 -8 -2 -7 -2 -7 -3 -5 -3 -11 -7.5 -16 -2 -12 -3.5 -8 -3.5 -6 -4.5 -11 -9 -6 -6 -6 -10 -4 -10 -2 -12 -1 -16 1 -16 2.5 -12 3.5 -10 6.5 -10 6 -6 10.5 -8.5 6 -4 8 -3.5 6 -2 6 -1 20 -0.5 4 -2 10.5 -6.5 9.5 -4 12 -3.5 12 -1.5 10 0 8 1 8 1.5 8 2.5 6 2.5 6.5 3.5 5.5 4 8 7 2 0.5 4 -0.5 14 -6 8 -2.5 10 -1.5 8 0 10 1.5 10 3.5 10 5.5 8 6.5 6 5.5 3.5 4.5 7.5 12 2.5 6 2 8 2.5 16 -0.5 18 -1 10 -2 8 -2 6 -2.5 6 -8 12 -4 4 -4 2.5 -16 8.5 -12 4 -12 1.5 -10 -0.5 -12 -2.5 -10 -4.5 -16 -9.5 -1.5 0.5 -0.5 10 -1 4 -3 6 -5.5 6 -6.5 5 -8 4 -10 3.5 -10 1.5zM1025.5 578l0.5 -2 -0.5 -2 -2 -4 -4.5 -6 -6 -5.5 -6 -3.5 -4 -1.5 -4 0.5 -1.5 2 -0.5 2 0.5 2 1.5 2.5 3 3.5 6 4 7.5 4 4 2 6 2zM1061.5 570l3.5 -2 2.5 -2 1 -2 0 -2 -1.5 -4 -2 -2 -2 -1 -4 0 -4 2 -2 2.5 -1 2.5 0 4 1 2 2 2.5 2 1 4.5 -1.5zM1070 626l-2.5 -16 -2.5 -2 -3 -2 -17 -9 -5 -5 -1 -4 -8 -1 -0.5 5 -3.5 4 -17.5 10 -2.5 2 -1.5 2 -0.5 2 0 6 2 5.5 2 2.5 2 1 6 1 8 -1 8 -2.5 12 -5 4 -0.5 4 0.5 4 1 12 7 1 -1.5z"/>
<path fill="#1f0000" d="M1039 674l-12 1.5 -14 -1 -8 -1.5 -8 -3.5 -6 -3.5 -8 -6.5 -4 0 -18 1 -6 -1 -6 -1 -8 -3.5 -6 -3.5 -8 -6 -10 -9 -4 -4.5 -2 -4 -5.5 -12 -2.5 -12 -1 -16 1.5 -16 2.5 -12 5 -12 6 -8 4 -4 12 -9.5 6 -4 8 -3.5 6 -1.5 8 -0.5 22 1.5 2 -0.5 12 -8 8 -3.5 10 -2.5 12 -1.5 8 0 8 1 8 2 7.5 2.5 10.5 6 5 4 7 7.5 2 0 4 -1 14 -7 10 -4 10 -2 8 -0.5 10 1 10 3.5 10 5.5 10 7.5 4 3.5 4.5 6 7.5 12.5 3 7.5 1.5 6 2 14 0 8 -0.5 10 -1 8 -2 8 -2 6 -2.5 6 -4.5 7.5 -3.5 4.5 -4.5 4.5 -8 5.5 -12 5.5 -10 3.5 -8 1.5 -8 0 -10 -1 -8 -2.5 -8 -3.5 -6 -4 -6 -4.5 -5 -5 -4.5 -6 -3.5 -6 -5 -14 -6 -4 -18 -9.5 -3 -2.5 -2.5 -4 -0.5 -3.5 -4 -1 -4 -2.5 -0.5 9 -1.5 2 -4 3.5 -16.5 8.5 -3 2 -1.5 2 -0.5 4 0 4 1 6 1.5 4 1 1.5 2 1.5 6 0.5 10 -0.5 18 -3.5 4 0 4 1 6 3.5 4.5 4 4 6 1.5 6 0 4 -1 4 -2.5 4 -3.5 4 -5 4 -4 2 -6 2.5 -6 1.5zM1029 580l-2 -6 -2 -4 -6 -7 -6 -5.5 -6 -4 -4 -1.5 -4 0 -3 2 -0.5 2 1 4 2.5 4 2 2 6 4 11.5 6 6.5 2.5 1.5 1.5 2.5 0.5 0 -0.5zM1059 572l8 -4 2.5 -2 1 -2 0.5 -4 -1.5 -4 -1.5 -2 -3 -1.5 -4 0 -4 1 -4 3.5 -2 3 -0.5 2 0 4 2.5 5 2 2 4 -1z"/>
<path fill="#240000" d="M1035 666.5l-6 1 -8 0 -6 -1 -6 -1.5 -6 -3 -3 -2 -7 -8.5 -4 0.5 -14 4.5 -8 1 -10 0 -8 -1.5 -8 -3 -6 -3.5 -14 -11.5 -4 -4 -5.5 -8 -5 -12 -2.5 -12 -0.5 -16 1 -14 3 -12 5.5 -12 6.5 -8 15.5 -12.5 6 -3.5 8 -3.5 6 -1 8 -0.5 8 1 14 3 4 -0.5 2 -0.5 8 -6 8 -4 10 -3 10 -1 8 0 8 1 8 2.5 6 2.5 6 3.5 4 3 4.5 5.5 3.5 6 2 1 4 -1 15.5 -10 10.5 -5 10 -3 10 -1 12 1.5 10 3 12 7 10 8.5 6 7 4.5 8 4.5 10 2.5 10 1.5 10 0 12 -1.5 12 -2 10 -3.5 8 -5 10 -5 6 -4 3.5 -7 4.5 -11 5.5 -10 3.5 -8 1.5 -10 0 -10 -2 -10 -3.5 -10 -6.5 -7.5 -6.5 -5 -6 -5 -8 -3.5 -10 -1.5 -2 -2.5 -2 -21 -10.5 -4 -2.5 -3.5 -5 -0.5 -5.5 -4 -2 -2 -1.5 -8.5 -13 -9.5 -10.5 -6 -4.5 -6 -3 -4 0 -3.5 2 -1 2 0 4 2 4 3.5 4 6 4 21 10.5 3.5 3.5 0 2 0 6 -3.5 3.5 -20 10.5 -2.5 2 -1.5 2 -1 4 0 4 1 14.5 1 3.5 1 1 2 0 26 -2 8 0.5 4 1.5 4 2.5 2 2.5 2 4 0.5 4 0 2 -1.5 4 -1.5 2 -3.5 3 -4 2.5 -8 3zM1055.5 574l5 -2 8 -4 2.5 -2 1 -2 1 -4 -0.5 -4 -1.5 -5 -2 -2 -4 0 -6 1.5 -4 2 -4 4.5 -1.5 5 0.5 6 1 3 2 3 2.5 0z"/>
<path fill="#290000" d="M973 654l-10 1.5 -10 -0.5 -8 -2.5 -10 -5.5 -14 -11 -5 -6 -5 -8 -4 -12 -2.5 -14 0 -14 1.5 -12 3.5 -12 4 -8 5.5 -7 12 -10.5 8 -5.5 10 -4.5 6 -1 6 -0.5 10 1 18 6 4 0.5 2 -0.5 6.5 -6 5.5 -3.5 6 -2.5 6 -1.5 8 -1 8 0 8 1.5 6 2 6 3 6 4.5 4 5.5 2 6 -0.5 4 -1 2 -2 2 -6.5 4.5 -4 3.5 -2 2.5 -2 3.5 -1 4 0.5 6 2.5 7 2 0.5 4.5 -1.5 8.5 -4 6.5 -4 2 -4 0.5 -14 0.5 -4 2.5 -4 4 -4 9 -7.5 8 -5.5 8 -4 8 -2.5 10 -1.5 8 0.5 8 1.5 10 3.5 10 6.5 8 6.5 6 7 4.5 7.5 4.5 10 2.5 8 1.5 10 0.5 10 -0.5 10 -1.5 10 -2.5 8 -4.5 10 -4 6 -4.5 5 -6 5 -6 3.5 -8 4 -10 3.5 -8 1.5 -6 0 -10 -1 -8 -2 -8 -4 -8 -5.5 -6 -5.5 -5 -6.5 -5 -8 -3.5 -8 -1.5 -2 -6.5 -4 -18.5 -9 -4 -2.5 -3.5 -4.5 0 -4 1.5 -2 -2 -2 -4 -2 -2 -2 -9 -12 -9 -10 -6 -5 -4 -2.5 -4 -1 -4 0.5 -2.5 2 -1.5 2 -0.5 2 1 4 3.5 6 4.5 4 3.5 2 22 10.5 3 3.5 0.5 6 -0.5 2 -3 3.5 -17 8.5 -6.5 4 -1.5 2 -1 2 -0.5 14 -1 6 -1.5 4 -2 4 -4 4 -5 4 -6 3.5 -8 2.5zM1027 652l-2 0.5 -4 -0.5 -1 -2 2 -2 5 0 2 2 -2 2z"/>
<path fill="#2d0000" d="M971 652.5l-10 1.5 -8 -1 -10 -3 -8 -5 -14 -11.5 -5 -5.5 -4.5 -8 -4 -12 -1.5 -12 -0.5 -14 2 -12 3.5 -12 4 -7.5 6 -7.5 12 -10 8 -5 6 -3 6 -1.5 6 -0.5 8 0.5 6 1.5 6 2 20 10.5 2 -1 3.5 -6.5 4 -4 4.5 -2.5 6 -2.5 6 -1 8 -0.5 8 1.5 6 2 5 3 3 2.5 2.5 3.5 1.5 4 -0.5 4 -0.5 2 -7 9.5 -2 3.5 -1.5 5 -0.5 6 1.5 10 2.5 0.5 2.5 -0.5 9.5 -4 8 -4 2.5 -2 2 -4 2 -12 2 -6 4.5 -6 6 -6 7 -5.5 6 -3.5 7 -3 7 -2 10 -1 8 0.5 8 2 8 3 8 5 8 6.5 7 8 5 8 3.5 8 3 10 1 8 0.5 10 -0.5 10 -1.5 8 -2.5 8 -4 10 -3.5 6 -5.5 6 -4.5 3.5 -8 5 -8 4 -8 2.5 -8 1.5 -8 0.5 -8 -1.5 -8 -2 -8 -4 -8 -6 -5.5 -5.5 -4.5 -5.5 -4 -6.5 -4 -8 -1.5 -2 -7 -4 -19.5 -9 -4 -2.5 -3 -4.5 -0.5 -2 0.5 -2 2 -4 -1 -1.5 -4 -1.5 -4 -3.5 -16 -19 -10 -10.5 -4 -3 -2 -1 -2 0.5 -2 1 -4 5 -1.5 3.5 0.5 4 3 6 3.5 4 5.5 4 23 11 3 3 0.5 2 0 4 -0.5 2 -3 3.5 -18 8.5 -6.5 4 -1.5 2 -1 2 -1 12 -1.5 6 -1.5 4 -2.5 4 -4.5 5 -6 4.5 -6 3 -6 2z"/>
<path fill="#320000" d="M1137 648l-10 1 -8 -0.5 -10 -3 -8 -4 -7.5 -5.5 -5.5 -6 -5 -6.5 -6.5 -11.5 -2 -2 -7 -4 -22.5 -10.5 -4 -3.5 -1 -2 -0.5 -2 0.5 -2 1 -2 6 -5.5 2.5 -0.5 14.5 -6 8 -4 2.5 -2 2.5 -4 2 -10 2 -6 5.5 -8 6.5 -6 6 -4.5 8 -4.5 6 -2 8 -2 6 -0.5 6 0.5 10 2 10.5 5 11.5 8.5 8 8.5 5.5 9 4 12 2.5 12 0.5 14 -1.5 12 -4.5 14 -4.5 9 -6 7 -8 6.5 -12 6 -12 3.5zM961 652l-10 -1 -10 -4 -10 -7 -11.5 -10 -5.5 -8 -3.5 -8 -3 -12 -1 -12 0.5 -12 2.5 -12 4 -10 5 -8 10.5 -10 10 -7.5 10 -4 10 -2 8 1 8 2 8 4 6 4.5 3 4 0.5 2 -2.5 8 0.5 4 2 6 3 4 4.5 4 3 2 24 11.5 2.5 2.5 1 2 0 2 -0.5 4 -3 3 -22.5 11 -3 2 -1.5 2 -1.5 4 -1 10 -2 6 -3.5 6 -5 5.5 -6 4.5 -6 3 -6 2 -8 1zM1043 578.5l-4 -0.5 -2 -1 -4 -3 -13.5 -16 -7 -10 -2 -6 0.5 -4 2.5 -4 5.5 -4.5 4 -1.5 4 -1 4 -0.5 6 1 8 3 4 3 2 2.5 1 2 0.5 4 -1.5 4 -3.5 8 -1.5 6 0 4 0.5 10 -0.5 2 -1 1.5 -2 1z"/>
<path fill="#370000" d="M1139 646l-10 1.5 -8 -0.5 -10 -2.5 -8 -4 -6.5 -4.5 -6.5 -6 -5 -6.5 -5.5 -9.5 -4 -4 -7 -4 -23.5 -10.5 -3.5 -3.5 -1.5 -4 1.5 -4 3.5 -3.5 24.5 -10.5 6 -4 3 -4 2 -10 2.5 -6 4.5 -6 7.5 -7.5 6 -4.5 6 -3 6 -2.5 8 -2 6 0 6 0 10 2.5 10 4.5 10 7 8 8.5 5.5 9 4 10 3 12 1 12 -1 12 -4 14 -4.5 10 -6 8 -6 5 -12 7 -12 4zM963 650l-10 -0.5 -10 -3 -10 -6.5 -12 -10.5 -5.5 -7.5 -3.5 -8 -3 -10 -1.5 -14 0.5 -10 2 -12 3.5 -10 5 -8 2.5 -2.5 8 -7.5 10 -7.5 10 -4.5 10 -1.5 8 0.5 6 2 6.5 3 5.5 4 2 2 2 4 -0.5 8 1.5 6 2 4 2.5 4 4.5 4 3 2 25 11.5 2.5 2.5 1 2 0 2 -1 4 -2.5 3 -23.5 11 -3 2 -1.5 2 -1.5 4 -1 8 -2 6 -3 6 -5.5 6 -5 4 -6 3 -6 2 -6 1zM1041 576l-2 0 -4 -2 -6 -6 -8 -10 -2.5 -4 -1.5 -4 -0.5 -4 1.5 -4 4 -4 5 -2.5 6 -1 6 1 5 2.5 3 4 0.5 4 -2.5 14 -0.5 12 -0.5 2 -1 1.5 -2 0.5z"/>
<path fill="#3c0000" d="M1139 644.5l-10 1 -8 -0.5 -8 -2 -8 -3.5 -6 -3.5 -6.5 -6 -5.5 -6.5 -6 -9.5 -4 -4 -7.5 -4 -24.5 -10.5 -3.5 -3.5 -1.5 -4 1.5 -4 3.5 -3.5 25.5 -10.5 6.5 -4 2.5 -4 3 -10 3 -6 4 -6 7.5 -7 6 -4 6 -3 6 -2 6 -1.5 6 -0.5 6 0.5 10 2 10 5 9 6.5 7 7 6 9 4.5 10 2.5 12 1 12 -1 12 -3.5 14 -5 10 -6.5 8 -6 4.5 -12 6.5 -10 3.5zM965 648l-6 0.5 -6 -0.5 -10 -3.5 -10 -6.5 -12 -10.5 -4 -5.5 -4 -8 -3 -10 -1 -10 0 -12 2 -12 3 -10 4.5 -8 2.5 -2.5 8 -7.5 10 -7.5 8 -4 10 -2.5 8 0.5 6 1.5 6 2.5 5 3.5 2 2 2 4 2 12 3 6 3 4 4 4 3.5 2 25.5 12 3.5 4 0 2 -1 4 -2.5 3 -20.5 9 -7 4 -2.5 4 -2 10 -2 6 -3.5 6 -4.5 4.5 -4.5 3.5 -5.5 3 -4 1.5 -6 1.5zM1041 573.5l-2 0.5 -2 -0.5 -6 -4.5 -7.5 -9 -3 -6 0 -4 1.5 -4 3 -2.5 4 -2 6 -1 4 1 4 2.5 1 2 0.5 4 -1.5 20 -0.5 2 -1.5 1.5z"/>
<path fill="#410000" d="M1141 642l-10 2 -8 -0.5 -8 -1.5 -8 -3 -6 -4 -6.5 -5 -5.5 -6.5 -7 -9.5 -4 -4 -7.5 -4 -25.5 -10.5 -3.5 -3.5 -1.5 -4 1.5 -4 3.5 -3 26.5 -11 6.5 -4 3 -4 3 -10 2 -4 3 -4.5 4 -4.5 6 -5.5 6 -3.5 6 -3 8 -2.5 10 -0.5 10 1 10 4 8 5 8 7 7.5 9 4.5 9 3 11 1.5 12 -0.5 12 -2.5 14 -4.5 10 -5 7.5 -6 5.5 -10 6.5 -12 4.5zM967 646l-4 0.5 -6 0 -6 -1 -4 -1 -10 -5.5 -10 -8 -7 -7 -5 -8 -3 -8 -2 -12 0 -12 1.5 -12 3 -10 4.5 -8 2 -3 6 -5.5 12 -9.5 8 -4 4 -1 6 -1 6 0 6 1.5 6 2 3.5 2.5 2.5 2 2.5 4 2.5 10 3 6 2.5 4 3.5 4 5.5 4 4 2 20.5 9 4 3 1 2 0.5 2 -1 4 -2.5 2.5 -21.5 9.5 -7 4 -2.5 4 -4 14 -2 4 -3 4 -4 4 -5.5 4 -4.5 2 -6 2zM1041 570.5l-2 1 -2 0 -4 -2.5 -5 -5 -4 -6 -1 -4 0.5 -2 1.5 -3 4 -3 6 -1 4 1 2 2 1.5 4 0 4 -0.5 10 -1 4.5z"/>
<path fill="#450000" d="M1131 642l-6 0 -8 -1 -6 -2 -6 -3 -5.5 -4 -4.5 -4 -11.5 -14 -4.5 -4 -7.5 -4 -26.5 -11 -3.5 -3 -1 -4 1.5 -4 3 -3 27.5 -11 6.5 -4 3 -4 4 -10 3.5 -6 5 -6 6.5 -5.5 6 -4 6 -2.5 6 -1.5 6 -1 10 0.5 10 3 10 5.5 10 8.5 6 7.5 5 9.5 3 10 1.5 12 -0.5 12 -2.5 12 -3.5 10 -5 7.5 -7 6.5 -11 6.5 -10 4 -10 1.5zM967 644l-4 1 -6 0 -8 -1.5 -4 -1.5 -6 -3.5 -10 -7.5 -8 -7.5 -5 -7.5 -3 -8.5 -2 -11.5 -0.5 -10 1.5 -12 2.5 -10 4.5 -8 2 -3 6 -5.5 12 -9.5 8 -4 4 -1.5 6 -1 6 0.5 4 0.5 6 2.5 4 2.5 4 4.5 4.5 12 2.5 4 2.5 4 3.5 4 5.5 4 4 2 21.5 9 3.5 3 1.5 2 0.5 2 -0.5 2 -1 2 -2 2.5 -22 9.5 -7 4 -3 4 -3.5 12 -2 4 -3 4 -3.5 4 -5.5 4 -4.5 2.5 -6 1.5zM1039 569l-2 0.5 -4 -2 -3.5 -3.5 -2.5 -4 -1.5 -4 0.5 -2 1 -2 4 -2.5 4 -0.5 2 0.5 2.5 2.5 1 4 0.5 6 -0.5 4 -1.5 3z"/>
<path fill="#4a0000" d="M1133 640l-8 0.5 -6 -1 -6 -1.5 -6 -3 -5 -3 -5 -4.5 -12 -13.5 -5 -4 -7.5 -4 -27.5 -11 -3.5 -3 -1 -4 1.5 -4 3 -2.5 28.5 -11.5 6.5 -4 3 -4 4.5 -10 3.5 -5.5 4 -4.5 6.5 -6 5.5 -3.5 6 -2.5 6 -2 6 -0.5 10 0.5 10 3 9 5 9 7 6 7 5.5 10 3 10 1.5 10 0 12 -2 12 -3.5 10 -4.5 7 -6 6.5 -10 6.5 -10 4 -10 2zM967 642.5l-4 0.5 -6 0.5 -8 -2 -8 -3.5 -10 -7.5 -10 -9 -3.5 -5.5 -4 -10 -2 -10 0 -12 1.5 -11 2.5 -9 4.5 -8 9 -8.5 10 -7.5 8 -4.5 8 -2 6 0 4 0.5 6 2 4 2 4 4 8 16 2.5 4 4 4 5.5 4 4 2 24 10.5 3 3.5 0 2 0 2 -1 2 -2 2.5 -23 9.5 -7 4 -3 4 -4 12 -2.5 4 -2.5 3.5 -4 4 -4 3 -4 2 -6 2zM1037 566.5l-2 0 -2 -1 -2 -2 -2 -3.5 -0.5 -4 2.5 -2.5 2 -1 2 0 2 1 1.5 2.5 0.5 4 0 3.5 -2 3z"/>
<path fill="#4f0000" d="M1135 638l-8 1 -6 -1 -6 -1.5 -6.5 -2.5 -5.5 -3.5 -4 -3 -12.5 -13.5 -5 -4 -8 -4 -28.5 -11 -3 -3 -1.5 -4 1.5 -4 3 -2.5 29.5 -11.5 6.5 -4 3.5 -4 4.5 -9 3 -5 7 -8 6 -4.5 6 -3 6 -2 6 -1.5 10 0.5 10 2.5 10 5 8 6.5 6 6.5 5 8 4 10 2 10 0 12 -1 10 -3 10 -5 9 -6 6.5 -8 5.5 -10 4.5 -10 2.5zM969 640l-8 1.5 -8 -0.5 -8 -2.5 -10 -6.5 -10 -8.5 -5 -5.5 -3 -5 -2 -5 -2 -10 -1 -12 1 -10 3 -10 4 -8 9 -8.5 10 -8 8 -4 8 -2 6 -0.5 4 0.5 4 1.5 4 2 4 3.5 9 15.5 6.5 8 5.5 4 4 2 25 10.5 3 3.5 0 2 0 2 -3 4 -23.5 10 -7.5 4 -3.5 4 -3.5 11 -4 6 -4 4.5 -3.5 2.5 -8.5 4zM1035 562.5l-2 -1 -0.5 -1.5 0.5 -2 2 0 1 2 -0.5 2 -0.5 0.5z"/>
<path fill="#540000" d="M1137 636l-8 1 -6 -0.5 -6 -1 -8.5 -3.5 -8.5 -6 -12 -12 -5.5 -4 -8 -4 -29.5 -11 -3 -3 -1 -2 -0.5 -2 0.5 -2 2 -2.5 4 -2.5 23.5 -9 8.5 -4 3 -2 3.5 -4 5.5 -10 6 -7.5 7.5 -6.5 6.5 -3.5 8 -2.5 10 -1 10 1.5 8.5 3.5 7.5 4.5 6.5 5.5 5.5 6 4 6.5 3 7.5 2.5 10 0.5 8 -0.5 10 -1.5 8 -2.5 8 -3 6 -4.5 5.5 -6 5 -8 5 -6 2.5 -8 2zM969 638.5l-8 1.5 -8 -1 -9 -3 -9 -5.5 -8 -7 -6 -6 -2.5 -3.5 -2.5 -6 -2.5 -10 -0.5 -12 1 -10 3 -9.5 4 -7.5 8 -8 10 -7.5 6 -3.5 5.5 -2 4.5 -1 8 0 4 1 4 2 4 3 2 2.5 9 14.5 5.5 6 6 4 3.5 2 26 10.5 3 3.5 0 2 0 2 -1 2 -4 3 -22.5 9 -7.5 4 -3.5 4 -4.5 11 -4 6 -6 5.5 -8 4z"/>
<path fill="#580000" d="M1137 634l-12 1 -8 -1.5 -6 -2.5 -8 -5 -14 -12 -5.5 -4 -8 -4 -30.5 -11.5 -3 -2.5 -1 -2 0.5 -4 1.5 -2.5 4 -2.5 24.5 -9 5 -2 6.5 -4 4 -4 6.5 -10 5 -6 6.5 -5.5 6 -3.5 8 -3 10 -1 8 1 10 4 8 4.5 6 5 4 4.5 5 8 3.5 8 1.5 8 1 8 -0.5 8 -1 8 -2.5 8 -3 6 -4 5.5 -6 5.5 -8 5 -5.5 2 -8.5 2zM969 636l-8 1.5 -8 -0.5 -8 -2.5 -10 -6 -8 -6.5 -6 -6 -4 -8 -2.5 -10 -0.5 -10 0.5 -10 2.5 -9 4 -8 8 -8 8 -6 10 -5.5 8 -2.5 8 0.5 4 1 4 2 6 6 8 11.5 5.5 6 6 4 4 2 26.5 10.5 2.5 3.5 0.5 2 0 2 -1.5 2 -3.5 3 -23.5 9 -7 4 -4 4 -5.5 11 -3.5 5 -6.5 5 -6 3z"/>
<path fill="#5d0000" d="M1137 632l-12 1 -8 -1.5 -6 -2.5 -8 -5 -15 -12 -7 -4 -36 -13.5 -3 -2.5 -1 -2 0.5 -4 1.5 -2.5 4 -2.5 25.5 -9 4.5 -2 7 -4 4.5 -4 8.5 -11.5 4 -4 6 -5 6 -3.5 8 -2 8 -1 8 1.5 10 3.5 8 5 6 5 4 4 4 6.5 3 7.5 2 8 1 8 -0.5 8 -1 8 -2 6 -3 6 -4 6 -5.5 5 -6 4 -6 2.5 -10 2.5zM967 634.5l-8 1 -8 -1 -8 -3.5 -12 -7.5 -6 -5 -4 -4.5 -3.5 -8 -2.5 -10 -0.5 -10 1 -8 2 -8 3.5 -7.5 8 -8 8 -5.5 10 -5.5 8 -2 8 0 4 1 4 2.5 6 5.5 8.5 11.5 7 6 7 4 27.5 10.5 2.5 3.5 0.5 2 -0.5 2 -1 2 -1.5 2 -2 1 -24 9 -7.5 4 -4.5 4 -6 11 -4 4.5 -6 4.5 -6 2.5z"/>
<path fill="#620000" d="M1137 630l-12 1 -6 -1 -6 -2 -6 -3.5 -14.5 -10.5 -10.5 -6 -37 -13.5 -2 -1.5 -2 -3 0.5 -4 1.5 -2 2 -2 28.5 -10 4.5 -2 7.5 -4 4.5 -4 9 -10.5 4 -4.5 4 -3 6 -3.5 8 -2.5 8 -0.5 8 1 8 3 8 4.5 6 4.5 6 6.5 3 5 3 6.5 2 7.5 0.5 8 0 8 -1.5 8 -2 6 -3 6.5 -4 5.5 -6 4.5 -6 3.5 -6 2.5 -8 1.5zM967 632.5l-8 1 -8 -1 -8 -3.5 -10 -6 -6 -4.5 -6 -6.5 -3.5 -8 -1.5 -8 -0.5 -8 0.5 -8 2 -8 3 -7.5 6 -6.5 8 -6 12 -6.5 8 -2 8 0 6 2.5 6 4.5 9.5 11.5 7 6 7.5 4 28 11 2.5 3 0.5 2 -0.5 2 -1 2 -1.5 1.5 -2 1.5 -25 9 -7.5 4 -4.5 4 -5 8 -4 5 -6 4.5 -6 3z"/>
<path fill="#670000" d="M1139 628l-14 1.5 -6 -1.5 -6 -2 -6 -3.5 -16.5 -10.5 -7.5 -4 -38 -14 -2 -1.5 -1.5 -2.5 0 -4 3.5 -3.5 29 -10.5 5 -2 7.5 -4 5 -4 13.5 -14 4 -3 6 -3 8 -2 6 -0.5 8 1 8 3 6 3 6 4.5 6 6 3.5 5 3 6 2 8 1 6 0 8 -1 8 -2 6 -2.5 6 -2.5 4 -5.5 5 -6 4 -6 3 -8 2zM967 630l-8 1.5 -8 -1.5 -8 -3 -10 -5.5 -6 -4.5 -6 -7 -2.5 -6 -2 -8 -0.5 -8 1 -8 1.5 -8 3 -6 5.5 -6 8 -6 12 -6.5 8 -2 8 0 6 2.5 6 4.5 10.5 11.5 5 4 7.5 4 29 11 2.5 3 0.5 2 -0.5 2 -1 2 -1.5 1.5 -2 1 -26 9.5 -7.5 4 -5 4 -5.5 8 -4 4 -4 3.5 -6 2.5z"/>
<path fill="#6c0000" d="M1139 626.5l-14 1 -10 -2.5 -8 -4 -15 -9 -8 -4 -39 -14 -2 -1.5 -1.5 -2.5 0 -4 3.5 -3.5 30 -10.5 13 -6 5.5 -4 13.5 -13 8 -4.5 8 -2.5 6 -0.5 8 1.5 6 1.5 6 3 6 4 6 5.5 4 5 3 6 2.5 8 0.5 6 0 8 -1 8 -1.5 6 -3 6 -2.5 3.5 -5 4.5 -6 4 -5 2 -8 2.5zM965 628.5l-8 1 -8 -2 -10 -4.5 -8 -4.5 -6 -5.5 -4 -5.5 -2 -5.5 -1.5 -8 -0.5 -8 1 -8 2.5 -8 2.5 -4 6 -6 6 -4.5 12 -6 8 -2 8 0.5 6 2 4 3 11 11 5.5 4 7.5 4 30 11 2.5 3 0.5 2 -0.5 2 -1 2 -1.5 1.5 -2 1 -26.5 9.5 -8 4 -5 4 -6.5 7.5 -4 4 -4 2.5 -6 2.5z"/>
<path fill="#700000" d="M1127 626l-6 -0.5 -6 -2 -29.5 -15.5 -40.5 -14 -2 -1.5 -1.5 -2.5 0 -4 3.5 -3.5 31 -10.5 9.5 -4 9.5 -6 14 -12 8 -4.5 8 -2 6 0.5 8 1.5 8 3 6 4 6 5 4 4.5 3.5 6 2 6 1.5 8 0 8 -1 8 -2 6 -3.5 6 -3.5 4 -5 4.5 -6 3 -4 1.5 -8 2 -10 1zM965 626.5l-6 1 -8 -1 -8 -3 -10 -5.5 -7 -6 -4.5 -6 -2.5 -6 -1 -6 0 -8 1 -8 2 -6.5 3.5 -5.5 6.5 -6 6 -4 10 -4.5 8 -2 8 0.5 6 2 4 3 10 9 5.5 4 8 4 30.5 11 2 3 0.5 2 0 2 -2.5 3.5 -29.5 10.5 -8.5 4 -5 4 -7 7.5 -4 3 -4 2.5 -4 1.5z"/>
<path fill="#750000" d="M1129 624.5l-4 0 -10 -2.5 -28.5 -14 -41.5 -14 -2 -1.5 -1.5 -2.5 -0.5 -2 0.5 -2 3.5 -3.5 32 -10.5 9.5 -4 10 -6 14.5 -11.5 8 -3.5 6 -1.5 6 0.5 6 1 8 2.5 6 3.5 6 4.5 4 4.5 4 6 2 6 1.5 8 0.5 8 -1 6 -1.5 6 -3.5 6 -3 4 -5 4.5 -6 3.5 -4 1.5 -6 1.5 -10 1.5zM965 624.5l-6 1 -6 -0.5 -6 -1.5 -8 -3.5 -6 -3.5 -5.5 -4.5 -3.5 -4 -3 -5 -2 -7 -0.5 -8 1 -8 1.5 -6 2 -4 3 -4 4.5 -4 4.5 -3 8 -4 8 -3 8 -1 6 1.5 6 2.5 13 11 7 4 9.5 4 24.5 8.5 2 0.5 2 3 0.5 2 0 2 -2.5 3.5 -35 12.5 -7 4 -12 10.5 -4 2.5 -4 1.5z"/>
<path fill="#7a0000" d="M1133 622l-8 1 -8 -1.5 -6 -2.5 -18.5 -9 -10 -4 -37.5 -12 -2 -2 -1.5 -2 0 -2 0.5 -2 3 -3.5 33 -10.5 10 -4 10 -6 13 -9.5 8 -3.5 6 -1.5 4 0 8 1.5 6 1.5 6 3 6 4.5 4 4 4 6 2.5 6 1.5 6 0.5 8 -0.5 6 -1.5 6 -2.5 6 -3 4 -4.5 4 -4.5 3.5 -4 1.5 -8 2.5 -6 0.5zM965 622.5l-6 1 -6 -0.5 -6 -1.5 -6 -2 -6 -3.5 -5.5 -4 -4.5 -5 -3 -5 -1.5 -4 -1 -8 0 -6 1.5 -7 2 -5 3 -4 4 -4 5 -3.5 8 -4 8 -2.5 6 -1 6 0.5 4 1.5 4 2 12 9 7 4 10 4 25 8.5 2 1 2 2.5 0.5 2 0 2 -2.5 3 -36 13 -7 4 -13 10 -6 2.5z"/>
<path fill="#7f0000" d="M1137 620l-12 2 -10 -2.5 -31.5 -13.5 -28.5 -8.5 -10 -4 -2 -1.5 -1.5 -2 0 -2 0.5 -2 3 -3 34 -11 10 -4 7.5 -4 16.5 -10.5 6 -3 8 -1.5 8 1 6 2 6 2.5 5.5 3.5 4.5 4 4 5 2.5 5 2 6 1 6 0 6 -1 6 -1.5 4 -3 6 -3 4 -4.5 4 -4.5 3 -6 2 -6 1zM965 620.5l-6 1.5 -6 -0.5 -6 -1.5 -6 -2.5 -6 -3 -4 -3 -5.5 -5.5 -2.5 -4.5 -2 -5.5 -0.5 -6 0 -6 1 -6 3 -6 3 -4 5.5 -4.5 4 -2.5 8 -4 6 -1.5 6 -1 6 1 8 3 10.5 7.5 7.5 4 10 4 26 8.5 2 1 2 2.5 0.5 2 -0.5 2 -2 3 -37 13 -7.5 4 -11.5 8 -6 2.5z"/>
<path fill="#830000" d="M1129 620l-4 0.5 -10 -2 -30 -12.5 -30 -9 -10 -3.5 -2 -1.5 -1.5 -2 0 -2 0.5 -2 3 -3 35 -11 10.5 -4 8 -4 14.5 -9 6 -2.5 6 -1.5 4 0 8 1.5 6 2 6 3 4 3 4 4 4 5.5 2.5 6 1.5 6 0 6 -0.5 6 -1.5 5.5 -2.5 4.5 -3.5 5 -4 3.5 -4 2.5 -4 2 -16 3zM959 620l-6 0 -6 -1.5 -6 -2 -6 -3.5 -4 -3 -4 -4 -2.5 -4 -1.5 -4 -1.5 -6 -0.5 -6 1.5 -6 1.5 -4 2 -4 3.5 -4 4.5 -4 5 -2.5 6 -3 8 -2 6 0 4 0.5 6 2 19 11 10 4 27 8.5 2 1 2 2.5 0.5 2 -0.5 2 -2 3 -38 13 -8 4 -12 7.5 -4 1.5 -6 1z"/>
<path fill="#880000" d="M1131 618l-6 1.5 -10 -2 -29 -11.5 -31 -9 -10 -3.5 -2 -1.5 -1.5 -2 0 -2 0.5 -2 3 -3 36 -11 10.5 -4 8.5 -4 13 -7.5 8 -3 6 -1 8 1.5 6 1.5 6 2.5 4 2.5 4 4 4 5.5 2 4 2 6 1 6 -0.5 6 -1.5 6 -2 4 -3 4.5 -4 4 -4 3 -4 1.5 -6 2 -8 1zM963 618l-4 0.5 -6 0 -6 -1.5 -6 -2 -6 -3.5 -4 -3 -4 -4.5 -2 -4 -1.5 -4 -1 -6 0 -6 2 -6 2.5 -5 4 -5 4 -3 4 -2.5 8 -3 6 -1.5 6 0 6 1 6 2.5 15.5 8.5 11 4 27.5 8.5 2 1 2 2.5 0.5 2 -0.5 2 -2 3 -39.5 13 -16.5 9 -8 3z"/>
<path fill="#8d0000" d="M1127 618l-4 0 -8 -1.5 -28 -10.5 -30 -8.5 -12 -4 -3 -3.5 -0.5 -2 0.5 -2 3 -3 12 -4 19 -5 17 -6 24 -11.5 8 -2 8 1.5 6 0.5 4 1.5 4 2 4 2.5 4 4 3.5 5.5 2 4 1.5 6 0.5 6 -1 6 -2 6 -2.5 4 -3.5 4 -4.5 4 -6 2.5 -10 1.5 -6 2zM963 616.5l-6 0.5 -6 0 -10 -3.5 -6 -3.5 -3 -2 -3.5 -4 -3 -6 -1.5 -4 -0.5 -6 1 -6 1 -4 3.5 -5.5 4 -4.5 8 -5 6 -2 6 -1.5 6 0 6 1 4 1.5 12 6 9.5 4 34.5 11 2 1 1.5 2 1 2 -0.5 2 -2 3 -12 4 -23.5 7 -9.5 4 -11 5.5 -8 3z"/>
<path fill="#920000" d="M1129 616.5l-4 1 -10 -2 -26.5 -9.5 -31.5 -8.5 -12 -4 -3 -3.5 -0.5 -2 0.5 -2 3 -3 44.5 -13 9.5 -4 12 -6 8 -2.5 6 -1 8 2 10 1.5 4 1.5 4 3 4 4.5 3 5 1.5 4 1.5 6 0 6 -1 4 -2 6 -2.5 4 -6.5 6 -6 3 -10 2 -4 1.5zM965 614l-6 1 -6 0.5 -8 -1.5 -10 -5.5 -4 -3.5 -3.5 -5 -1.5 -4 -1 -6 0 -6 1 -4 2 -4 3 -4.5 4 -3.5 4 -2.5 10 -4 8 -0.5 8 1.5 8 2.5 16.5 7 35.5 11 2 1 1.5 2 1 2 -0.5 2 -2 3 -2 0.5 -34.5 10.5 -17.5 7.5 -8 2.5z"/>
<path fill="#970000" d="M1125 616.5l-10 -2 -25 -8.5 -33 -9 -12 -3.5 -3 -3.5 -0.5 -2 0.5 -2 3 -2.5 45.5 -13.5 20.5 -8.5 8 -2.5 6 -1 8 3 8 1 6 1.5 3.5 2.5 3.5 4 2.5 4 1.5 4 1 4 0.5 6 -1 6 -1.5 4 -4 7 -6 5 -8 2.5 -6 1 -8 3zM967 612.5l-10 1 -10 -0.5 -4 -1 -6 -3.5 -3.5 -2.5 -2.5 -3 -2 -3 -2 -5 -1 -5 0 -4 0.5 -4 2.5 -5.5 3 -4.5 3 -2.5 6 -4 6 -2 8 -0.5 8 0.5 8 2 17 6.5 37 11 2 1 1.5 2 0.5 2 0 2 -2 2.5 -2 1 -35.5 10.5 -16.5 6.5 -6 2z"/>
<path fill="#9b0000" d="M1129 614l-4 1.5 -10 -2 -23.5 -7.5 -34.5 -9 -12 -4 -3 -3 -0.5 -2 1 -2 2.5 -2.5 12 -4 29 -7.5 11.5 -4 11.5 -5 10 -2.5 6 -1 8 3.5 6 0.5 8 2 2 1.5 4 4 2 3.5 2 4.5 1 5 0 4 -1.5 8 -3.5 6.5 -6 5.5 -6 2.5 -8 1.5 -4 2zM961 612l-6 0.5 -6 -0.5 -4 -1 -4 -1.5 -4 -2.5 -4 -3 -2.5 -4 -2 -4 -1 -4 -0.5 -6 1 -4 1.5 -4 2.5 -4 3 -3 8 -5 4 -1 8 -1 12 1.5 8 2 18.5 6.5 31.5 9 2 1 1.5 2 0.5 2 0 2 -2 2.5 -2 1 -36.5 10.5 -15.5 5.5 -12 2.5z"/>
<path fill="#a00000" d="M1125 614.5l-10 -1.5 -24 -7.5 -34 -8.5 -12 -4 -3 -3 -0.5 -2 1 -2 2.5 -2.5 14 -4 28 -7.5 22 -8 10 -2.5 6 -0.5 8 4 7.5 1 6.5 2 4 3 2 2.5 2 4.5 1 4 0.5 8 -1 4 -1.5 4 -3 5 -4 3.5 -6 2.5 -8 1 -6 4 -2 0.5zM967 610l-10 1 -12 -1 -6 -3 -4 -3 -2 -2 -2.5 -4 -1.5 -4 -0.5 -4 0 -4 0.5 -4 2 -4 2 -3 2.5 -3 6 -4 5.5 -1.5 10 -1 8 0.5 10 2.5 17 5.5 33 9 2 1 1.5 2 0.5 2 -0.5 2 -1.5 2.5 -2 1 -38 10.5 -12 4 -8 2z"/>
<path fill="#a50000" d="M1127 612.5l-2 1 -10 -1.5 -28 -8 -30 -7.5 -12 -3.5 -3 -3 0 -2 0.5 -2 2.5 -2.5 14 -4 29.5 -7.5 22.5 -7.5 6 -1.5 8 -1 2 1 6 3.5 10 2 4 2 2 1.5 4 5 1.5 5 0.5 4 -0.5 6 -1 4 -2 4 -2.5 3 -2 1.5 -2.5 1.5 -5.5 1.5 -6 1 -6 4zM971 608.5l-12 1.5 -10 -1 -8 -2 -6 -4.5 -2 -2.5 -2 -4 -1 -4 -0.5 -4 0.5 -4 1 -4 4 -6 6 -4.5 4 -1.5 10 -1.5 10 0.5 10 2 16 5 26 7 8 2 2 1 1.5 2 0.5 2 -0.5 2 -1.5 2.5 -2 1 -54 15z"/>
<path fill="#aa0000" d="M1125 612.5l-12 -1.5 -24.5 -7 -35.5 -8.5 -8 -2.5 -3 -3 0 -2 0.5 -2 2.5 -2.5 8 -2.5 37 -9 23 -7 12 -1.5 2 0.5 6 4.5 8 1.5 4.5 2 3 2 4 6 1 4 0 4 -0.5 5 -2 5 -4 4.5 -6 2.5 -8 2 -6 4.5 -2 1zM967 608l-10 1 -10 -1.5 -6 -2 -6 -5 -2 -2.5 -1.5 -4 -0.5 -4 0 -4 2 -7 4 -5 4 -3 8 -2.5 8 -0.5 10 0.5 10 2 40 10.5 8 2.5 2 1 1.5 1.5 0.5 2 -0.5 2 -1.5 2.5 -2 1 -48 13 -10 1.5z"/>
<path fill="#af0000" d="M1127 610.5l-2 1 -10 -1 -24.5 -6.5 -33.5 -7.5 -12 -3.5 -2.5 -3 -0.5 -2 0.5 -2 2.5 -2.5 10 -2.5 36 -9 22 -6 12 -1.5 3 1.5 5 4 7.5 2 6.5 3.5 3 4.5 2 6 0 4 -1 4 -2 3.5 -2 2.5 -6 3 -8 2 -6 5.5zM975 606l-10 1.5 -10 0 -10 -2 -6 -3 -4.5 -4.5 -2.5 -6 0 -4 0.5 -4 2.5 -6 4 -4 6 -3 10 -2 10 0 12 2 38 9.5 10 3 2 1 1 1.5 1 2 -0.5 2 -1.5 2 -2 1 -12 3.5 -38 9.5z"/>
<path fill="#b30000" d="M1125 610.5l-12 -1 -21 -5.5 -37 -8.5 -10 -2.5 -2.5 -3 -0.5 -2 0.5 -2 2.5 -2 10 -3 30.5 -7 27.5 -7.5 12 -1 4 2.5 4 3.5 7 2.5 6 4 3 4 1 6 -1.5 6 -3 4 -6.5 4 -6 1.5 -4.5 4.5 -3.5 2.5zM971 606l-8 1 -8 -0.5 -10 -2.5 -6 -3 -4 -5 -2 -6 0.5 -6 1.5 -3.5 1.5 -2.5 2.5 -2.5 2.5 -1.5 7.5 -3 8 -1 10 0 10 1.5 38 9 10 3 2 1 1 1.5 1 2 -0.5 2 -1.5 2 -2 1 -14 4 -34 8 -6 1z"/>
<path fill="#b80000" d="M1127 608l-2 1.5 -12 -1 -22 -5 -32 -7 -14 -4 -2.5 -2.5 -0.5 -2 0.5 -2 2.5 -2 10 -3 32 -7 26 -6.5 12 -1 2.5 1.5 5.5 5.5 6.5 2.5 5 4 2.5 3.5 0.5 4.5 -0.5 4 -3 4 -5 3.5 -6 2.5 -6 6zM963 606l-8 -0.5 -6.5 -1.5 -5.5 -2 -5 -4 -2.5 -4 -1 -6 1 -6 3.5 -4.5 6 -3.5 8 -2.5 8 -1 8 0.5 10 1.5 38 9 10 3 1 1.5 1 2 -0.5 2 -1.5 2 -10 3.5 -40 9 -14 1.5z"/>
<path fill="#bd0000" d="M1125 608.5l-12 -0.5 -58 -12.5 -10 -3 -2.5 -2.5 -0.5 -2 1 -2 2 -2 10 -3 33.5 -7 22.5 -5.5 6 -1 8 0 3.5 2.5 4.5 5 4 2 4 3 3 4 1 4 -1.5 4 -2.5 3.5 -3.5 2.5 -4.5 2 -5 6 -3 2.5zM975 604l-10 1 -8 0 -8 -2 -6 -3 -4 -3 -2 -3 -1 -2 0 -6 1.5 -4 3.5 -4 7 -4 9 -2 10 -0.5 12 1.5 36 8 12 3.5 1 1.5 0.5 2 0 2 -1.5 2 -2 1 -14 3.5 -36 7.5z"/>
<path fill="#c30500" d="M1125 607.5l-12 0 -56 -11.5 -12 -3.5 -2.5 -2.5 -0.5 -2 1 -2 2 -2 12 -3 56 -12 12 -0.5 4 3.5 4 5 4 2.5 2.5 2.5 1 2 1 4 -1 4 -1.5 2 -2.5 2 -3.5 2 -4.5 6 -3.5 3.5zM971 604l-8 0.5 -8 -1 -6 -2 -6 -3 -4 -4.5 -1.5 -4 0 -4 2 -4 1.5 -2 4 -3 7 -3 7 -1.5 10 0 10 1 36 7.5 12 3.5 1.5 3.5 0 2 -1.5 2 -2 1 -18 4.5 -28 5.5 -8 1z"/>
<path fill="#cb0f00" d="M1123 606l-8 0.5 -4 -0.5 -54 -10.5 -12 -3 -2.5 -2.5 -0.5 -2 1 -2 2 -2 12 -3 54 -10.5 6 -0.5 8 0 4 4 4 7 2.5 3 1 4 -1.5 4 -2 2 -4.5 8 -3.5 4 -2 0zM979 602.5l-10 0.5 -8 0 -6 -1 -6 -2.5 -5 -3.5 -2.5 -4 -1 -4 1 -4 3.5 -4 2.5 -2 5.5 -2.5 8 -2 8 0 10 1 36 6.5 12 4 1.5 3 -0.5 2 -1 2 -2 0.5 -16 4 -30 6z"/>
<path fill="#d21a00" d="M1125 604.5l-8 0.5 -6 0 -54 -9.5 -12 -3 -2.5 -2.5 0 -2 0.5 -2 2 -1.5 12 -3.5 54 -9.5 6 -0.5 8 0.5 2.5 2.5 2.5 4 2 6 0.5 4 -0.5 4 -2.5 6 -2 4 -2.5 2.5zM971 602l-8 0 -6 -1.5 -4 -1.5 -5.5 -3 -2 -2 -1.5 -4 0 -4 2 -4 5.5 -4 7.5 -2.5 8 -1 10 0.5 18 2.5 20 4 12 3.5 1.5 3 -0.5 2 -1 1.5 -12 3.5 -34 6 -10 1z"/>
<path fill="#da2400" d="M1115 604l-8 -0.5 -52 -9 -10 -2.5 -2 -2 -0.5 -2 0.5 -2 2 -1.5 14 -3.5 52 -8.5 6 0 8 0.5 3.5 5 2 6 0 6 -1 6 -2 4 -2.5 3 -10 1zM983 600l-14 1 -6 -0.5 -6 -1.5 -4 -2 -4 -3 -2 -4 0 -4 3 -4 6 -4 7 -2 10 -0.5 6 0.5 12 1.5 24 4 12 3.5 1.5 3 -0.5 2 -1 1.5 -2 1 -18 4 -24 3.5z"/>
<path fill="#e22e00" d="M1121 602l-6 1 -8 -0.5 -50 -7.5 -12 -3 -2 -2 -0.5 -2 1 -2 1.5 -1.5 14 -3 48 -7.5 8 -0.5 8 1 2 0.5 3.5 5 1 4 0 6 -1.5 6 -2 4 -1 1 -4 1zM975 600l-12 -1 -4 -1 -4 -2 -2.5 -2 -2.5 -4 0 -2 1.5 -4 4.5 -4 5 -2 8 -1.5 10 0 18 2.5 18 3 12 3 1.5 3 -0.5 2 -1 1.5 -2 1 -10 2 -20 3.5 -20 2z"/>
<path fill="#e93800" d="M1123 600l-8 1.5 -8 0 -46 -6 -16 -3.5 -2 -2 -0.5 -2 1 -2 1.5 -1.5 14 -3 44 -6 10 -1 6 0.5 6 1.5 2 3.5 1.5 4 0 6 -1 4 -2.5 5.5 -2 0.5zM991 598l-16 1 -6 0 -6 -1.5 -4.5 -1.5 -3.5 -2.5 -2 -3.5 0 -4 1.5 -2 2 -2 4.5 -2.5 8 -1.5 10 -0.5 18 1.5 18 3 12 3.5 1 2.5 0 2 -1 1 -2 1 -14 3 -20 3z"/>
<path fill="#f14200" d="M1117 600l-4 0.5 -8 -0.5 -48 -5.5 -12 -2.5 -2 -2 -0.5 -2 1 -2 1.5 -1 12 -3 46 -5.5 12 -0.5 10 2.5 2 3.5 0.5 4 -0.5 6 -2 5.5 -8 2.5zM985 598l-12.5 0 -9.5 -2 -4 -2 -2 -2 -1 -2 -0.5 -2 0.5 -2 1.5 -2 2.5 -2 4.5 -2 6.5 -1 10 -0.5 16 1 18 3 10 2 2 1 1 2.5 -1 3 -4 1.5 -18 3.5 -20 2z"/>
<path fill="#f94d00" d="M1119 598l-6 1 -8 0 -44 -4 -16 -3.5 -1.5 -1.5 -0.5 -2 2 -3 14 -3 42 -4.5 14 0 6 1.5 4 1.5 1 3.5 0.5 6 -1.5 5 -6 3zM1001 596l-20 1.5 -12 -1 -4 -1.5 -4 -2 -2.5 -3 -0.5 -2 1 -2 1.5 -2 4.5 -2.5 6 -1.5 10 -1 16 1 18 2.5 10 2 2 1 1 2.5 -1 3 -2 1 -10 2 -14 2z"/>
<path fill="#ff5700" d="M997 596l-16 0.5 -8 -0.5 -6 -2 -3.5 -2 -1.5 -2 -0.5 -2 1 -2 2 -2 3.5 -2 7 -1.5 6 -0.5 16 0.5 18 2 10 2.5 2 0.5 1 2.5 -1 3 -2 0.5 -12 2.5 -16 2zM1111 598l-8 0 -20 -1.5 -26 -2.5 -12 -2.5 -1.5 -1.5 -0.5 -2 2 -3 12 -2.5 24 -2.5 22 -1.5 12 0.5 6 2 4 3 0.5 4 -0.5 4 -2 2 -3.5 2 -4.5 1.5 -4 0.5z"/>
<path fill="#ff6100" d="M1115 596l-12 1 -21.5 -1 -20.5 -1.5 -16 -3 -1.5 -1.5 -0.5 -2 2 -3 16 -2.5 40 -3 12 0.5 4 1 4 3 1.5 2 0.5 2 -0.5 2 -1 2 -2.5 2 -4 2zM1011 594.5l-18 1.5 -14 -0.5 -6 -1 -4 -1.5 -2 -1 -1.5 -2 -0.5 -2 1 -2 1 -1 4 -2 6 -2 6 -0.5 12 0.5 14 1 16 3 2 1 1 2 -1 2.5 -4 1.5 -12 2.5z"/>
<path fill="#ff6b00" d="M1011 594l-16 1 -14 0 -5 -1 -5 -2 -2 -2 -0.5 -2 1 -2 3.5 -2.5 6 -1.5 8 -0.5 10 0 12 1 10 1.5 8 2 1 2 -1 2.5 -4 1.5 -12 2zM1115 594l-4 1 -8 0.5 -20 0 -20 -1.5 -8 -0.5 -10 -2 -1.5 -1.5 -0.5 -2 2 -2.5 14 -2.5 24 -2 24 0 8 1.5 2.5 1.5 1.5 2 0.5 2 -0.5 2 -1.5 2 -2.5 2z"/>
<path fill="#ff7500" d="M1007 594l-14 0.5 -12 -0.5 -6 -2 -2.5 -2 -0.5 -2 1 -2 3 -2 3 -1 6 -1 8 0 12 0.5 12 1 8 1.5 2 1 0.5 2 -0.5 2.5 -2 1 -18 2.5zM1105 594l-22 1 -24 -1.5 -14 -2.5 -1 -1 -1 -2 2 -2.5 10 -2 26 -1.5 22 0 10 2 2.5 2 0.5 2 -0.5 2 -1.5 2 -9 2z"/>
<path fill="#ff8000" d="M1003 594l-13.5 0 -8.5 -1.5 -2 -0.5 -3 -2 -1 -2 1.5 -2 4.5 -2 8 -1.5 8 0 20 1.5 8 1.5 2 1 0.5 1.5 -0.5 2.5 -2 0.5 -10 2 -12 1zM1085 594l-20 -0.5 -10 -0.5 -10 -2 -1 -1 -0.5 -2 1.5 -2.5 10 -2 26 -1 22 1.5 6.5 2 1.5 2 -1 2 -5 2 -20 2z"/>
<path fill="#ff8a14" d="M1019 592l-14 1.5 -14 0 -8 -1.5 -3.5 -2 -1 -2 1.5 -2 5 -2 12 -1 18 1 10 1.5 2 1 0.5 1.5 -0.5 2 -2 1 -6 1zM1095 592l-14 1.5 -22 -0.5 -14 -2 -1 -1 -0.5 -2 1.5 -2.5 10 -1.5 22 -1 10 0.5 10 1.5 5 1 2 2 -1 2 -8 2z"/>
<path fill="#ff9429" d="M1017 592.5l-12 0.5 -12 0 -5 -1 -3 -1 -2 -1 -1 -2 2 -2 3 -1 4 -1 8 -0.5 16 0.5 10 1.5 2 1.5 0.5 1 -0.5 2 -2 1 -8 1.5zM1085 592l-10 1 -18 -0.5 -12 -2 -1.5 -2.5 1.5 -2 12 -2 8 -0.5 20 1 7.5 1.5 3.5 2 -2 2 -9 2z"/>
<path fill="#ff9e3d" d="M1017 592l-12 1 -10 -0.5 -8.5 -2.5 -1 -2 2 -2 3.5 -1 10 -1 14 0 10 2 2 1 0.5 1 -1 2 -1.5 1 -8 1zM1077 592l-14 0.5 -8 -0.5 -10 -1.5 -1.5 -2.5 1.5 -2 12 -2 6 0 18 1 5 1 3 2 -1.5 2 -10.5 2z"/>
<path fill="#ffa852" d="M1015 592l-10 0.5 -7.5 -0.5 -7 -2 -1.5 -2 2.5 -2 3.5 -1 12 -1 8 0.5 10 1.5 2 2 -0.5 2 -1.5 0.5 -10 1.5zM1067 592l-10 0 -12 -1.5 -1 -2.5 1 -2 16 -1.5 18 1.5 4.5 2 -2 2 -14.5 2z"/>
<path fill="#ffb266" d="M1013 592l-8.5 0 -5.5 -0.5 -5.5 -1.5 -1.5 -2 3 -2 2 -0.5 12 -1 15.5 1.5 2.5 2 -1 2 -1 0.5 -12 1.5zM1075 590l-10 1.5 -8 0.5 -12 -1.5 -1 -2.5 1 -1.5 1.5 -0.5 10.5 -1.5 6 0.5 10.5 1 5 2 -2.5 2 -1 0z"/>
<path fill="#ffbd7a" d="M1025 590.5l-10 1 -8 0 -10 -1.5 -1.5 -2 3.5 -2 2 -0.5 14 -0.5 10 1.5 2 1.5 -2 2.5zM1069 590.5l-6 1 -8 0 -10 -1.5 -1 -2 1 -1.5 12 -1.5 10 0.5 7 2.5 -3.5 2 -1.5 0.5z"/>
<path fill="#ffc78f" d="M1025 590l-10 1.5 -8 -0.5 -6.5 -1 -2 -2 4 -2 12.5 -0.5 10 1 2 1.5 -2 2zM1067 590l-6 1 -6 0 -10 -1 -1 -2 1 -1.5 4 -0.5 8 -0.5 6 0 2.5 0.5 3.5 2 -2 2z"/>
<path fill="#ffd1a3" d="M1025 590l-10 1 -6 -0.5 -5 -0.5 -2.5 -2 5 -2 10.5 -0.5 8 1.5 1.5 1 -1.5 2zM1063 590.5l-6 0.5 -11.5 -1 -0.5 0 -0.5 -2 0.5 -1 12 -1.5 5 0.5 5 2 -2.5 2 -1.5 0.5z"/>
<path fill="#ffdbb8" d="M1023 590l-8 0.5 -6 -0.5 -2 0 -2.5 -2 4.5 -1.5 6 -0.5 10 1 1.5 1 -1.5 1.5 -2 0.5zM1061 590l-6 0.5 -7.5 -0.5 -2.5 -0.5 -0.5 -1.5 0.5 -1 12 -1 4 0.5 3.5 1.5 -2.5 2 -1 0z"/>
<path fill="#ffe5cc" d="M1019 590l-8.5 0 -3.5 -2 8 -1.5 10 1 1 0.5 -1 1 -6 1zM1059 590l-8.5 0 -5.5 -1 -0.5 -1 0.5 -0.5 10 -1 4 0.5 3.5 1 -3.5 2z"/>
<path fill="#fff0e0" d="M1015 590l-5 -2 5 -1 10 0.5 0.5 0.5 -0.5 1 -10 1zM1059 588.5l-4 1.5 -10 -1.5 -0.5 -0.5 0.5 -0.5 10 -0.5 5 1 -1 0.5z"/>
<path fill="#fffaf5" d="M1025 588.5l-10 0.5 -2.5 -1 4.5 -0.5 8 0.5 0 0.5zM1057 588.5l-2 0.5 -10 -1 10 -0.5 3 0.5 -1 0.5z"/></g></g><clipPath id="aD"><rect x="810.9" y="476" width="449" height="224.6"/></clipPath><path clip-path="url(#aD)" fill="#000" fill-opacity="0.75" d="M1123.7 525.7L1122.3 519.7L1123.9 520L1120 513.7L1119.2 521.1L1120.5 520.1L1121.8 526.1zM1148.6 525.7L1147.3 519.7L1148.8 520L1145 513.7L1144.2 521.1L1145.4 520.1L1146.8 526.1zM922.6 551.6L927.6 555.2L926.2 556L933.3 558L929 552.1L928.7 553.6L923.6 550.1zM947.5 551.6L952.6 555.2L951.2 556L958.3 558L953.9 552.1L953.7 553.6L948.6 550.1zM972.5 551.6L977.5 555.2L976.1 556L983.3 558L978.9 552.1L978.6 553.6L973.6 550.1zM1022.4 551.6L1027.5 555.2L1026.1 556L1033.2 558L1028.8 552.1L1028.5 553.6L1023.5 550.1zM1047.3 551.6L1052 555.6L1050.6 556.2L1057.5 558.9L1053.6 552.5L1053.2 554.1L1048.5 550.1zM1098.5 551.4L1102.3 546.5L1103 547.9L1105.3 540.9L1099.2 545L1100.7 545.3L1097 550.3zM1123.7 550.7L1122.3 544.6L1123.9 545L1120 538.7L1119.2 546L1120.5 545L1121.8 551.1zM1148.6 550.7L1147.3 544.6L1148.8 545L1145 538.7L1144.2 546L1145.4 545L1146.8 551.1zM1173.6 550.7L1172.2 544.6L1173.8 545L1169.9 538.7L1169.1 546L1170.4 545L1171.7 551.1zM922.4 576.5L926.6 581L925 581.5L931.5 585.1L928.6 578.3L928 579.8L923.8 575.2zM947.4 576.5L951.5 581L950 581.5L956.5 585.1L953.5 578.3L952.9 579.8L948.8 575.2zM972.3 576.5L976.5 581L974.9 581.5L981.4 585.1L978.5 578.3L977.9 579.8L973.7 575.2zM997.3 576.5L1001.4 581L999.9 581.5L1006.4 585.1L1003.4 578.3L1002.8 579.8L998.7 575.2zM1073.3 576.7L1078.7 573.7L1078.8 575.3L1083.8 569.8L1076.5 571.1L1077.8 572L1072.4 575zM1098.3 576.6L1103.6 573.5L1103.7 575.1L1108.5 569.4L1101.3 570.9L1102.6 571.8L1097.3 575zM1123.3 576.6L1128.2 572.8L1128.6 574.4L1132.6 568.2L1125.6 570.6L1127.1 571.3L1122.2 575.1zM1148.4 576.5L1152.8 572.2L1153.3 573.8L1156.8 567.2L1150 570.3L1151.5 570.9L1147 575.1zM1173.4 576.5L1177.5 571.8L1178.1 573.3L1180.9 566.5L1174.5 570.1L1176.1 570.6L1171.9 575.2zM923.8 601.4L928 596.8L928.6 598.3L931.5 591.5L925 595.1L926.6 595.6L922.4 600.1zM948.8 601.4L952.9 596.8L953.5 598.3L956.5 591.5L950 595.1L951.5 595.6L947.4 600.1zM973.7 601.4L977.9 596.8L978.5 598.3L981.4 591.5L974.9 595.1L976.5 595.6L972.3 600.1zM998.7 601.4L1002.8 596.8L1003.4 598.3L1006.4 591.5L999.9 595.1L1001.4 595.6L997.3 600.1zM1072.4 601.6L1077.8 604.6L1076.5 605.5L1083.8 606.8L1078.8 601.3L1078.7 602.9L1073.3 599.9zM1097.3 601.6L1102.6 604.8L1101.3 605.7L1108.5 607.2L1103.7 601.5L1103.6 603.1L1098.3 600zM1122.2 601.5L1127.1 605.3L1125.6 606L1132.6 608.4L1128.6 602.2L1128.2 603.8L1123.3 600zM1147 601.5L1151.5 605.7L1150 606.3L1156.8 609.4L1153.3 602.8L1152.8 604.4L1148.4 600.1zM1171.9 601.4L1176.1 606L1174.5 606.5L1180.9 610.1L1178.1 603.3L1177.5 604.8L1173.4 600.1zM923.6 626.5L928.7 623L929 624.5L933.3 618.6L926.2 620.6L927.6 621.4L922.6 625zM948.6 626.5L953.7 623L953.9 624.5L958.3 618.6L951.2 620.6L952.6 621.4L947.5 625zM973.6 626.5L978.6 623L978.9 624.5L983.3 618.6L976.1 620.6L977.5 621.4L972.5 625zM1097 626.3L1100.7 631.3L1099.2 631.6L1105.3 635.7L1103 628.7L1102.3 630.1L1098.5 625.2zM1121.8 625.5L1120.5 631.6L1119.2 630.6L1120 637.9L1123.9 631.6L1122.3 632L1123.7 625.9zM1146.8 625.5L1145.4 631.6L1144.2 630.6L1145 637.9L1148.8 631.6L1147.3 632L1148.6 625.9zM1171.7 625.5L1170.4 631.6L1169.1 630.6L1169.9 637.9L1173.8 631.6L1172.2 632L1173.6 625.9z"/><circle cx="1035.4" cy="588.3" r="3.0" fill="#000"/>
<rect x="529.4" y="22.3" width="21" height="423.1" fill="url(#gh)"/>
<rect x="1511.2" y="7.6" width="22.7" height="452.8" fill="url(#gh)"/>
<clipPath id="inA"><rect x="99.6" y="22.3" width="423.7" height="423.1"/></clipPath>
<clipPath id="outA"><path clip-rule="evenodd" d="M0 0H1647V771H0zM99.6 22.3V445.4H523.3V22.3z"/></clipPath>
<g fill="none" stroke="#000" stroke-width="2.4" clip-path="url(#outA)"><line x1="339.36" y1="205.65" x2="810.9" y2="9.3" stroke-dasharray="11.5 5.5"/><line x1="339.36" y1="262.05" x2="810.9" y2="458.8" stroke-dasharray="11.5 5.5"/></g>
<g fill="none" stroke="#000" stroke-width="2.2" opacity="0.55" clip-path="url(#inA)"><line x1="339.36" y1="205.65" x2="810.9" y2="9.3" stroke-dasharray="11.5 5.5"/><line x1="339.36" y1="262.05" x2="810.9" y2="458.8" stroke-dasharray="11.5 5.5"/></g>
<circle cx="214.5" cy="233.8" r="23.2" fill="#000"/><circle cx="311.1" cy="233.8" r="2.5" fill="#000"/><path d="M311.1 233.8V217.8" stroke="#000" stroke-width="1.4" fill="none"/><path d="M309.2 218.3L311.1 214.2L313 218.3z" fill="#000"/>
<path d="M282.84 262.05H339.36V205.65H282.84z" fill="none" stroke="#fff" stroke-width="2.6" stroke-dasharray="10.9 5.7"/>
<rect x="99.6" y="22.3" width="423.7" height="423.1" fill="none" stroke="#000" stroke-width="3.6"/>
<rect x="810.9" y="9.3" width="449" height="449.5" fill="none" stroke="#000" stroke-width="3.6"/>
<rect x="810.9" y="476" width="449" height="224.6" fill="none" stroke="#000" stroke-width="3.6"/>
<rect x="1278" y="7.5" width="226.4" height="452.7" fill="none" stroke="#000" stroke-width="3.6"/>
<rect x="529.4" y="22.3" width="21" height="423.1" fill="none" stroke="#000" stroke-width="3.6"/>
<rect x="1511.2" y="7.6" width="22.7" height="452.8" fill="none" stroke="#000" stroke-width="3.6"/>
<g font-family="'DejaVu Sans','Liberation Sans',sans-serif">
<line x1="122.7" y1="445.4" x2="122.7" y2="460.4" stroke="#000" stroke-width="3.6" />
<text x="122.7" y="490.6" text-anchor="middle" font-size="20.7" fill="#000" >−10</text>
<line x1="193.35" y1="445.4" x2="193.35" y2="460.4" stroke="#000" stroke-width="3.6" />
<text x="193.35" y="490.6" text-anchor="middle" font-size="20.7" fill="#000" >−5</text>
<line x1="264" y1="445.4" x2="264" y2="460.4" stroke="#000" stroke-width="3.6" />
<text x="264" y="490.6" text-anchor="middle" font-size="20.7" fill="#000" >0</text>
<line x1="334.65" y1="445.4" x2="334.65" y2="460.4" stroke="#000" stroke-width="3.6" />
<text x="334.65" y="490.6" text-anchor="middle" font-size="20.7" fill="#000" >5</text>
<line x1="405.3" y1="445.4" x2="405.3" y2="460.4" stroke="#000" stroke-width="3.6" />
<text x="405.3" y="490.6" text-anchor="middle" font-size="20.7" fill="#000" >10</text>
<line x1="475.95" y1="445.4" x2="475.95" y2="460.4" stroke="#000" stroke-width="3.6" />
<text x="475.95" y="490.6" text-anchor="middle" font-size="20.7" fill="#000" >15</text>
<line x1="84.6" y1="22.35" x2="99.6" y2="22.35" stroke="#000" stroke-width="3.6" />
<text x="69.6" y="30.55" text-anchor="end" font-size="20.7" fill="#000" >15</text>
<line x1="84.6" y1="92.85" x2="99.6" y2="92.85" stroke="#000" stroke-width="3.6" />
<text x="69.6" y="101.05" text-anchor="end" font-size="20.7" fill="#000" >10</text>
<line x1="84.6" y1="163.35" x2="99.6" y2="163.35" stroke="#000" stroke-width="3.6" />
<text x="69.6" y="171.55" text-anchor="end" font-size="20.7" fill="#000" >5</text>
<line x1="84.6" y1="233.85" x2="99.6" y2="233.85" stroke="#000" stroke-width="3.6" />
<text x="69.6" y="242.05" text-anchor="end" font-size="20.7" fill="#000" >0</text>
<line x1="84.6" y1="304.35" x2="99.6" y2="304.35" stroke="#000" stroke-width="3.6" />
<text x="69.6" y="312.55" text-anchor="end" font-size="20.7" fill="#000" >−5</text>
<line x1="84.6" y1="374.85" x2="99.6" y2="374.85" stroke="#000" stroke-width="3.6" />
<text x="69.6" y="383.05" text-anchor="end" font-size="20.7" fill="#000" >−10</text>
<line x1="84.6" y1="445.35" x2="99.6" y2="445.35" stroke="#000" stroke-width="3.6" />
<text x="69.6" y="453.55" text-anchor="end" font-size="20.7" fill="#000" >−15</text>
<text x="309.7" y="513" text-anchor="middle" font-size="20.7" fill="#000" ><tspan font-style="italic">x</tspan> [au]</text>
<text x="0" y="0" text-anchor="middle" font-size="20.7" fill="#000" transform="translate(17.6 235.4) rotate(-90)"><tspan font-style="italic">y</tspan> [au]</text>
<line x1="550.4" y1="22.3" x2="565.4" y2="22.3" stroke="#000" stroke-width="3.6" />
<text x="580.2" y="30.5" text-anchor="start" font-size="20.7" fill="#000" >−11</text>
<line x1="550.4" y1="163.33" x2="565.4" y2="163.33" stroke="#000" stroke-width="3.6" />
<text x="580.2" y="171.53" text-anchor="start" font-size="20.7" fill="#000" >−13</text>
<line x1="550.4" y1="304.37" x2="565.4" y2="304.37" stroke="#000" stroke-width="3.6" />
<text x="580.2" y="312.57" text-anchor="start" font-size="20.7" fill="#000" >−15</text>
<line x1="550.4" y1="445.4" x2="565.4" y2="445.4" stroke="#000" stroke-width="3.6" />
<text x="580.2" y="453.6" text-anchor="start" font-size="20.7" fill="#000" >−17</text>
<text x="0" y="0" text-anchor="middle" font-size="20.7" fill="#000" transform="translate(659.4 234.8) rotate(-90)">log<tspan font-size="14.5" dy="4" dx="0.8">10</tspan><tspan dy="-4" dx="6.8">(</tspan><tspan font-style="italic" dx="0.8">ρ</tspan><tspan dx="0.8">)</tspan> [g/cm<tspan font-size="14.35" dy="-9.4">3</tspan><tspan dy="9.4">]</tspan></text>
<line x1="795.9" y1="9.45" x2="810.9" y2="9.45" stroke="#000" stroke-width="3.6" />
<text x="780.9" y="18.05" text-anchor="end" font-size="20.7" fill="#000" >2</text>
<line x1="795.9" y1="121.75" x2="810.9" y2="121.75" stroke="#000" stroke-width="3.6" />
<text x="780.9" y="130.35" text-anchor="end" font-size="20.7" fill="#000" >1</text>
<line x1="795.9" y1="234.05" x2="810.9" y2="234.05" stroke="#000" stroke-width="3.6" />
<text x="780.9" y="242.65" text-anchor="end" font-size="20.7" fill="#000" >0</text>
<line x1="795.9" y1="346.35" x2="810.9" y2="346.35" stroke="#000" stroke-width="3.6" />
<text x="780.9" y="354.95" text-anchor="end" font-size="20.7" fill="#000" >−1</text>
<line x1="795.9" y1="458.65" x2="810.9" y2="458.65" stroke="#000" stroke-width="3.6" />
<text x="780.9" y="467.25" text-anchor="end" font-size="20.7" fill="#000" >−2</text>
<text x="0" y="0" text-anchor="middle" font-size="20.7" fill="#000" transform="translate(744 235.4) rotate(-90)"><tspan font-style="italic">y</tspan> [au]</text>
<line x1="795.9" y1="476" x2="810.9" y2="476" stroke="#000" stroke-width="3.6" />
<text x="780.9" y="484.6" text-anchor="end" font-size="20.7" fill="#000" >1</text>
<line x1="795.9" y1="588.3" x2="810.9" y2="588.3" stroke="#000" stroke-width="3.6" />
<text x="780.9" y="596.9" text-anchor="end" font-size="20.7" fill="#000" >0</text>
<line x1="795.9" y1="700.6" x2="810.9" y2="700.6" stroke="#000" stroke-width="3.6" />
<text x="780.9" y="709.2" text-anchor="end" font-size="20.7" fill="#000" >−1</text>
<line x1="885.7" y1="700.6" x2="885.7" y2="715.6" stroke="#000" stroke-width="3.6" />
<text x="885.7" y="745.8" text-anchor="middle" font-size="20.7" fill="#000" >2</text>
<line x1="998" y1="700.6" x2="998" y2="715.6" stroke="#000" stroke-width="3.6" />
<text x="998" y="745.8" text-anchor="middle" font-size="20.7" fill="#000" >3</text>
<line x1="1110.3" y1="700.6" x2="1110.3" y2="715.6" stroke="#000" stroke-width="3.6" />
<text x="1110.3" y="745.8" text-anchor="middle" font-size="20.7" fill="#000" >4</text>
<line x1="1222.6" y1="700.6" x2="1222.6" y2="715.6" stroke="#000" stroke-width="3.6" />
<text x="1222.6" y="745.8" text-anchor="middle" font-size="20.7" fill="#000" >5</text>
<text x="1033.7" y="768.2" text-anchor="middle" font-size="20.7" fill="#000" ><tspan font-style="italic">x</tspan> [au]</text>
<text x="0" y="0" text-anchor="middle" font-size="20.7" fill="#000" transform="translate(744 590) rotate(-90)"><tspan font-style="italic">z</tspan> [au]</text>
<line x1="1278" y1="460.2" x2="1278" y2="475.2" stroke="#000" stroke-width="3.6" />
<text x="1278" y="506" text-anchor="middle" font-size="20.7" fill="#000" >−1</text>
<line x1="1391.2" y1="460.2" x2="1391.2" y2="475.2" stroke="#000" stroke-width="3.6" />
<text x="1391.2" y="506" text-anchor="middle" font-size="20.7" fill="#000" >0</text>
<line x1="1504.4" y1="460.2" x2="1504.4" y2="475.2" stroke="#000" stroke-width="3.6" />
<text x="1504.4" y="506" text-anchor="middle" font-size="20.7" fill="#000" >1</text>
<text x="1389.5" y="527.8" text-anchor="middle" font-size="20.7" fill="#000" ><tspan font-style="italic">z</tspan> [au]</text>
<line x1="1533.9" y1="7.6" x2="1548.9" y2="7.6" stroke="#000" stroke-width="3.6" />
<text x="1563.2" y="15.8" text-anchor="start" font-size="20.7" fill="#000" >−10</text>
<line x1="1533.9" y1="98.16" x2="1548.9" y2="98.16" stroke="#000" stroke-width="3.6" />
<text x="1563.2" y="106.36" text-anchor="start" font-size="20.7" fill="#000" >−11</text>
<line x1="1533.9" y1="188.72" x2="1548.9" y2="188.72" stroke="#000" stroke-width="3.6" />
<text x="1563.2" y="196.92" text-anchor="start" font-size="20.7" fill="#000" >−12</text>
<line x1="1533.9" y1="279.28" x2="1548.9" y2="279.28" stroke="#000" stroke-width="3.6" />
<text x="1563.2" y="287.48" text-anchor="start" font-size="20.7" fill="#000" >−13</text>
<line x1="1533.9" y1="369.84" x2="1548.9" y2="369.84" stroke="#000" stroke-width="3.6" />
<text x="1563.2" y="378.04" text-anchor="start" font-size="20.7" fill="#000" >−14</text>
<line x1="1533.9" y1="460.4" x2="1548.9" y2="460.4" stroke="#000" stroke-width="3.6" />
<text x="1563.2" y="468.6" text-anchor="start" font-size="20.7" fill="#000" >−15</text>
<text x="0" y="0" text-anchor="middle" font-size="20.7" fill="#000" transform="translate(1641.9 234.8) rotate(-90)">log<tspan font-size="14.5" dy="4" dx="0.8">10</tspan><tspan dy="-4" dx="6.8">(</tspan><tspan font-style="italic" dx="0.8">ρ</tspan><tspan dx="0.8">)</tspan> [g/cm<tspan font-size="14.35" dy="-9.4">3</tspan><tspan dy="9.4">]</tspan></text>
<text x="107.6" y="49.8" text-anchor="start" font-size="24.6" fill="#fff" >a)</text>
<text x="819.4" y="36.6" text-anchor="start" font-size="24.6" fill="#fff" >b)</text>
</g>
<rect x="0" y="0" width="109" height="17" fill="#000"/>
<text x="54.2" y="13.1" text-anchor="middle" font-family="'DejaVu Sans','Liberation Sans',sans-serif" font-weight="bold" font-size="13.6" fill="#fff" stroke="#fff" stroke-width="0.35" textLength="84" lengthAdjust="spacingAndGlyphs">RUTAB.NET</text>
</svg>
</body></html>
